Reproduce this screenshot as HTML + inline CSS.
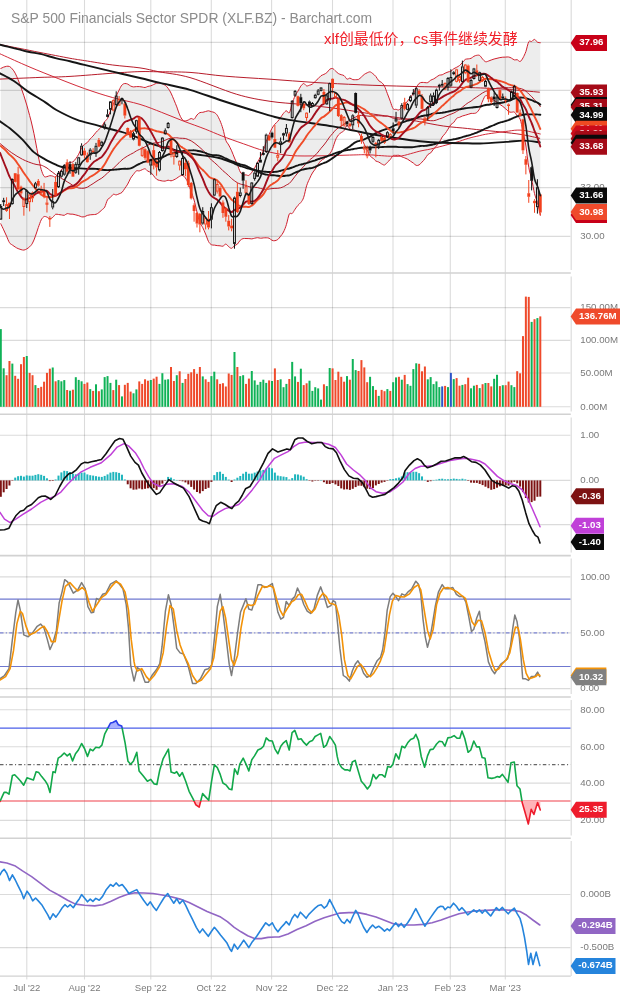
<!DOCTYPE html>
<html><head><meta charset="utf-8"><title>XLF - Barchart</title>
<style>
html,body{margin:0;padding:0;background:#fff;width:621px;height:1000px;overflow:hidden}
svg{display:block}
.ax{font-family:"Liberation Sans","DejaVu Sans",sans-serif;font-size:9.7px;fill:#7a7a7a}
.mo{font-family:"Liberation Sans","DejaVu Sans",sans-serif;font-size:9.5px;fill:#7a7a7a}
.tg{font-family:"Liberation Sans","DejaVu Sans",sans-serif;font-size:9.7px;font-weight:bold}
.ti{font-family:"Liberation Sans","DejaVu Sans",sans-serif;font-size:13.9px;fill:#8c8c8c}
.cn{font-family:"Liberation Sans","Noto Sans CJK SC",sans-serif;font-size:14.9px;fill:#f0202a}
</style></head><body>
<svg width="621" height="1000" viewBox="0 0 621 1000"><rect width="621" height="1000" fill="#fff"/><line x1="26.8" y1="0" x2="26.8" y2="979.5" stroke="#000" stroke-opacity="0.14" stroke-width="1.1"/><line x1="84.5" y1="0" x2="84.5" y2="979.5" stroke="#000" stroke-opacity="0.14" stroke-width="1.1"/><line x1="150.8" y1="0" x2="150.8" y2="979.5" stroke="#000" stroke-opacity="0.14" stroke-width="1.1"/><line x1="211.3" y1="0" x2="211.3" y2="979.5" stroke="#000" stroke-opacity="0.14" stroke-width="1.1"/><line x1="271.6" y1="0" x2="271.6" y2="979.5" stroke="#000" stroke-opacity="0.14" stroke-width="1.1"/><line x1="332.5" y1="0" x2="332.5" y2="979.5" stroke="#000" stroke-opacity="0.14" stroke-width="1.1"/><line x1="393.0" y1="0" x2="393.0" y2="979.5" stroke="#000" stroke-opacity="0.14" stroke-width="1.1"/><line x1="450.3" y1="0" x2="450.3" y2="979.5" stroke="#000" stroke-opacity="0.14" stroke-width="1.1"/><line x1="505.3" y1="0" x2="505.3" y2="979.5" stroke="#000" stroke-opacity="0.14" stroke-width="1.1"/><line x1="0" y1="42.4" x2="570.5" y2="42.4" stroke="#000" stroke-width="1.1" stroke-opacity="0.14"/><line x1="0" y1="90.4" x2="570.5" y2="90.4" stroke="#000" stroke-width="1.1" stroke-opacity="0.14"/><line x1="0" y1="139.2" x2="570.5" y2="139.2" stroke="#000" stroke-width="1.1" stroke-opacity="0.14"/><line x1="0" y1="187.6" x2="570.5" y2="187.6" stroke="#000" stroke-width="1.1" stroke-opacity="0.14"/><line x1="0" y1="236.4" x2="570.5" y2="236.4" stroke="#000" stroke-width="1.1" stroke-opacity="0.14"/><line x1="0" y1="307.6" x2="570.5" y2="307.6" stroke="#000" stroke-width="1.1" stroke-opacity="0.14"/><line x1="0" y1="340.4" x2="570.5" y2="340.4" stroke="#000" stroke-width="1.1" stroke-opacity="0.14"/><line x1="0" y1="373.0" x2="570.5" y2="373.0" stroke="#000" stroke-width="1.1" stroke-opacity="0.14"/><line x1="0" y1="406.8" x2="570.5" y2="406.8" stroke="#000" stroke-width="1.1" stroke-opacity="0.14"/><line x1="0" y1="435.3" x2="570.5" y2="435.3" stroke="#000" stroke-width="1.1" stroke-opacity="0.14"/><line x1="0" y1="480.4" x2="570.5" y2="480.4" stroke="#000" stroke-width="1.1" stroke-opacity="0.14"/><line x1="0" y1="524.6" x2="570.5" y2="524.6" stroke="#000" stroke-width="1.1" stroke-opacity="0.14"/><line x1="0" y1="576.9" x2="570.5" y2="576.9" stroke="#000" stroke-width="1.1" stroke-opacity="0.14"/><line x1="0" y1="632.9" x2="570.5" y2="632.9" stroke="#000" stroke-width="1.1" stroke-opacity="0.14"/><line x1="0" y1="688.6" x2="570.5" y2="688.6" stroke="#000" stroke-width="1.1" stroke-opacity="0.14"/><line x1="0" y1="709.8" x2="570.5" y2="709.8" stroke="#000" stroke-width="1.1" stroke-opacity="0.14"/><line x1="0" y1="746.8" x2="570.5" y2="746.8" stroke="#000" stroke-width="1.1" stroke-opacity="0.14"/><line x1="0" y1="783.1" x2="570.5" y2="783.1" stroke="#000" stroke-width="1.1" stroke-opacity="0.14"/><line x1="0" y1="820.4" x2="570.5" y2="820.4" stroke="#000" stroke-width="1.1" stroke-opacity="0.14"/><line x1="0" y1="894.5" x2="570.5" y2="894.5" stroke="#000" stroke-width="1.1" stroke-opacity="0.14"/><line x1="0" y1="947.6" x2="570.5" y2="947.6" stroke="#000" stroke-width="1.1" stroke-opacity="0.14"/><line x1="0" y1="273.0" x2="570.8" y2="273.0" stroke="#d2d2d2" stroke-width="1.6" /><line x1="0" y1="414.3" x2="570.8" y2="414.3" stroke="#d2d2d2" stroke-width="1.6" /><line x1="0" y1="555.6" x2="570.8" y2="555.6" stroke="#d2d2d2" stroke-width="1.6" /><line x1="0" y1="697.0" x2="570.8" y2="697.0" stroke="#d2d2d2" stroke-width="1.6" /><line x1="0" y1="838.3" x2="570.8" y2="838.3" stroke="#d2d2d2" stroke-width="1.6" /><line x1="0" y1="976.2" x2="570.8" y2="976.2" stroke="#d2d2d2" stroke-width="1.3" /><line x1="571.2" y1="0" x2="571.2" y2="270" stroke="#dcdcdc" stroke-width="1.2"/><line x1="571.2" y1="276.5" x2="571.2" y2="411.5" stroke="#dcdcdc" stroke-width="1.2"/><line x1="571.2" y1="417.5" x2="571.2" y2="552.5" stroke="#dcdcdc" stroke-width="1.2"/><line x1="571.2" y1="558.5" x2="571.2" y2="694" stroke="#dcdcdc" stroke-width="1.2"/><line x1="571.2" y1="700" x2="571.2" y2="835.5" stroke="#dcdcdc" stroke-width="1.2"/><line x1="571.2" y1="841" x2="571.2" y2="976" stroke="#dcdcdc" stroke-width="1.2"/><path d="M0.8,68.5 C1.3,68.3 2.7,67.5 3.7,67.1 C4.6,66.8 5.6,66.5 6.6,66.3 C7.5,66.2 8.5,66.0 9.5,66.5 C10.4,66.9 11.4,67.9 12.3,69.0 C13.3,70.1 14.3,71.4 15.2,73.2 C16.2,75.0 17.1,77.4 18.1,79.7 C19.1,82.1 20.0,84.7 21.0,87.4 C22.0,90.1 22.9,92.9 23.9,95.8 C24.8,98.8 25.8,101.9 26.8,105.1 C27.7,108.4 28.7,111.8 29.6,115.4 C30.6,119.0 31.6,122.7 32.5,127.0 C33.5,131.2 34.5,136.1 35.4,140.9 C36.4,145.8 37.3,151.5 38.3,156.2 C39.3,161.0 40.2,166.0 41.2,169.4 C42.2,172.7 43.1,175.1 44.1,176.3 C45.0,177.5 46.0,176.7 47.0,176.6 C47.9,176.5 48.9,175.8 49.8,175.7 C50.8,175.6 51.8,175.9 52.7,176.1 C53.7,176.3 54.7,177.5 55.6,177.1 C56.6,176.6 57.5,174.7 58.5,173.5 C59.5,172.4 60.4,171.3 61.4,170.0 C62.3,168.7 63.3,166.8 64.3,165.8 C65.2,164.8 66.2,164.5 67.2,164.0 C68.1,163.4 69.1,162.8 70.0,162.5 C71.0,162.1 72.0,162.5 72.9,161.9 C73.9,161.2 74.8,159.9 75.8,158.6 C76.8,157.3 77.7,156.0 78.7,154.2 C79.7,152.4 80.6,149.5 81.6,147.8 C82.5,146.2 83.5,145.3 84.5,144.4 C85.4,143.5 86.4,143.5 87.3,142.5 C88.3,141.6 89.3,139.9 90.2,138.8 C91.2,137.7 92.2,137.1 93.1,136.0 C94.1,134.9 95.0,133.4 96.0,132.3 C97.0,131.2 97.9,130.4 98.9,129.4 C99.9,128.5 100.8,127.8 101.8,126.5 C102.7,125.2 103.7,122.9 104.7,121.5 C105.6,120.2 106.6,120.3 107.5,118.5 C108.5,116.8 109.5,113.3 110.4,111.0 C111.4,108.7 112.4,106.9 113.3,104.5 C114.3,102.0 115.2,98.6 116.2,96.2 C117.2,93.8 118.1,92.0 119.1,90.1 C120.0,88.2 121.0,86.1 122.0,85.0 C122.9,83.9 123.9,83.7 124.9,83.5 C125.8,83.4 126.8,83.7 127.7,84.1 C128.7,84.5 129.7,85.6 130.6,86.0 C131.6,86.5 132.5,86.8 133.5,86.9 C134.5,87.0 135.4,86.6 136.4,86.6 C137.4,86.6 138.3,86.5 139.3,86.6 C140.2,86.7 141.2,86.9 142.2,87.0 C143.1,87.2 144.1,87.6 145.1,87.5 C146.0,87.4 147.0,86.7 147.9,86.4 C148.9,86.1 149.9,86.2 150.8,85.8 C151.8,85.5 152.7,85.0 153.7,84.5 C154.7,84.1 155.6,83.5 156.6,83.2 C157.6,83.0 158.5,83.0 159.5,83.1 C160.4,83.2 161.4,83.4 162.4,83.8 C163.3,84.2 164.3,84.5 165.2,85.3 C166.2,86.0 167.2,87.0 168.1,88.3 C169.1,89.6 170.1,91.2 171.0,93.1 C172.0,95.0 172.9,97.5 173.9,99.8 C174.9,102.2 175.8,104.4 176.8,106.9 C177.7,109.4 178.7,112.8 179.7,114.9 C180.6,117.1 181.6,118.9 182.6,119.9 C183.5,120.9 184.5,120.9 185.4,120.9 C186.4,120.9 187.4,120.4 188.3,120.0 C189.3,119.6 190.2,118.6 191.2,118.5 C192.2,118.4 193.1,119.8 194.1,119.2 C195.1,118.6 196.0,116.1 197.0,115.0 C197.9,113.9 198.9,113.1 199.9,112.6 C200.8,112.2 201.8,112.5 202.8,112.3 C203.7,112.1 204.7,111.8 205.6,111.5 C206.6,111.3 207.6,110.8 208.5,110.8 C209.5,110.9 210.4,111.5 211.4,111.7 C212.4,112.0 213.3,111.9 214.3,112.5 C215.3,113.1 216.2,113.8 217.2,115.2 C218.1,116.6 219.1,118.7 220.1,120.9 C221.0,123.2 222.0,125.6 222.9,128.8 C223.9,132.0 224.9,137.6 225.8,140.3 C226.8,143.0 227.8,143.2 228.7,145.0 C229.7,146.7 230.6,148.7 231.6,150.8 C232.6,153.0 233.5,155.7 234.5,158.0 C235.4,160.3 236.4,162.3 237.4,164.6 C238.3,167.0 239.3,170.3 240.3,172.0 C241.2,173.7 242.2,174.2 243.1,174.7 C244.1,175.2 245.1,174.8 246.0,174.9 C247.0,175.0 247.9,175.8 248.9,175.4 C249.9,174.9 250.8,173.5 251.8,172.3 C252.8,171.0 253.7,169.6 254.7,167.9 C255.6,166.2 256.6,164.0 257.6,162.1 C258.5,160.3 259.5,158.7 260.4,156.8 C261.4,154.9 262.4,153.3 263.3,150.8 C264.3,148.2 265.3,144.4 266.2,141.7 C267.2,139.0 268.1,136.7 269.1,134.5 C270.1,132.3 271.0,130.0 272.0,128.3 C273.0,126.5 273.9,125.4 274.9,124.2 C275.8,123.1 276.8,122.5 277.8,121.3 C278.7,120.2 279.7,118.7 280.6,117.4 C281.6,116.1 282.6,114.4 283.5,113.3 C284.5,112.2 285.5,110.8 286.4,110.8 C287.4,110.7 288.3,114.0 289.3,112.8 C290.3,111.6 291.2,106.4 292.2,103.6 C293.1,100.8 294.1,97.9 295.1,95.8 C296.0,93.7 297.0,92.7 298.0,91.1 C298.9,89.5 299.9,87.4 300.8,86.1 C301.8,84.9 302.8,83.6 303.7,83.5 C304.7,83.5 305.6,85.6 306.6,85.9 C307.6,86.2 308.5,85.5 309.5,85.2 C310.5,84.9 311.4,84.7 312.4,84.0 C313.3,83.4 314.3,82.1 315.3,81.2 C316.2,80.3 317.2,79.6 318.1,78.7 C319.1,77.8 320.1,76.4 321.0,75.7 C322.0,75.0 323.0,74.9 323.9,74.4 C324.9,73.9 325.8,73.5 326.8,72.7 C327.8,71.8 328.7,70.0 329.7,69.3 C330.7,68.6 331.6,68.3 332.6,68.5 C333.5,68.8 334.5,70.2 335.5,71.0 C336.4,71.8 337.4,72.8 338.3,73.5 C339.3,74.1 340.3,74.4 341.2,74.7 C342.2,75.1 343.2,74.9 344.1,75.7 C345.1,76.4 346.0,78.7 347.0,79.1 C348.0,79.5 348.9,78.1 349.9,78.1 C350.8,78.2 351.8,79.3 352.8,79.6 C353.7,79.8 354.7,79.7 355.7,79.7 C356.6,79.6 357.6,79.9 358.5,79.4 C359.5,79.0 360.5,77.9 361.4,77.0 C362.4,76.2 363.3,75.1 364.3,74.4 C365.3,73.7 366.2,73.2 367.2,72.8 C368.2,72.4 369.1,71.7 370.1,71.9 C371.0,72.0 372.0,73.0 373.0,73.8 C373.9,74.5 374.9,75.3 375.8,76.4 C376.8,77.6 377.8,79.7 378.7,80.7 C379.7,81.7 380.7,81.6 381.6,82.5 C382.6,83.5 383.5,84.3 384.5,86.2 C385.5,88.1 386.4,91.2 387.4,93.7 C388.4,96.2 389.3,98.8 390.3,101.3 C391.2,103.8 392.2,107.5 393.2,108.8 C394.1,110.2 395.1,109.1 396.0,109.3 C397.0,109.5 398.0,110.3 398.9,109.9 C399.9,109.5 400.9,108.1 401.8,107.2 C402.8,106.3 403.7,105.6 404.7,104.6 C405.7,103.6 406.6,102.3 407.6,101.0 C408.5,99.8 409.5,98.4 410.5,97.1 C411.4,95.9 412.4,95.0 413.4,93.4 C414.3,91.8 415.3,89.2 416.2,87.5 C417.2,85.9 418.2,84.3 419.1,83.4 C420.1,82.6 421.0,82.5 422.0,82.4 C423.0,82.3 423.9,82.6 424.9,82.6 C425.9,82.6 426.8,83.0 427.8,82.6 C428.7,82.2 429.7,80.8 430.7,80.2 C431.6,79.6 432.6,79.5 433.5,79.0 C434.5,78.5 435.5,77.7 436.4,77.1 C437.4,76.4 438.4,75.6 439.3,75.2 C440.3,74.8 441.2,75.1 442.2,74.8 C443.2,74.4 444.1,73.7 445.1,73.2 C446.1,72.8 447.0,72.3 448.0,72.0 C448.9,71.6 449.9,71.7 450.9,71.2 C451.8,70.6 452.8,69.5 453.7,68.8 C454.7,68.2 455.7,67.9 456.6,67.3 C457.6,66.8 458.6,66.3 459.5,65.5 C460.5,64.7 461.4,63.6 462.4,62.5 C463.4,61.5 464.3,60.0 465.3,59.4 C466.2,58.8 467.2,59.1 468.2,58.9 C469.1,58.7 470.1,58.7 471.1,58.3 C472.0,57.9 473.0,56.8 473.9,56.3 C474.9,55.8 475.9,55.4 476.8,55.3 C477.8,55.2 478.7,54.9 479.7,55.5 C480.7,56.1 481.6,58.0 482.6,59.0 C483.6,60.1 484.5,61.4 485.5,61.7 C486.4,62.1 487.4,61.4 488.4,61.1 C489.3,60.8 490.3,60.3 491.2,60.0 C492.2,59.6 493.2,59.3 494.1,59.0 C495.1,58.7 496.1,58.6 497.0,58.3 C498.0,58.1 498.9,57.8 499.9,57.6 C500.9,57.4 501.8,57.3 502.8,57.2 C503.8,57.1 504.7,57.1 505.7,57.1 C506.6,57.0 507.6,56.8 508.6,57.0 C509.5,57.1 510.5,57.6 511.4,58.1 C512.4,58.6 513.4,59.6 514.3,59.9 C515.3,60.2 516.3,59.5 517.2,59.7 C518.2,60.0 519.1,61.8 520.1,61.5 C521.1,61.2 522.0,59.6 523.0,57.9 C523.9,56.2 524.9,54.2 525.9,51.5 C526.8,48.8 527.8,43.4 528.8,41.7 C529.7,40.1 530.7,41.9 531.6,41.5 C532.6,41.1 533.6,39.3 534.5,39.4 C535.5,39.5 536.4,41.6 537.4,42.2 C538.4,42.7 539.8,42.6 540.3,42.7 L540.3,215.4 C539.8,213.2 538.4,206.0 537.4,202.4 C536.4,198.8 535.5,197.5 534.5,193.6 C533.6,189.7 532.6,183.3 531.6,178.9 C530.7,174.5 529.7,172.9 528.8,167.4 C527.8,161.9 526.8,152.0 525.9,146.0 C524.9,139.9 523.9,135.7 523.0,131.3 C522.0,126.8 521.1,121.7 520.1,119.1 C519.1,116.5 518.2,117.1 517.2,115.9 C516.3,114.7 515.3,112.7 514.3,112.1 C513.4,111.5 512.4,112.3 511.4,112.2 C510.5,112.2 509.5,112.2 508.6,111.6 C507.6,111.0 506.6,109.6 505.7,108.8 C504.7,107.9 503.8,107.1 502.8,106.4 C501.8,105.7 500.9,105.1 499.9,104.4 C498.9,103.8 498.0,103.0 497.0,102.3 C496.1,101.7 495.1,101.1 494.1,100.4 C493.2,99.8 492.2,99.1 491.2,98.5 C490.3,97.9 489.3,97.2 488.4,96.7 C487.4,96.2 486.4,95.0 485.5,95.7 C484.5,96.4 483.6,98.8 482.6,101.0 C481.6,103.1 480.7,106.7 479.7,108.6 C478.7,110.5 477.8,111.6 476.8,112.4 C475.9,113.3 474.9,113.3 473.9,113.4 C473.0,113.6 472.0,113.3 471.1,113.4 C470.1,113.6 469.1,114.0 468.2,114.3 C467.2,114.6 466.2,114.9 465.3,115.2 C464.3,115.5 463.4,115.7 462.4,116.0 C461.4,116.4 460.5,116.9 459.5,117.3 C458.6,117.7 457.6,117.5 456.6,118.4 C455.7,119.3 454.7,121.5 453.7,122.5 C452.8,123.5 451.8,123.5 450.9,124.6 C449.9,125.7 448.9,127.7 448.0,129.2 C447.0,130.7 446.1,132.3 445.1,133.6 C444.1,134.9 443.2,135.5 442.2,137.0 C441.2,138.4 440.3,140.8 439.3,142.3 C438.4,143.8 437.4,144.9 436.4,146.0 C435.5,147.1 434.5,147.9 433.5,149.1 C432.6,150.2 431.6,151.9 430.7,152.9 C429.7,153.8 428.7,153.6 427.8,154.6 C426.8,155.6 425.9,157.7 424.9,158.9 C423.9,160.2 423.0,161.1 422.0,162.1 C421.0,163.1 420.1,164.3 419.1,164.9 C418.2,165.4 417.2,165.7 416.2,165.4 C415.3,165.1 414.3,163.8 413.4,163.1 C412.4,162.4 411.4,161.9 410.5,161.2 C409.5,160.6 408.5,159.8 407.6,159.2 C406.6,158.7 405.7,158.3 404.7,157.9 C403.7,157.5 402.8,157.3 401.8,156.8 C400.9,156.4 399.9,155.5 398.9,155.3 C398.0,155.1 397.0,155.4 396.0,155.4 C395.1,155.5 394.1,155.0 393.2,155.6 C392.2,156.3 391.2,158.2 390.3,159.4 C389.3,160.5 388.4,161.4 387.4,162.3 C386.4,163.3 385.5,164.7 384.5,165.0 C383.5,165.2 382.6,164.3 381.6,163.9 C380.7,163.4 379.7,162.5 378.7,162.0 C377.8,161.5 376.8,161.6 375.8,161.0 C374.9,160.3 373.9,159.0 373.0,158.2 C372.0,157.4 371.0,157.2 370.1,155.9 C369.1,154.6 368.2,152.1 367.2,150.2 C366.2,148.3 365.3,146.4 364.3,144.4 C363.3,142.5 362.4,140.3 361.4,138.4 C360.5,136.4 359.5,134.0 358.5,132.7 C357.6,131.4 356.6,130.9 355.7,130.5 C354.7,130.0 353.7,130.1 352.8,129.9 C351.8,129.6 350.8,129.6 349.9,128.9 C348.9,128.1 348.0,125.0 347.0,125.3 C346.0,125.6 345.1,129.3 344.1,130.5 C343.2,131.8 342.2,131.8 341.2,132.6 C340.3,133.3 339.3,133.8 338.3,135.1 C337.4,136.3 336.4,137.8 335.5,140.1 C334.5,142.3 333.5,146.4 332.6,148.7 C331.6,151.1 330.7,152.8 329.7,154.0 C328.7,155.2 327.8,155.2 326.8,156.0 C325.8,156.8 324.9,158.0 323.9,158.8 C323.0,159.5 322.0,159.6 321.0,160.6 C320.1,161.5 319.1,163.0 318.1,164.4 C317.2,165.8 316.2,167.6 315.3,169.0 C314.3,170.5 313.3,171.4 312.4,173.0 C311.4,174.6 310.5,176.7 309.5,178.8 C308.5,180.9 307.6,182.8 306.6,185.8 C305.6,188.9 304.7,194.5 303.7,197.3 C302.8,200.1 301.8,201.2 300.8,202.5 C299.9,203.8 298.9,204.1 298.0,205.3 C297.0,206.4 296.0,207.8 295.1,209.2 C294.1,210.6 293.1,212.7 292.2,213.5 C291.2,214.3 290.3,212.1 289.3,214.0 C288.3,215.8 287.4,221.6 286.4,224.6 C285.5,227.6 284.5,230.0 283.5,232.0 C282.6,233.9 281.6,235.0 280.6,236.2 C279.7,237.5 278.7,238.7 277.8,239.5 C276.8,240.2 275.8,240.6 274.9,240.7 C273.9,240.9 273.0,240.7 272.0,240.3 C271.0,239.9 270.1,238.7 269.1,238.2 C268.1,237.8 267.2,237.8 266.2,237.8 C265.3,237.7 264.3,237.9 263.3,237.9 C262.4,238.0 261.4,238.3 260.4,238.2 C259.5,238.2 258.5,237.7 257.6,237.7 C256.6,237.7 255.6,238.0 254.7,238.2 C253.7,238.4 252.8,238.8 251.8,238.9 C250.8,238.9 249.9,238.7 248.9,238.6 C247.9,238.6 247.0,238.5 246.0,238.5 C245.1,238.5 244.1,238.4 243.1,238.6 C242.2,238.9 241.2,239.3 240.3,240.2 C239.3,241.1 238.3,243.2 237.4,244.1 C236.4,245.0 235.4,244.9 234.5,245.6 C233.5,246.4 232.6,248.1 231.6,248.3 C230.6,248.5 229.7,247.4 228.7,246.7 C227.8,246.0 226.8,244.2 225.8,244.1 C224.9,244.0 223.9,245.9 222.9,246.2 C222.0,246.5 221.0,245.9 220.1,245.8 C219.1,245.7 218.1,245.7 217.2,245.6 C216.2,245.5 215.3,245.3 214.3,245.1 C213.3,245.0 212.4,245.3 211.4,244.7 C210.4,244.1 209.5,243.3 208.5,241.5 C207.6,239.7 206.6,236.3 205.6,234.0 C204.7,231.7 203.7,229.7 202.8,227.7 C201.8,225.8 200.8,224.7 199.9,222.1 C198.9,219.5 197.9,215.8 197.0,212.1 C196.0,208.4 195.1,203.5 194.1,200.1 C193.1,196.7 192.2,194.4 191.2,191.7 C190.2,189.0 189.3,186.0 188.3,183.7 C187.4,181.4 186.4,179.4 185.4,178.0 C184.5,176.6 183.5,175.8 182.6,175.5 C181.6,175.2 180.6,175.8 179.7,176.2 C178.7,176.7 177.7,177.6 176.8,178.2 C175.8,178.8 174.9,179.4 173.9,179.8 C172.9,180.3 172.0,180.8 171.0,180.8 C170.1,180.9 169.1,180.2 168.1,180.2 C167.2,180.2 166.2,181.0 165.2,181.1 C164.3,181.2 163.3,181.1 162.4,181.0 C161.4,180.9 160.4,180.7 159.5,180.4 C158.5,180.1 157.6,180.0 156.6,179.2 C155.6,178.5 154.7,177.0 153.7,175.8 C152.7,174.7 151.8,173.3 150.8,172.5 C149.9,171.7 148.9,171.8 147.9,171.2 C147.0,170.6 146.0,169.1 145.1,168.8 C144.1,168.6 143.1,169.4 142.2,169.7 C141.2,170.1 140.2,170.7 139.3,170.9 C138.3,171.1 137.4,170.3 136.4,170.9 C135.4,171.4 134.5,173.1 133.5,174.3 C132.5,175.5 131.6,176.6 130.6,178.2 C129.7,179.8 128.7,182.4 127.7,184.1 C126.8,185.8 125.8,186.9 124.9,188.3 C123.9,189.7 122.9,191.5 122.0,192.4 C121.0,193.3 120.0,193.4 119.1,193.8 C118.1,194.2 117.2,194.8 116.2,194.9 C115.2,195.0 114.3,193.9 113.3,194.3 C112.4,194.8 111.4,196.5 110.4,197.4 C109.5,198.3 108.5,198.2 107.5,199.8 C106.6,201.4 105.6,205.4 104.7,207.1 C103.7,208.8 102.7,209.1 101.8,210.0 C100.8,210.9 99.9,211.8 98.9,212.6 C97.9,213.3 97.0,214.0 96.0,214.3 C95.0,214.6 94.1,214.5 93.1,214.6 C92.2,214.7 91.2,214.7 90.2,214.8 C89.3,215.0 88.3,215.1 87.3,215.4 C86.4,215.7 85.4,216.5 84.5,216.7 C83.5,217.0 82.5,217.0 81.6,216.8 C80.6,216.6 79.7,216.0 78.7,215.7 C77.7,215.4 76.8,215.2 75.8,214.9 C74.8,214.7 73.9,214.4 72.9,214.2 C72.0,214.1 71.0,214.2 70.0,214.1 C69.1,214.0 68.1,213.4 67.2,213.6 C66.2,213.8 65.2,215.0 64.3,215.3 C63.3,215.5 62.3,215.0 61.4,214.9 C60.4,214.8 59.5,214.6 58.5,214.5 C57.5,214.4 56.6,213.9 55.6,214.3 C54.7,214.8 53.7,216.6 52.7,217.4 C51.8,218.1 50.8,218.8 49.8,218.7 C48.9,218.7 47.9,217.5 47.0,217.1 C46.0,216.8 45.0,216.1 44.1,216.6 C43.1,217.0 42.2,218.1 41.2,219.9 C40.2,221.8 39.3,224.8 38.3,227.5 C37.3,230.3 36.4,233.6 35.4,236.2 C34.5,238.8 33.5,241.3 32.5,243.1 C31.6,244.9 30.6,245.8 29.6,246.8 C28.7,247.7 27.7,248.3 26.8,248.9 C25.8,249.4 24.8,250.0 23.9,250.1 C22.9,250.2 22.0,249.8 21.0,249.6 C20.0,249.3 19.1,249.0 18.1,248.6 C17.1,248.2 16.2,247.6 15.2,247.0 C14.3,246.4 13.3,245.7 12.3,245.0 C11.4,244.3 10.4,244.2 9.5,242.7 C8.5,241.2 7.5,238.3 6.6,236.2 C5.6,234.0 4.6,231.9 3.7,229.9 C2.7,227.8 1.3,224.8 0.8,223.8 Z" fill="#000" fill-opacity="0.072" stroke="none"/><path d="M0.8,68.5 C1.3,68.3 2.7,67.5 3.7,67.1 C4.6,66.8 5.6,66.5 6.6,66.3 C7.5,66.2 8.5,66.0 9.5,66.5 C10.4,66.9 11.4,67.9 12.3,69.0 C13.3,70.1 14.3,71.4 15.2,73.2 C16.2,75.0 17.1,77.4 18.1,79.7 C19.1,82.1 20.0,84.7 21.0,87.4 C22.0,90.1 22.9,92.9 23.9,95.8 C24.8,98.8 25.8,101.9 26.8,105.1 C27.7,108.4 28.7,111.8 29.6,115.4 C30.6,119.0 31.6,122.7 32.5,127.0 C33.5,131.2 34.5,136.1 35.4,140.9 C36.4,145.8 37.3,151.5 38.3,156.2 C39.3,161.0 40.2,166.0 41.2,169.4 C42.2,172.7 43.1,175.1 44.1,176.3 C45.0,177.5 46.0,176.7 47.0,176.6 C47.9,176.5 48.9,175.8 49.8,175.7 C50.8,175.6 51.8,175.9 52.7,176.1 C53.7,176.3 54.7,177.5 55.6,177.1 C56.6,176.6 57.5,174.7 58.5,173.5 C59.5,172.4 60.4,171.3 61.4,170.0 C62.3,168.7 63.3,166.8 64.3,165.8 C65.2,164.8 66.2,164.5 67.2,164.0 C68.1,163.4 69.1,162.8 70.0,162.5 C71.0,162.1 72.0,162.5 72.9,161.9 C73.9,161.2 74.8,159.9 75.8,158.6 C76.8,157.3 77.7,156.0 78.7,154.2 C79.7,152.4 80.6,149.5 81.6,147.8 C82.5,146.2 83.5,145.3 84.5,144.4 C85.4,143.5 86.4,143.5 87.3,142.5 C88.3,141.6 89.3,139.9 90.2,138.8 C91.2,137.7 92.2,137.1 93.1,136.0 C94.1,134.9 95.0,133.4 96.0,132.3 C97.0,131.2 97.9,130.4 98.9,129.4 C99.9,128.5 100.8,127.8 101.8,126.5 C102.7,125.2 103.7,122.9 104.7,121.5 C105.6,120.2 106.6,120.3 107.5,118.5 C108.5,116.8 109.5,113.3 110.4,111.0 C111.4,108.7 112.4,106.9 113.3,104.5 C114.3,102.0 115.2,98.6 116.2,96.2 C117.2,93.8 118.1,92.0 119.1,90.1 C120.0,88.2 121.0,86.1 122.0,85.0 C122.9,83.9 123.9,83.7 124.9,83.5 C125.8,83.4 126.8,83.7 127.7,84.1 C128.7,84.5 129.7,85.6 130.6,86.0 C131.6,86.5 132.5,86.8 133.5,86.9 C134.5,87.0 135.4,86.6 136.4,86.6 C137.4,86.6 138.3,86.5 139.3,86.6 C140.2,86.7 141.2,86.9 142.2,87.0 C143.1,87.2 144.1,87.6 145.1,87.5 C146.0,87.4 147.0,86.7 147.9,86.4 C148.9,86.1 149.9,86.2 150.8,85.8 C151.8,85.5 152.7,85.0 153.7,84.5 C154.7,84.1 155.6,83.5 156.6,83.2 C157.6,83.0 158.5,83.0 159.5,83.1 C160.4,83.2 161.4,83.4 162.4,83.8 C163.3,84.2 164.3,84.5 165.2,85.3 C166.2,86.0 167.2,87.0 168.1,88.3 C169.1,89.6 170.1,91.2 171.0,93.1 C172.0,95.0 172.9,97.5 173.9,99.8 C174.9,102.2 175.8,104.4 176.8,106.9 C177.7,109.4 178.7,112.8 179.7,114.9 C180.6,117.1 181.6,118.9 182.6,119.9 C183.5,120.9 184.5,120.9 185.4,120.9 C186.4,120.9 187.4,120.4 188.3,120.0 C189.3,119.6 190.2,118.6 191.2,118.5 C192.2,118.4 193.1,119.8 194.1,119.2 C195.1,118.6 196.0,116.1 197.0,115.0 C197.9,113.9 198.9,113.1 199.9,112.6 C200.8,112.2 201.8,112.5 202.8,112.3 C203.7,112.1 204.7,111.8 205.6,111.5 C206.6,111.3 207.6,110.8 208.5,110.8 C209.5,110.9 210.4,111.5 211.4,111.7 C212.4,112.0 213.3,111.9 214.3,112.5 C215.3,113.1 216.2,113.8 217.2,115.2 C218.1,116.6 219.1,118.7 220.1,120.9 C221.0,123.2 222.0,125.6 222.9,128.8 C223.9,132.0 224.9,137.6 225.8,140.3 C226.8,143.0 227.8,143.2 228.7,145.0 C229.7,146.7 230.6,148.7 231.6,150.8 C232.6,153.0 233.5,155.7 234.5,158.0 C235.4,160.3 236.4,162.3 237.4,164.6 C238.3,167.0 239.3,170.3 240.3,172.0 C241.2,173.7 242.2,174.2 243.1,174.7 C244.1,175.2 245.1,174.8 246.0,174.9 C247.0,175.0 247.9,175.8 248.9,175.4 C249.9,174.9 250.8,173.5 251.8,172.3 C252.8,171.0 253.7,169.6 254.7,167.9 C255.6,166.2 256.6,164.0 257.6,162.1 C258.5,160.3 259.5,158.7 260.4,156.8 C261.4,154.9 262.4,153.3 263.3,150.8 C264.3,148.2 265.3,144.4 266.2,141.7 C267.2,139.0 268.1,136.7 269.1,134.5 C270.1,132.3 271.0,130.0 272.0,128.3 C273.0,126.5 273.9,125.4 274.9,124.2 C275.8,123.1 276.8,122.5 277.8,121.3 C278.7,120.2 279.7,118.7 280.6,117.4 C281.6,116.1 282.6,114.4 283.5,113.3 C284.5,112.2 285.5,110.8 286.4,110.8 C287.4,110.7 288.3,114.0 289.3,112.8 C290.3,111.6 291.2,106.4 292.2,103.6 C293.1,100.8 294.1,97.9 295.1,95.8 C296.0,93.7 297.0,92.7 298.0,91.1 C298.9,89.5 299.9,87.4 300.8,86.1 C301.8,84.9 302.8,83.6 303.7,83.5 C304.7,83.5 305.6,85.6 306.6,85.9 C307.6,86.2 308.5,85.5 309.5,85.2 C310.5,84.9 311.4,84.7 312.4,84.0 C313.3,83.4 314.3,82.1 315.3,81.2 C316.2,80.3 317.2,79.6 318.1,78.7 C319.1,77.8 320.1,76.4 321.0,75.7 C322.0,75.0 323.0,74.9 323.9,74.4 C324.9,73.9 325.8,73.5 326.8,72.7 C327.8,71.8 328.7,70.0 329.7,69.3 C330.7,68.6 331.6,68.3 332.6,68.5 C333.5,68.8 334.5,70.2 335.5,71.0 C336.4,71.8 337.4,72.8 338.3,73.5 C339.3,74.1 340.3,74.4 341.2,74.7 C342.2,75.1 343.2,74.9 344.1,75.7 C345.1,76.4 346.0,78.7 347.0,79.1 C348.0,79.5 348.9,78.1 349.9,78.1 C350.8,78.2 351.8,79.3 352.8,79.6 C353.7,79.8 354.7,79.7 355.7,79.7 C356.6,79.6 357.6,79.9 358.5,79.4 C359.5,79.0 360.5,77.9 361.4,77.0 C362.4,76.2 363.3,75.1 364.3,74.4 C365.3,73.7 366.2,73.2 367.2,72.8 C368.2,72.4 369.1,71.7 370.1,71.9 C371.0,72.0 372.0,73.0 373.0,73.8 C373.9,74.5 374.9,75.3 375.8,76.4 C376.8,77.6 377.8,79.7 378.7,80.7 C379.7,81.7 380.7,81.6 381.6,82.5 C382.6,83.5 383.5,84.3 384.5,86.2 C385.5,88.1 386.4,91.2 387.4,93.7 C388.4,96.2 389.3,98.8 390.3,101.3 C391.2,103.8 392.2,107.5 393.2,108.8 C394.1,110.2 395.1,109.1 396.0,109.3 C397.0,109.5 398.0,110.3 398.9,109.9 C399.9,109.5 400.9,108.1 401.8,107.2 C402.8,106.3 403.7,105.6 404.7,104.6 C405.7,103.6 406.6,102.3 407.6,101.0 C408.5,99.8 409.5,98.4 410.5,97.1 C411.4,95.9 412.4,95.0 413.4,93.4 C414.3,91.8 415.3,89.2 416.2,87.5 C417.2,85.9 418.2,84.3 419.1,83.4 C420.1,82.6 421.0,82.5 422.0,82.4 C423.0,82.3 423.9,82.6 424.9,82.6 C425.9,82.6 426.8,83.0 427.8,82.6 C428.7,82.2 429.7,80.8 430.7,80.2 C431.6,79.6 432.6,79.5 433.5,79.0 C434.5,78.5 435.5,77.7 436.4,77.1 C437.4,76.4 438.4,75.6 439.3,75.2 C440.3,74.8 441.2,75.1 442.2,74.8 C443.2,74.4 444.1,73.7 445.1,73.2 C446.1,72.8 447.0,72.3 448.0,72.0 C448.9,71.6 449.9,71.7 450.9,71.2 C451.8,70.6 452.8,69.5 453.7,68.8 C454.7,68.2 455.7,67.9 456.6,67.3 C457.6,66.8 458.6,66.3 459.5,65.5 C460.5,64.7 461.4,63.6 462.4,62.5 C463.4,61.5 464.3,60.0 465.3,59.4 C466.2,58.8 467.2,59.1 468.2,58.9 C469.1,58.7 470.1,58.7 471.1,58.3 C472.0,57.9 473.0,56.8 473.9,56.3 C474.9,55.8 475.9,55.4 476.8,55.3 C477.8,55.2 478.7,54.9 479.7,55.5 C480.7,56.1 481.6,58.0 482.6,59.0 C483.6,60.1 484.5,61.4 485.5,61.7 C486.4,62.1 487.4,61.4 488.4,61.1 C489.3,60.8 490.3,60.3 491.2,60.0 C492.2,59.6 493.2,59.3 494.1,59.0 C495.1,58.7 496.1,58.6 497.0,58.3 C498.0,58.1 498.9,57.8 499.9,57.6 C500.9,57.4 501.8,57.3 502.8,57.2 C503.8,57.1 504.7,57.1 505.7,57.1 C506.6,57.0 507.6,56.8 508.6,57.0 C509.5,57.1 510.5,57.6 511.4,58.1 C512.4,58.6 513.4,59.6 514.3,59.9 C515.3,60.2 516.3,59.5 517.2,59.7 C518.2,60.0 519.1,61.8 520.1,61.5 C521.1,61.2 522.0,59.6 523.0,57.9 C523.9,56.2 524.9,54.2 525.9,51.5 C526.8,48.8 527.8,43.4 528.8,41.7 C529.7,40.1 530.7,41.9 531.6,41.5 C532.6,41.1 533.6,39.3 534.5,39.4 C535.5,39.5 536.4,41.6 537.4,42.2 C538.4,42.7 539.8,42.6 540.3,42.7" fill="none" stroke="#d0202e" stroke-width="1.0" stroke-linejoin="round" stroke-linecap="round" /><path d="M0.8,223.8 C1.3,224.8 2.7,227.8 3.7,229.9 C4.6,231.9 5.6,234.0 6.6,236.2 C7.5,238.3 8.5,241.2 9.5,242.7 C10.4,244.2 11.4,244.3 12.3,245.0 C13.3,245.7 14.3,246.4 15.2,247.0 C16.2,247.6 17.1,248.2 18.1,248.6 C19.1,249.0 20.0,249.3 21.0,249.6 C22.0,249.8 22.9,250.2 23.9,250.1 C24.8,250.0 25.8,249.4 26.8,248.9 C27.7,248.3 28.7,247.7 29.6,246.8 C30.6,245.8 31.6,244.9 32.5,243.1 C33.5,241.3 34.5,238.8 35.4,236.2 C36.4,233.6 37.3,230.3 38.3,227.5 C39.3,224.8 40.2,221.8 41.2,219.9 C42.2,218.1 43.1,217.0 44.1,216.6 C45.0,216.1 46.0,216.8 47.0,217.1 C47.9,217.5 48.9,218.7 49.8,218.7 C50.8,218.8 51.8,218.1 52.7,217.4 C53.7,216.6 54.7,214.8 55.6,214.3 C56.6,213.9 57.5,214.4 58.5,214.5 C59.5,214.6 60.4,214.8 61.4,214.9 C62.3,215.0 63.3,215.5 64.3,215.3 C65.2,215.0 66.2,213.8 67.2,213.6 C68.1,213.4 69.1,214.0 70.0,214.1 C71.0,214.2 72.0,214.1 72.9,214.2 C73.9,214.4 74.8,214.7 75.8,214.9 C76.8,215.2 77.7,215.4 78.7,215.7 C79.7,216.0 80.6,216.6 81.6,216.8 C82.5,217.0 83.5,217.0 84.5,216.7 C85.4,216.5 86.4,215.7 87.3,215.4 C88.3,215.1 89.3,215.0 90.2,214.8 C91.2,214.7 92.2,214.7 93.1,214.6 C94.1,214.5 95.0,214.6 96.0,214.3 C97.0,214.0 97.9,213.3 98.9,212.6 C99.9,211.8 100.8,210.9 101.8,210.0 C102.7,209.1 103.7,208.8 104.7,207.1 C105.6,205.4 106.6,201.4 107.5,199.8 C108.5,198.2 109.5,198.3 110.4,197.4 C111.4,196.5 112.4,194.8 113.3,194.3 C114.3,193.9 115.2,195.0 116.2,194.9 C117.2,194.8 118.1,194.2 119.1,193.8 C120.0,193.4 121.0,193.3 122.0,192.4 C122.9,191.5 123.9,189.7 124.9,188.3 C125.8,186.9 126.8,185.8 127.7,184.1 C128.7,182.4 129.7,179.8 130.6,178.2 C131.6,176.6 132.5,175.5 133.5,174.3 C134.5,173.1 135.4,171.4 136.4,170.9 C137.4,170.3 138.3,171.1 139.3,170.9 C140.2,170.7 141.2,170.1 142.2,169.7 C143.1,169.4 144.1,168.6 145.1,168.8 C146.0,169.1 147.0,170.6 147.9,171.2 C148.9,171.8 149.9,171.7 150.8,172.5 C151.8,173.3 152.7,174.7 153.7,175.8 C154.7,177.0 155.6,178.5 156.6,179.2 C157.6,180.0 158.5,180.1 159.5,180.4 C160.4,180.7 161.4,180.9 162.4,181.0 C163.3,181.1 164.3,181.2 165.2,181.1 C166.2,181.0 167.2,180.2 168.1,180.2 C169.1,180.2 170.1,180.9 171.0,180.8 C172.0,180.8 172.9,180.3 173.9,179.8 C174.9,179.4 175.8,178.8 176.8,178.2 C177.7,177.6 178.7,176.7 179.7,176.2 C180.6,175.8 181.6,175.2 182.6,175.5 C183.5,175.8 184.5,176.6 185.4,178.0 C186.4,179.4 187.4,181.4 188.3,183.7 C189.3,186.0 190.2,189.0 191.2,191.7 C192.2,194.4 193.1,196.7 194.1,200.1 C195.1,203.5 196.0,208.4 197.0,212.1 C197.9,215.8 198.9,219.5 199.9,222.1 C200.8,224.7 201.8,225.8 202.8,227.7 C203.7,229.7 204.7,231.7 205.6,234.0 C206.6,236.3 207.6,239.7 208.5,241.5 C209.5,243.3 210.4,244.1 211.4,244.7 C212.4,245.3 213.3,245.0 214.3,245.1 C215.3,245.3 216.2,245.5 217.2,245.6 C218.1,245.7 219.1,245.7 220.1,245.8 C221.0,245.9 222.0,246.5 222.9,246.2 C223.9,245.9 224.9,244.0 225.8,244.1 C226.8,244.2 227.8,246.0 228.7,246.7 C229.7,247.4 230.6,248.5 231.6,248.3 C232.6,248.1 233.5,246.4 234.5,245.6 C235.4,244.9 236.4,245.0 237.4,244.1 C238.3,243.2 239.3,241.1 240.3,240.2 C241.2,239.3 242.2,238.9 243.1,238.6 C244.1,238.4 245.1,238.5 246.0,238.5 C247.0,238.5 247.9,238.6 248.9,238.6 C249.9,238.7 250.8,238.9 251.8,238.9 C252.8,238.8 253.7,238.4 254.7,238.2 C255.6,238.0 256.6,237.7 257.6,237.7 C258.5,237.7 259.5,238.2 260.4,238.2 C261.4,238.3 262.4,238.0 263.3,237.9 C264.3,237.9 265.3,237.7 266.2,237.8 C267.2,237.8 268.1,237.8 269.1,238.2 C270.1,238.7 271.0,239.9 272.0,240.3 C273.0,240.7 273.9,240.9 274.9,240.7 C275.8,240.6 276.8,240.2 277.8,239.5 C278.7,238.7 279.7,237.5 280.6,236.2 C281.6,235.0 282.6,233.9 283.5,232.0 C284.5,230.0 285.5,227.6 286.4,224.6 C287.4,221.6 288.3,215.8 289.3,214.0 C290.3,212.1 291.2,214.3 292.2,213.5 C293.1,212.7 294.1,210.6 295.1,209.2 C296.0,207.8 297.0,206.4 298.0,205.3 C298.9,204.1 299.9,203.8 300.8,202.5 C301.8,201.2 302.8,200.1 303.7,197.3 C304.7,194.5 305.6,188.9 306.6,185.8 C307.6,182.8 308.5,180.9 309.5,178.8 C310.5,176.7 311.4,174.6 312.4,173.0 C313.3,171.4 314.3,170.5 315.3,169.0 C316.2,167.6 317.2,165.8 318.1,164.4 C319.1,163.0 320.1,161.5 321.0,160.6 C322.0,159.6 323.0,159.5 323.9,158.8 C324.9,158.0 325.8,156.8 326.8,156.0 C327.8,155.2 328.7,155.2 329.7,154.0 C330.7,152.8 331.6,151.1 332.6,148.7 C333.5,146.4 334.5,142.3 335.5,140.1 C336.4,137.8 337.4,136.3 338.3,135.1 C339.3,133.8 340.3,133.3 341.2,132.6 C342.2,131.8 343.2,131.8 344.1,130.5 C345.1,129.3 346.0,125.6 347.0,125.3 C348.0,125.0 348.9,128.1 349.9,128.9 C350.8,129.6 351.8,129.6 352.8,129.9 C353.7,130.1 354.7,130.0 355.7,130.5 C356.6,130.9 357.6,131.4 358.5,132.7 C359.5,134.0 360.5,136.4 361.4,138.4 C362.4,140.3 363.3,142.5 364.3,144.4 C365.3,146.4 366.2,148.3 367.2,150.2 C368.2,152.1 369.1,154.6 370.1,155.9 C371.0,157.2 372.0,157.4 373.0,158.2 C373.9,159.0 374.9,160.3 375.8,161.0 C376.8,161.6 377.8,161.5 378.7,162.0 C379.7,162.5 380.7,163.4 381.6,163.9 C382.6,164.3 383.5,165.2 384.5,165.0 C385.5,164.7 386.4,163.3 387.4,162.3 C388.4,161.4 389.3,160.5 390.3,159.4 C391.2,158.2 392.2,156.3 393.2,155.6 C394.1,155.0 395.1,155.5 396.0,155.4 C397.0,155.4 398.0,155.1 398.9,155.3 C399.9,155.5 400.9,156.4 401.8,156.8 C402.8,157.3 403.7,157.5 404.7,157.9 C405.7,158.3 406.6,158.7 407.6,159.2 C408.5,159.8 409.5,160.6 410.5,161.2 C411.4,161.9 412.4,162.4 413.4,163.1 C414.3,163.8 415.3,165.1 416.2,165.4 C417.2,165.7 418.2,165.4 419.1,164.9 C420.1,164.3 421.0,163.1 422.0,162.1 C423.0,161.1 423.9,160.2 424.9,158.9 C425.9,157.7 426.8,155.6 427.8,154.6 C428.7,153.6 429.7,153.8 430.7,152.9 C431.6,151.9 432.6,150.2 433.5,149.1 C434.5,147.9 435.5,147.1 436.4,146.0 C437.4,144.9 438.4,143.8 439.3,142.3 C440.3,140.8 441.2,138.4 442.2,137.0 C443.2,135.5 444.1,134.9 445.1,133.6 C446.1,132.3 447.0,130.7 448.0,129.2 C448.9,127.7 449.9,125.7 450.9,124.6 C451.8,123.5 452.8,123.5 453.7,122.5 C454.7,121.5 455.7,119.3 456.6,118.4 C457.6,117.5 458.6,117.7 459.5,117.3 C460.5,116.9 461.4,116.4 462.4,116.0 C463.4,115.7 464.3,115.5 465.3,115.2 C466.2,114.9 467.2,114.6 468.2,114.3 C469.1,114.0 470.1,113.6 471.1,113.4 C472.0,113.3 473.0,113.6 473.9,113.4 C474.9,113.3 475.9,113.3 476.8,112.4 C477.8,111.6 478.7,110.5 479.7,108.6 C480.7,106.7 481.6,103.1 482.6,101.0 C483.6,98.8 484.5,96.4 485.5,95.7 C486.4,95.0 487.4,96.2 488.4,96.7 C489.3,97.2 490.3,97.9 491.2,98.5 C492.2,99.1 493.2,99.8 494.1,100.4 C495.1,101.1 496.1,101.7 497.0,102.3 C498.0,103.0 498.9,103.8 499.9,104.4 C500.9,105.1 501.8,105.7 502.8,106.4 C503.8,107.1 504.7,107.9 505.7,108.8 C506.6,109.6 507.6,111.0 508.6,111.6 C509.5,112.2 510.5,112.2 511.4,112.2 C512.4,112.3 513.4,111.5 514.3,112.1 C515.3,112.7 516.3,114.7 517.2,115.9 C518.2,117.1 519.1,116.5 520.1,119.1 C521.1,121.7 522.0,126.8 523.0,131.3 C523.9,135.7 524.9,139.9 525.9,146.0 C526.8,152.0 527.8,161.9 528.8,167.4 C529.7,172.9 530.7,174.5 531.6,178.9 C532.6,183.3 533.6,189.7 534.5,193.6 C535.5,197.5 536.4,198.8 537.4,202.4 C538.4,206.0 539.8,213.2 540.3,215.4" fill="none" stroke="#d0202e" stroke-width="1.0" stroke-linejoin="round" stroke-linecap="round" /><path d="M0.0,79.1 C6.7,78.8 28.3,77.9 40.0,77.4 C51.7,77.0 57.9,77.1 70.0,76.4 C82.1,75.7 101.0,74.0 112.7,73.2 C124.4,72.4 132.3,71.8 140.0,71.6 C147.7,71.4 150.7,71.7 159.0,71.8 C167.3,71.9 179.0,71.7 190.0,72.4 C201.0,73.1 211.9,75.1 225.2,76.2 C238.5,77.3 255.0,78.2 270.0,79.2 C285.0,80.2 300.1,81.6 315.1,82.5 C330.1,83.4 344.4,84.1 360.2,84.8 C376.0,85.5 391.7,85.9 410.0,86.4 C428.3,86.9 454.2,87.1 470.0,87.6 C485.8,88.1 493.4,88.4 505.0,89.2 C516.6,90.0 533.7,91.7 539.4,92.2" fill="none" stroke="#b3101f" stroke-width="0.95" stroke-linejoin="round" stroke-linecap="round" /><path d="M0.0,44.5 C3.3,45.2 13.3,47.2 20.0,48.5 C26.7,49.8 31.7,50.9 40.0,52.5 C48.3,54.1 62.6,56.9 70.0,58.3 C77.4,59.6 77.4,59.5 84.5,60.6 C91.6,61.7 103.5,63.8 112.7,65.0 C122.0,66.2 132.3,66.8 140.0,67.9 C147.7,69.0 150.7,70.2 159.0,71.8 C167.3,73.4 177.1,73.9 190.0,77.6 C202.9,81.3 223.1,90.2 236.4,94.2 C249.7,98.2 259.2,99.6 270.0,101.3 C280.8,103.0 290.9,103.3 301.4,104.4 C311.9,105.5 322.3,106.6 332.8,108.0 C343.3,109.4 353.0,111.1 364.2,112.8 C375.4,114.5 390.8,116.5 400.0,118.0 C409.2,119.5 412.0,120.3 419.2,121.6 C426.4,122.9 435.2,124.8 443.3,126.0 C451.4,127.2 461.4,127.8 467.5,128.5 C473.6,129.2 474.4,129.3 480.0,129.9 C485.6,130.5 493.9,131.2 500.9,132.0 C507.9,132.8 515.4,133.5 521.9,134.6 C528.4,135.7 536.7,137.7 539.7,138.3" fill="none" stroke="#b3101f" stroke-width="0.95" stroke-linejoin="round" stroke-linecap="round" /><path d="M0.0,53.8 C4.2,55.7 16.7,61.4 25.0,65.0 C33.3,68.6 40.1,71.4 50.0,75.3 C59.9,79.2 74.0,84.9 84.5,88.6 C95.0,92.3 103.5,95.0 112.7,97.6 C122.0,100.2 131.8,101.9 140.0,104.4 C148.2,106.9 154.4,109.6 161.7,112.4 C168.9,115.2 176.2,118.3 183.5,121.1 C190.8,123.9 198.8,126.6 205.2,129.1 C211.6,131.6 215.3,133.4 221.7,135.9 C228.1,138.4 236.2,141.3 243.5,143.8 C250.8,146.3 257.4,149.1 265.2,151.0 C272.9,152.9 280.9,154.7 290.0,155.5 C299.1,156.3 310.8,155.9 320.0,155.8 C329.2,155.8 338.6,155.4 345.0,155.2 C351.4,155.0 355.8,154.9 358.5,154.8 C361.3,154.7 360.5,154.7 361.4,154.7 C362.4,154.7 363.3,154.7 364.3,154.7 C365.3,154.7 366.2,154.7 367.2,154.7 C368.2,154.8 369.1,154.8 370.1,154.9 C371.0,154.9 372.0,154.9 373.0,155.0 C373.9,155.1 374.9,155.2 375.8,155.3 C376.8,155.3 377.8,155.4 378.7,155.5 C379.7,155.6 380.7,155.6 381.6,155.7 C382.6,155.8 383.5,155.9 384.5,155.9 C385.5,156.0 386.4,156.0 387.4,156.1 C388.4,156.1 389.3,156.2 390.3,156.2 C391.2,156.3 392.2,156.3 393.2,156.3 C394.1,156.4 395.1,156.4 396.0,156.3 C397.0,156.3 398.0,156.3 398.9,156.3 C399.9,156.2 400.9,156.0 401.8,155.9 C402.8,155.7 403.7,155.5 404.7,155.3 C405.7,155.1 406.6,154.8 407.6,154.5 C408.5,154.3 409.5,154.0 410.5,153.7 C411.4,153.5 412.4,153.2 413.4,152.9 C414.3,152.6 415.3,152.3 416.2,152.1 C417.2,151.8 418.2,151.6 419.1,151.3 C420.1,151.1 421.0,150.9 422.0,150.7 C423.0,150.5 423.9,150.2 424.9,150.1 C425.9,149.9 426.8,149.7 427.8,149.6 C428.7,149.4 429.7,149.2 430.7,149.0 C431.6,148.7 432.6,148.5 433.5,148.3 C434.5,148.1 435.5,147.8 436.4,147.6 C437.4,147.3 438.4,147.0 439.3,146.8 C440.3,146.5 441.2,146.3 442.2,146.1 C443.2,145.8 444.1,145.5 445.1,145.3 C446.1,145.0 447.0,144.7 448.0,144.5 C448.9,144.2 449.9,144.0 450.9,143.8 C451.8,143.5 452.8,143.3 453.7,143.0 C454.7,142.7 455.7,142.4 456.6,142.1 C457.6,141.8 458.6,141.6 459.5,141.3 C460.5,141.0 461.4,140.7 462.4,140.3 C463.4,140.0 464.3,139.6 465.3,139.3 C466.2,139.0 467.2,138.7 468.2,138.4 C469.1,138.2 470.1,137.9 471.1,137.6 C472.0,137.4 473.0,137.2 473.9,136.9 C474.9,136.7 475.9,136.5 476.8,136.3 C477.8,136.0 478.7,135.8 479.7,135.6 C480.7,135.4 481.6,135.2 482.6,134.9 C483.6,134.7 484.5,134.5 485.5,134.3 C486.4,134.1 487.4,134.0 488.4,133.8 C489.3,133.6 490.3,133.5 491.2,133.4 C492.2,133.2 493.2,133.1 494.1,133.0 C495.1,132.8 496.1,132.7 497.0,132.6 C498.0,132.5 498.9,132.4 499.9,132.2 C500.9,132.1 501.8,131.9 502.8,131.8 C503.8,131.7 504.7,131.6 505.7,131.5 C506.6,131.3 507.6,131.2 508.6,131.1 C509.5,131.0 510.5,130.9 511.4,130.7 C512.4,130.6 513.4,130.4 514.3,130.3 C515.3,130.2 516.3,130.2 517.2,130.1 C518.2,130.1 519.1,130.0 520.1,130.1 C521.1,130.1 522.0,130.2 523.0,130.3 C523.9,130.4 524.9,130.6 525.9,130.7 C526.8,130.9 527.8,131.2 528.8,131.4 C529.7,131.6 530.7,131.8 531.6,132.0 C532.6,132.2 533.6,132.5 534.5,132.7 C535.5,132.9 536.4,133.1 537.4,133.3 C538.4,133.5 539.8,133.9 540.3,134.0" fill="none" stroke="#d0202e" stroke-width="0.95" stroke-linejoin="round" stroke-linecap="round" /><path d="M0.0,143.5 C1.9,145.0 7.6,149.9 11.3,152.5 C15.1,155.1 18.8,157.4 22.5,159.3 C26.2,161.2 30.7,162.8 33.8,163.8 C36.9,164.8 39.5,164.8 41.2,165.2 C42.9,165.7 43.1,166.0 44.1,166.4 C45.0,166.9 46.0,167.4 47.0,168.0 C47.9,168.6 48.9,169.6 49.8,170.3 C50.8,171.0 51.8,171.6 52.7,172.4 C53.7,173.1 54.7,173.9 55.6,174.6 C56.6,175.3 57.5,175.8 58.5,176.5 C59.5,177.1 60.4,177.8 61.4,178.4 C62.3,178.9 63.3,179.4 64.3,180.0 C65.2,180.6 66.2,181.2 67.2,181.8 C68.1,182.4 69.1,182.9 70.0,183.5 C71.0,184.1 72.0,184.8 72.9,185.4 C73.9,185.9 74.8,186.5 75.8,186.9 C76.8,187.3 77.7,187.8 78.7,188.0 C79.7,188.2 80.6,188.3 81.6,188.3 C82.5,188.3 83.5,188.3 84.5,188.1 C85.4,187.9 86.4,187.6 87.3,187.2 C88.3,186.7 89.3,186.0 90.2,185.4 C91.2,184.8 92.2,184.3 93.1,183.6 C94.1,183.0 95.0,182.2 96.0,181.6 C97.0,180.9 97.9,180.4 98.9,179.8 C99.9,179.2 100.8,178.7 101.8,178.1 C102.7,177.4 103.7,176.6 104.7,175.7 C105.6,174.9 106.6,173.8 107.5,173.0 C108.5,172.2 109.5,171.5 110.4,170.7 C111.4,169.9 112.4,169.2 113.3,168.3 C114.3,167.4 115.2,166.5 116.2,165.5 C117.2,164.6 118.1,163.7 119.1,162.7 C120.0,161.8 121.0,160.7 122.0,159.9 C122.9,159.0 123.9,158.3 124.9,157.7 C125.8,157.0 126.8,156.4 127.7,155.9 C128.7,155.3 129.7,154.8 130.6,154.3 C131.6,153.7 132.5,153.3 133.5,152.8 C134.5,152.2 135.4,151.4 136.4,150.9 C137.4,150.3 138.3,149.9 139.3,149.5 C140.2,149.0 141.2,148.5 142.2,148.1 C143.1,147.6 144.1,147.2 145.1,146.8 C146.0,146.3 147.0,145.6 147.9,145.1 C148.9,144.7 149.9,144.3 150.8,143.9 C151.8,143.6 152.7,143.2 153.7,143.0 C154.7,142.9 155.6,143.0 156.6,142.9 C157.6,142.8 158.5,142.6 159.5,142.3 C160.4,142.1 161.4,141.9 162.4,141.5 C163.3,141.2 164.3,140.7 165.2,140.3 C166.2,139.9 167.2,139.3 168.1,138.9 C169.1,138.6 170.1,138.4 171.0,138.2 C172.0,138.1 172.9,138.0 173.9,137.9 C174.9,137.8 175.8,137.7 176.8,137.8 C177.7,137.8 178.7,138.1 179.7,138.2 C180.6,138.3 181.6,138.3 182.6,138.3 C183.5,138.4 184.5,138.3 185.4,138.5 C186.4,138.7 187.4,139.2 188.3,139.6 C189.3,140.0 190.2,140.4 191.2,140.9 C192.2,141.5 193.1,142.1 194.1,142.8 C195.1,143.5 196.0,144.3 197.0,145.1 C197.9,145.9 198.9,146.7 199.9,147.5 C200.8,148.4 201.8,149.2 202.8,150.1 C203.7,151.0 204.7,152.0 205.6,153.1 C206.6,154.3 207.6,155.7 208.5,156.8 C209.5,158.0 210.4,159.1 211.4,160.0 C212.4,160.9 213.3,161.6 214.3,162.4 C215.3,163.3 216.2,164.1 217.2,165.0 C218.1,165.8 219.1,166.8 220.1,167.8 C221.0,168.7 222.0,169.8 222.9,170.7 C223.9,171.5 224.9,172.2 225.8,173.1 C226.8,173.9 227.8,174.8 228.7,175.7 C229.7,176.6 230.6,177.7 231.6,178.5 C232.6,179.4 233.5,180.1 234.5,180.8 C235.4,181.5 236.4,182.2 237.4,182.7 C238.3,183.3 239.3,183.7 240.3,184.0 C241.2,184.4 242.2,184.5 243.1,184.7 C244.1,184.9 245.1,185.1 246.0,185.4 C247.0,185.7 247.9,186.4 248.9,186.7 C249.9,187.0 250.8,187.1 251.8,187.2 C252.8,187.3 253.7,187.3 254.7,187.3 C255.6,187.4 256.6,187.5 257.6,187.6 C258.5,187.8 259.5,188.1 260.4,188.4 C261.4,188.6 262.4,188.9 263.3,189.1 C264.3,189.3 265.3,189.5 266.2,189.4 C267.2,189.4 268.1,189.2 269.1,189.0 C270.1,188.9 271.0,188.7 272.0,188.6 C273.0,188.5 273.9,188.5 274.9,188.4 C275.8,188.4 276.8,188.4 277.8,188.3 C278.7,188.2 279.7,188.0 280.6,187.8 C281.6,187.5 282.6,187.2 283.5,186.7 C284.5,186.3 285.5,185.6 286.4,185.0 C287.4,184.5 288.3,184.2 289.3,183.4 C290.3,182.6 291.2,181.3 292.2,180.1 C293.1,178.9 294.1,177.5 295.1,176.2 C296.0,175.0 297.0,173.9 298.0,172.7 C298.9,171.6 299.9,170.6 300.8,169.6 C301.8,168.5 302.8,167.5 303.7,166.4 C304.7,165.3 305.6,164.0 306.6,163.0 C307.6,161.9 308.5,160.9 309.5,160.0 C310.5,159.1 311.4,158.6 312.4,157.8 C313.3,156.9 314.3,156.1 315.3,155.1 C316.2,154.2 317.2,153.1 318.1,152.0 C319.1,150.9 320.1,149.5 321.0,148.3 C322.0,147.1 323.0,146.2 323.9,145.0 C324.9,143.8 325.8,142.5 326.8,141.1 C327.8,139.8 328.7,138.1 329.7,136.9 C330.7,135.6 331.6,134.8 332.6,133.6 C333.5,132.5 334.5,131.1 335.5,130.1 C336.4,129.2 337.4,128.6 338.3,127.9 C339.3,127.2 340.3,126.8 341.2,126.1 C342.2,125.5 343.2,124.8 344.1,124.1 C345.1,123.4 346.0,122.4 347.0,121.8 C348.0,121.1 348.9,120.7 349.9,120.1 C350.8,119.5 351.8,118.9 352.8,118.4 C353.7,117.9 354.7,117.4 355.7,117.0 C356.6,116.5 357.6,116.1 358.5,115.8 C359.5,115.5 360.5,115.4 361.4,115.4 C362.4,115.4 363.3,115.6 364.3,115.7 C365.3,115.8 366.2,115.9 367.2,116.0 C368.2,116.1 369.1,116.3 370.1,116.3 C371.0,116.3 372.0,116.1 373.0,116.0 C373.9,115.9 374.9,115.8 375.8,115.7 C376.8,115.7 377.8,115.6 378.7,115.7 C379.7,115.7 380.7,115.8 381.6,115.9 C382.6,116.0 383.5,116.3 384.5,116.3 C385.5,116.4 386.4,115.9 387.4,116.0 C388.4,116.2 389.3,116.7 390.3,117.0 C391.2,117.4 392.2,118.0 393.2,118.2 C394.1,118.5 395.1,118.4 396.0,118.6 C397.0,118.8 398.0,119.1 398.9,119.2 C399.9,119.3 400.9,119.2 401.8,119.1 C402.8,119.1 403.7,119.1 404.7,119.0 C405.7,119.0 406.6,119.0 407.6,119.0 C408.5,118.9 409.5,118.8 410.5,118.8 C411.4,118.8 412.4,118.8 413.4,118.8 C414.3,118.8 415.3,118.7 416.2,118.7 C417.2,118.7 418.2,118.9 419.1,118.9 C420.1,119.0 421.0,118.9 422.0,119.1 C423.0,119.2 423.9,119.5 424.9,119.7 C425.9,120.0 426.8,120.3 427.8,120.4 C428.7,120.6 429.7,120.6 430.7,120.7 C431.6,120.7 432.6,120.8 433.5,120.7 C434.5,120.6 435.5,120.3 436.4,120.0 C437.4,119.6 438.4,119.2 439.3,118.9 C440.3,118.6 441.2,118.3 442.2,118.0 C443.2,117.6 444.1,117.2 445.1,116.7 C446.1,116.3 447.0,115.7 448.0,115.3 C448.9,114.9 449.9,114.6 450.9,114.2 C451.8,113.8 452.8,113.5 453.7,113.1 C454.7,112.6 455.7,112.0 456.6,111.5 C457.6,110.9 458.6,110.3 459.5,109.6 C460.5,108.8 461.4,108.0 462.4,107.2 C463.4,106.4 464.3,105.5 465.3,104.8 C466.2,104.0 467.2,103.4 468.2,102.7 C469.1,102.1 470.1,101.7 471.1,101.1 C472.0,100.4 473.0,99.5 473.9,98.8 C474.9,98.1 475.9,97.5 476.8,96.9 C477.8,96.2 478.7,95.5 479.7,94.9 C480.7,94.2 481.6,93.5 482.6,92.9 C483.6,92.4 484.5,91.8 485.5,91.4 C486.4,91.0 487.4,90.7 488.4,90.4 C489.3,90.1 490.3,89.8 491.2,89.5 C492.2,89.3 493.2,89.2 494.1,89.0 C495.1,88.7 496.1,88.3 497.0,88.1 C498.0,88.0 498.9,88.1 499.9,88.0 C500.9,87.9 501.8,87.7 502.8,87.7 C503.8,87.6 504.7,87.5 505.7,87.6 C506.6,87.6 507.6,87.8 508.6,87.8 C509.5,87.8 510.5,87.7 511.4,87.7 C512.4,87.7 513.4,87.6 514.3,87.6 C515.3,87.7 516.3,88.1 517.2,88.2 C518.2,88.3 519.1,88.2 520.1,88.4 C521.1,88.6 522.0,88.9 523.0,89.4 C523.9,89.8 524.9,90.3 525.9,91.1 C526.8,91.8 527.8,93.1 528.8,94.0 C529.7,95.0 530.7,95.6 531.6,96.5 C532.6,97.5 533.6,98.8 534.5,99.8 C535.5,100.9 536.4,101.7 537.4,102.8 C538.4,104.0 539.8,105.9 540.3,106.6" fill="none" stroke="#b3101f" stroke-width="0.95" stroke-linejoin="round" stroke-linecap="round" /><path d="M0.0,44.7 C4.5,45.8 20.3,50.0 27.0,51.5 C33.7,53.0 35.1,52.8 40.0,53.9 C44.9,55.0 51.4,57.1 56.4,58.3 C61.4,59.5 65.3,60.1 70.0,61.2 C74.7,62.3 77.4,63.2 84.5,64.9 C91.6,66.7 103.5,69.5 112.7,71.7 C122.0,73.9 132.3,76.2 140.0,78.0 C147.7,79.8 150.7,80.7 159.0,82.7 C167.3,84.7 179.8,86.9 190.0,89.8 C200.2,92.7 210.0,96.7 220.0,100.0 C230.0,103.3 240.8,106.7 250.0,109.5 C259.2,112.3 268.2,115.2 275.0,117.0 C281.8,118.8 284.8,119.0 290.9,120.1 C297.0,121.1 304.9,122.2 311.9,123.3 C318.9,124.3 325.8,125.2 332.8,126.4 C339.8,127.6 346.7,129.2 353.7,130.6 C360.7,132.0 367.8,133.6 374.7,134.8 C381.6,136.0 387.4,136.9 395.0,138.0 C402.6,139.1 412.0,140.5 420.0,141.3 C428.0,142.1 435.1,142.5 443.0,142.8 C450.9,143.1 461.3,143.2 467.5,143.3 C473.7,143.4 473.6,143.7 480.0,143.5 C486.4,143.3 498.9,142.4 506.2,141.9 C513.5,141.4 518.4,140.5 524.0,140.6 C529.6,140.7 537.1,142.0 539.7,142.3" fill="none" stroke="#151515" stroke-width="1.9" stroke-linejoin="round" stroke-linecap="round" /><path d="M0.0,73.3 C2.2,74.5 9.0,77.8 13.5,80.7 C18.0,83.6 21.8,87.3 27.0,90.9 C32.2,94.5 40.1,98.9 45.0,102.1 C49.9,105.3 51.1,107.1 56.4,110.0 C61.7,112.9 70.2,117.2 76.6,119.7 C83.0,122.2 89.1,123.2 94.7,124.7 C100.3,126.2 105.8,127.9 110.0,129.0 C114.2,130.1 116.5,130.5 119.7,131.4 C122.9,132.3 126.1,133.2 129.3,134.3 C132.5,135.4 135.8,136.8 139.0,138.2 C142.2,139.6 145.4,141.2 148.6,142.5 C151.8,143.8 154.7,144.9 158.3,145.9 C161.9,146.9 165.6,147.5 170.0,148.6 C174.4,149.7 179.5,151.5 185.0,152.6 C190.5,153.7 197.3,154.5 203.0,155.4 C208.7,156.3 214.2,156.9 219.0,158.0 C223.8,159.1 229.0,161.3 231.6,162.3 C234.2,163.2 233.5,163.1 234.5,163.6 C235.4,164.0 236.4,164.5 237.4,164.9 C238.3,165.3 239.3,165.7 240.3,166.0 C241.2,166.3 242.2,166.6 243.1,166.9 C244.1,167.2 245.1,167.5 246.0,167.8 C247.0,168.1 247.9,168.4 248.9,168.7 C249.9,169.0 250.8,169.2 251.8,169.5 C252.8,169.7 253.7,169.9 254.7,170.1 C255.6,170.3 256.6,170.5 257.6,170.6 C258.5,170.8 259.5,171.0 260.4,171.1 C261.4,171.3 262.4,171.5 263.3,171.6 C264.3,171.7 265.3,171.7 266.2,171.8 C267.2,171.9 268.1,172.0 269.1,172.0 C270.1,172.0 271.0,172.0 272.0,172.0 C273.0,172.0 273.9,171.9 274.9,171.9 C275.8,171.8 276.8,171.6 277.8,171.5 C278.7,171.3 279.7,171.0 280.6,170.8 C281.6,170.5 282.6,170.3 283.5,170.0 C284.5,169.7 285.5,169.4 286.4,169.1 C287.4,168.9 288.3,168.8 289.3,168.5 C290.3,168.2 291.2,167.8 292.2,167.5 C293.1,167.1 294.1,166.7 295.1,166.3 C296.0,166.0 297.0,165.6 298.0,165.3 C298.9,165.0 299.9,164.8 300.8,164.6 C301.8,164.3 302.8,164.1 303.7,163.8 C304.7,163.6 305.6,163.3 306.6,163.1 C307.6,162.8 308.5,162.5 309.5,162.2 C310.5,161.9 311.4,161.5 312.4,161.2 C313.3,160.9 314.3,160.6 315.3,160.3 C316.2,159.9 317.2,159.6 318.1,159.2 C319.1,158.9 320.1,158.5 321.0,158.2 C322.0,157.9 323.0,157.7 323.9,157.4 C324.9,157.1 325.8,156.8 326.8,156.5 C327.8,156.1 328.7,155.7 329.7,155.4 C330.7,155.0 331.6,154.7 332.6,154.3 C333.5,153.9 334.5,153.6 335.5,153.2 C336.4,152.9 337.4,152.5 338.3,152.2 C339.3,151.9 340.3,151.6 341.2,151.4 C342.2,151.1 343.2,150.8 344.1,150.6 C345.1,150.4 346.0,150.3 347.0,150.1 C348.0,150.0 348.9,149.8 349.9,149.7 C350.8,149.5 351.8,149.4 352.8,149.2 C353.7,149.0 354.7,148.8 355.7,148.6 C356.6,148.4 357.6,148.3 358.5,148.1 C359.5,148.0 360.5,147.9 361.4,147.8 C362.4,147.7 363.3,147.6 364.3,147.6 C365.3,147.5 366.2,147.5 367.2,147.5 C368.2,147.5 369.1,147.6 370.1,147.5 C371.0,147.5 372.0,147.4 373.0,147.4 C373.9,147.3 374.9,147.2 375.8,147.2 C376.8,147.1 377.8,147.1 378.7,147.1 C379.7,147.0 380.7,147.0 381.6,147.0 C382.6,146.9 383.5,147.0 384.5,146.9 C385.5,146.9 386.4,146.8 387.4,146.8 C388.4,146.8 389.3,146.7 390.3,146.7 C391.2,146.7 392.2,146.8 393.2,146.8 C394.1,146.8 395.1,146.8 396.0,146.8 C397.0,146.9 398.0,147.0 398.9,147.1 C399.9,147.1 400.9,147.1 401.8,147.1 C402.8,147.1 403.7,147.2 404.7,147.3 C405.7,147.3 406.6,147.3 407.6,147.3 C408.5,147.3 409.5,147.3 410.5,147.3 C411.4,147.2 412.4,147.2 413.4,147.1 C414.3,146.9 415.3,146.7 416.2,146.6 C417.2,146.5 418.2,146.3 419.1,146.2 C420.1,146.1 421.0,146.0 422.0,145.9 C423.0,145.9 423.9,146.0 424.9,145.9 C425.9,145.8 426.8,145.7 427.8,145.5 C428.7,145.4 429.7,145.2 430.7,145.0 C431.6,144.8 432.6,144.6 433.5,144.4 C434.5,144.1 435.5,143.9 436.4,143.6 C437.4,143.4 438.4,143.1 439.3,142.9 C440.3,142.6 441.2,142.4 442.2,142.1 C443.2,141.8 444.1,141.5 445.1,141.2 C446.1,141.0 447.0,140.7 448.0,140.5 C448.9,140.3 449.9,140.1 450.9,139.9 C451.8,139.7 452.8,139.5 453.7,139.3 C454.7,139.1 455.7,139.0 456.6,138.8 C457.6,138.6 458.6,138.3 459.5,138.0 C460.5,137.7 461.4,137.4 462.4,137.1 C463.4,136.9 464.3,136.5 465.3,136.3 C466.2,136.0 467.2,135.7 468.2,135.5 C469.1,135.2 470.1,135.0 471.1,134.7 C472.0,134.4 473.0,134.0 473.9,133.7 C474.9,133.3 475.9,133.0 476.8,132.6 C477.8,132.2 478.7,131.7 479.7,131.3 C480.7,130.9 481.6,130.4 482.6,130.0 C483.6,129.5 484.5,129.0 485.5,128.5 C486.4,128.1 487.4,127.7 488.4,127.3 C489.3,126.9 490.3,126.6 491.2,126.2 C492.2,125.8 493.2,125.4 494.1,125.0 C495.1,124.6 496.1,124.1 497.0,123.7 C498.0,123.3 498.9,122.9 499.9,122.6 C500.9,122.3 501.8,122.1 502.8,121.8 C503.8,121.6 504.7,121.3 505.7,121.0 C506.6,120.7 507.6,120.4 508.6,120.1 C509.5,119.7 510.5,119.3 511.4,118.9 C512.4,118.4 513.4,118.0 514.3,117.5 C515.3,117.1 516.3,116.8 517.2,116.4 C518.2,116.0 519.1,115.5 520.1,115.3 C521.1,115.0 522.0,115.0 523.0,114.8 C523.9,114.7 524.9,114.4 525.9,114.3 C526.8,114.3 527.8,114.4 528.8,114.4 C529.7,114.4 530.7,114.4 531.6,114.4 C532.6,114.4 533.6,114.5 534.5,114.5 C535.5,114.5 536.4,114.3 537.4,114.4 C538.4,114.4 539.8,114.6 540.3,114.7" fill="none" stroke="#151515" stroke-width="1.9" stroke-linejoin="round" stroke-linecap="round" /><path d="M0.0,121.3 C1.9,122.7 7.6,126.4 11.3,129.4 C15.1,132.5 18.8,135.8 22.5,139.6 C26.2,143.4 30.0,148.8 33.8,152.1 C37.6,155.4 41.3,157.2 45.1,159.3 C48.9,161.4 53.6,163.6 56.4,164.9 C59.2,166.2 59.7,166.5 62.0,167.0 C64.3,167.5 67.0,167.6 70.0,167.8 C73.0,168.0 77.1,168.2 80.0,168.4 C82.9,168.6 85.6,168.8 87.3,168.9 C89.1,168.9 89.3,168.8 90.2,168.8 C91.2,168.7 92.2,168.8 93.1,168.8 C94.1,168.8 95.0,168.8 96.0,168.9 C97.0,169.0 97.9,169.1 98.9,169.2 C99.9,169.4 100.8,169.6 101.8,169.7 C102.7,169.8 103.7,169.9 104.7,170.0 C105.6,170.1 106.6,170.1 107.5,170.1 C108.5,170.1 109.5,170.1 110.4,170.0 C111.4,169.9 112.4,169.9 113.3,169.8 C114.3,169.7 115.2,169.6 116.2,169.5 C117.2,169.4 118.1,169.3 119.1,169.2 C120.0,169.1 121.0,169.0 122.0,168.9 C122.9,168.9 123.9,168.9 124.9,168.8 C125.8,168.8 126.8,168.9 127.7,168.8 C128.7,168.7 129.7,168.6 130.6,168.3 C131.6,168.0 132.5,167.6 133.5,167.1 C134.5,166.6 135.4,165.8 136.4,165.3 C137.4,164.8 138.3,164.4 139.3,164.0 C140.2,163.5 141.2,163.0 142.2,162.6 C143.1,162.2 144.1,162.0 145.1,161.7 C146.0,161.4 147.0,161.2 147.9,160.9 C148.9,160.6 149.9,160.3 150.8,160.0 C151.8,159.7 152.7,159.3 153.7,159.2 C154.7,159.0 155.6,159.1 156.6,158.9 C157.6,158.8 158.5,158.6 159.5,158.3 C160.4,158.1 161.4,157.7 162.4,157.3 C163.3,156.9 164.3,156.5 165.2,156.0 C166.2,155.6 167.2,154.9 168.1,154.5 C169.1,154.1 170.1,154.0 171.0,153.8 C172.0,153.5 172.9,153.2 173.9,153.0 C174.9,152.7 175.8,152.4 176.8,152.2 C177.7,152.0 178.7,151.9 179.7,151.7 C180.6,151.6 181.6,151.3 182.6,151.2 C183.5,151.0 184.5,150.8 185.4,150.7 C186.4,150.6 187.4,150.5 188.3,150.5 C189.3,150.4 190.2,150.4 191.2,150.4 C192.2,150.4 193.1,150.2 194.1,150.3 C195.1,150.3 196.0,150.5 197.0,150.7 C197.9,150.9 198.9,151.1 199.9,151.3 C200.8,151.5 201.8,151.8 202.8,152.1 C203.7,152.3 204.7,152.6 205.6,153.0 C206.6,153.4 207.6,153.9 208.5,154.2 C209.5,154.6 210.4,154.8 211.4,154.9 C212.4,155.1 213.3,155.1 214.3,155.1 C215.3,155.2 216.2,155.1 217.2,155.3 C218.1,155.4 219.1,155.6 220.1,155.9 C221.0,156.2 222.0,156.6 222.9,157.0 C223.9,157.5 224.9,158.0 225.8,158.5 C226.8,158.9 227.8,159.4 228.7,159.9 C229.7,160.3 230.6,160.8 231.6,161.2 C232.6,161.6 233.5,161.8 234.5,162.2 C235.4,162.5 236.4,163.0 237.4,163.4 C238.3,163.7 239.3,164.0 240.3,164.3 C241.2,164.6 242.2,164.7 243.1,165.0 C244.1,165.2 245.1,165.4 246.0,165.9 C247.0,166.3 247.9,167.0 248.9,167.4 C249.9,167.9 250.8,168.3 251.8,168.8 C252.8,169.3 253.7,169.8 254.7,170.2 C255.6,170.7 256.6,171.1 257.6,171.5 C258.5,171.9 259.5,172.4 260.4,172.8 C261.4,173.2 262.4,173.6 263.3,173.9 C264.3,174.3 265.3,174.4 266.2,174.6 C267.2,174.8 268.1,175.0 269.1,175.1 C270.1,175.2 271.0,175.2 272.0,175.2 C273.0,175.3 273.9,175.3 274.9,175.4 C275.8,175.5 276.8,175.7 277.8,175.8 C278.7,176.0 279.7,176.2 280.6,176.3 C281.6,176.3 282.6,176.1 283.5,176.0 C284.5,175.9 285.5,175.7 286.4,175.6 C287.4,175.5 288.3,175.6 289.3,175.3 C290.3,175.0 291.2,174.5 292.2,174.1 C293.1,173.6 294.1,173.1 295.1,172.7 C296.0,172.3 297.0,171.9 298.0,171.5 C298.9,171.1 299.9,170.6 300.8,170.2 C301.8,169.8 302.8,169.6 303.7,169.3 C304.7,169.1 305.6,169.0 306.6,168.8 C307.6,168.7 308.5,168.5 309.5,168.3 C310.5,168.2 311.4,168.2 312.4,167.9 C313.3,167.7 314.3,167.2 315.3,166.8 C316.2,166.3 317.2,165.9 318.1,165.5 C319.1,165.1 320.1,164.6 321.0,164.2 C322.0,163.8 323.0,163.4 323.9,163.0 C324.9,162.6 325.8,162.3 326.8,161.8 C327.8,161.3 328.7,160.7 329.7,160.1 C330.7,159.5 331.6,158.8 332.6,158.1 C333.5,157.5 334.5,156.7 335.5,156.0 C336.4,155.4 337.4,154.8 338.3,154.1 C339.3,153.5 340.3,152.8 341.2,152.1 C342.2,151.4 343.2,150.6 344.1,149.9 C345.1,149.3 346.0,148.8 347.0,148.2 C348.0,147.6 348.9,147.0 349.9,146.4 C350.8,145.7 351.8,144.8 352.8,144.1 C353.7,143.4 354.7,142.7 355.7,142.2 C356.6,141.7 357.6,141.4 358.5,141.1 C359.5,140.8 360.5,140.6 361.4,140.2 C362.4,139.9 363.3,139.6 364.3,139.3 C365.3,138.9 366.2,138.4 367.2,137.9 C368.2,137.5 369.1,137.1 370.1,136.6 C371.0,136.1 372.0,135.4 373.0,134.8 C373.9,134.3 374.9,133.6 375.8,133.2 C376.8,132.7 377.8,132.4 378.7,132.0 C379.7,131.6 380.7,131.0 381.6,130.6 C382.6,130.2 383.5,129.9 384.5,129.6 C385.5,129.3 386.4,129.0 387.4,128.6 C388.4,128.3 389.3,128.0 390.3,127.6 C391.2,127.2 392.2,126.6 393.2,126.1 C394.1,125.7 395.1,125.2 396.0,124.8 C397.0,124.5 398.0,124.2 398.9,123.9 C399.9,123.6 400.9,123.1 401.8,122.7 C402.8,122.4 403.7,122.0 404.7,121.7 C405.7,121.3 406.6,121.0 407.6,120.7 C408.5,120.4 409.5,120.2 410.5,119.9 C411.4,119.6 412.4,119.3 413.4,119.0 C414.3,118.7 415.3,118.3 416.2,118.0 C417.2,117.6 418.2,117.3 419.1,116.9 C420.1,116.6 421.0,116.2 422.0,116.0 C423.0,115.8 423.9,115.7 424.9,115.5 C425.9,115.4 426.8,115.2 427.8,115.0 C428.7,114.8 429.7,114.6 430.7,114.4 C431.6,114.1 432.6,113.6 433.5,113.4 C434.5,113.2 435.5,113.2 436.4,113.2 C437.4,113.1 438.4,113.2 439.3,113.1 C440.3,113.0 441.2,112.8 442.2,112.7 C443.2,112.5 444.1,112.4 445.1,112.3 C446.1,112.1 447.0,111.9 448.0,111.6 C448.9,111.4 449.9,111.2 450.9,110.9 C451.8,110.7 452.8,110.5 453.7,110.3 C454.7,110.1 455.7,109.8 456.6,109.6 C457.6,109.5 458.6,109.4 459.5,109.3 C460.5,109.1 461.4,108.9 462.4,108.8 C463.4,108.6 464.3,108.5 465.3,108.3 C466.2,108.2 467.2,108.0 468.2,107.9 C469.1,107.8 470.1,107.7 471.1,107.6 C472.0,107.5 473.0,107.4 473.9,107.3 C474.9,107.2 475.9,107.1 476.8,107.0 C477.8,106.9 478.7,106.8 479.7,106.6 C480.7,106.4 481.6,106.1 482.6,105.8 C483.6,105.6 484.5,105.2 485.5,105.0 C486.4,104.8 487.4,104.8 488.4,104.7 C489.3,104.5 490.3,104.4 491.2,104.2 C492.2,104.1 493.2,103.8 494.1,103.7 C495.1,103.5 496.1,103.4 497.0,103.3 C498.0,103.2 498.9,103.2 499.9,103.0 C500.9,102.9 501.8,102.8 502.8,102.5 C503.8,102.3 504.7,102.0 505.7,101.7 C506.6,101.5 507.6,101.2 508.6,100.9 C509.5,100.6 510.5,100.2 511.4,99.8 C512.4,99.4 513.4,98.8 514.3,98.5 C515.3,98.2 516.3,98.2 517.2,98.0 C518.2,97.8 519.1,97.5 520.1,97.4 C521.1,97.4 522.0,97.5 523.0,97.6 C523.9,97.7 524.9,97.8 525.9,98.1 C526.8,98.4 527.8,98.8 528.8,99.2 C529.7,99.5 530.7,99.8 531.6,100.2 C532.6,100.5 533.6,101.1 534.5,101.5 C535.5,101.9 536.4,102.1 537.4,102.6 C538.4,103.1 539.8,104.2 540.3,104.5" fill="none" stroke="#151515" stroke-width="1.9" stroke-linejoin="round" stroke-linecap="round" /><path d="M0.8,146.1 C1.3,146.5 2.7,147.7 3.7,148.5 C4.6,149.4 5.6,150.2 6.6,151.3 C7.5,152.3 8.5,153.6 9.5,154.6 C10.4,155.5 11.4,156.1 12.3,157.0 C13.3,157.9 14.3,158.9 15.2,160.1 C16.2,161.3 17.1,162.8 18.1,164.2 C19.1,165.6 20.0,167.0 21.0,168.5 C22.0,170.0 22.9,171.6 23.9,173.0 C24.8,174.4 25.8,175.6 26.8,177.0 C27.7,178.3 28.7,179.8 29.6,181.1 C30.6,182.4 31.6,183.8 32.5,185.0 C33.5,186.3 34.5,187.4 35.4,188.6 C36.4,189.7 37.3,190.9 38.3,191.9 C39.3,192.9 40.2,193.9 41.2,194.7 C42.2,195.4 43.1,196.0 44.1,196.4 C45.0,196.8 46.0,196.7 47.0,196.9 C47.9,197.0 48.9,197.3 49.8,197.2 C50.8,197.2 51.8,197.0 52.7,196.7 C53.7,196.5 54.7,196.1 55.6,195.7 C56.6,195.3 57.5,194.6 58.5,194.0 C59.5,193.5 60.4,193.1 61.4,192.5 C62.3,191.9 63.3,191.1 64.3,190.5 C65.2,189.9 66.2,189.1 67.2,188.8 C68.1,188.4 69.1,188.4 70.0,188.3 C71.0,188.2 72.0,188.3 72.9,188.1 C73.9,187.8 74.8,187.3 75.8,186.8 C76.8,186.3 77.7,185.7 78.7,185.0 C79.7,184.2 80.6,183.1 81.6,182.3 C82.5,181.6 83.5,181.1 84.5,180.6 C85.4,180.0 86.4,179.6 87.3,179.0 C88.3,178.3 89.3,177.4 90.2,176.8 C91.2,176.2 92.2,175.9 93.1,175.3 C94.1,174.7 95.0,174.0 96.0,173.3 C97.0,172.6 97.9,171.8 98.9,171.0 C99.9,170.2 100.8,169.4 101.8,168.3 C102.7,167.1 103.7,165.9 104.7,164.3 C105.6,162.8 106.6,160.9 107.5,159.2 C108.5,157.5 109.5,155.8 110.4,154.2 C111.4,152.6 112.4,150.9 113.3,149.4 C114.3,148.0 115.2,146.8 116.2,145.5 C117.2,144.3 118.1,143.1 119.1,141.9 C120.0,140.8 121.0,139.7 122.0,138.7 C122.9,137.7 123.9,136.7 124.9,135.9 C125.8,135.1 126.8,134.7 127.7,134.1 C128.7,133.5 129.7,132.7 130.6,132.1 C131.6,131.5 132.5,131.2 133.5,130.6 C134.5,130.0 135.4,129.0 136.4,128.7 C137.4,128.4 138.3,128.8 139.3,128.7 C140.2,128.7 141.2,128.5 142.2,128.4 C143.1,128.3 144.1,128.1 145.1,128.2 C146.0,128.2 147.0,128.6 147.9,128.8 C148.9,129.0 149.9,129.0 150.8,129.2 C151.8,129.4 152.7,129.8 153.7,130.2 C154.7,130.5 155.6,131.0 156.6,131.2 C157.6,131.5 158.5,131.5 159.5,131.7 C160.4,131.9 161.4,132.2 162.4,132.4 C163.3,132.6 164.3,132.9 165.2,133.2 C166.2,133.5 167.2,133.6 168.1,134.3 C169.1,134.9 170.1,136.0 171.0,137.0 C172.0,137.9 172.9,138.9 173.9,139.8 C174.9,140.8 175.8,141.6 176.8,142.5 C177.7,143.5 178.7,144.7 179.7,145.6 C180.6,146.4 181.6,147.0 182.6,147.7 C183.5,148.3 184.5,148.8 185.4,149.5 C186.4,150.2 187.4,150.9 188.3,151.8 C189.3,152.8 190.2,153.8 191.2,155.1 C192.2,156.4 193.1,158.2 194.1,159.6 C195.1,161.1 196.0,162.2 197.0,163.5 C197.9,164.8 198.9,166.3 199.9,167.4 C200.8,168.4 201.8,169.1 202.8,170.0 C203.7,170.9 204.7,171.7 205.6,172.8 C206.6,173.8 207.6,175.2 208.5,176.2 C209.5,177.1 210.4,177.8 211.4,178.2 C212.4,178.7 213.3,178.5 214.3,178.8 C215.3,179.2 216.2,179.7 217.2,180.4 C218.1,181.2 219.1,182.2 220.1,183.4 C221.0,184.5 222.0,186.0 222.9,187.5 C223.9,189.0 224.9,190.8 225.8,192.2 C226.8,193.6 227.8,194.6 228.7,195.8 C229.7,197.0 230.6,198.6 231.6,199.6 C232.6,200.6 233.5,201.0 234.5,201.8 C235.4,202.6 236.4,203.7 237.4,204.4 C238.3,205.1 239.3,205.7 240.3,206.1 C241.2,206.5 242.2,206.6 243.1,206.7 C244.1,206.8 245.1,206.7 246.0,206.7 C247.0,206.8 247.9,207.2 248.9,207.0 C249.9,206.8 250.8,206.2 251.8,205.6 C252.8,204.9 253.7,204.0 254.7,203.0 C255.6,202.1 256.6,200.8 257.6,199.9 C258.5,199.0 259.5,198.4 260.4,197.5 C261.4,196.6 262.4,195.7 263.3,194.4 C264.3,193.1 265.3,191.0 266.2,189.7 C267.2,188.4 268.1,187.3 269.1,186.4 C270.1,185.5 271.0,184.9 272.0,184.3 C273.0,183.6 273.9,183.1 274.9,182.5 C275.8,181.8 276.8,181.3 277.8,180.4 C278.7,179.4 279.7,178.1 280.6,176.8 C281.6,175.5 282.6,174.1 283.5,172.6 C284.5,171.1 285.5,169.2 286.4,167.7 C287.4,166.2 288.3,164.9 289.3,163.4 C290.3,161.9 291.2,160.4 292.2,158.6 C293.1,156.7 294.1,154.2 295.1,152.5 C296.0,150.8 297.0,149.5 298.0,148.2 C298.9,146.8 299.9,145.6 300.8,144.3 C301.8,143.0 302.8,141.8 303.7,140.4 C304.7,139.0 305.6,137.3 306.6,135.9 C307.6,134.5 308.5,133.2 309.5,132.0 C310.5,130.8 311.4,129.7 312.4,128.5 C313.3,127.4 314.3,126.3 315.3,125.1 C316.2,124.0 317.2,122.7 318.1,121.5 C319.1,120.4 320.1,119.0 321.0,118.2 C322.0,117.3 323.0,117.2 323.9,116.6 C324.9,116.0 325.8,115.2 326.8,114.3 C327.8,113.5 328.7,112.6 329.7,111.6 C330.7,110.7 331.6,109.7 332.6,108.6 C333.5,107.6 334.5,106.3 335.5,105.5 C336.4,104.8 337.4,104.6 338.3,104.3 C339.3,104.0 340.3,103.8 341.2,103.7 C342.2,103.5 343.2,103.4 344.1,103.1 C345.1,102.9 346.0,102.2 347.0,102.2 C348.0,102.3 348.9,103.1 349.9,103.5 C350.8,103.9 351.8,104.5 352.8,104.7 C353.7,105.0 354.7,104.8 355.7,105.1 C356.6,105.3 357.6,105.6 358.5,106.1 C359.5,106.5 360.5,107.1 361.4,107.7 C362.4,108.3 363.3,108.8 364.3,109.4 C365.3,110.0 366.2,110.8 367.2,111.5 C368.2,112.3 369.1,113.1 370.1,113.9 C371.0,114.6 372.0,115.2 373.0,116.0 C373.9,116.8 374.9,117.8 375.8,118.7 C376.8,119.6 377.8,120.6 378.7,121.3 C379.7,122.1 380.7,122.5 381.6,123.2 C382.6,123.9 383.5,124.8 384.5,125.6 C385.5,126.4 386.4,127.2 387.4,128.0 C388.4,128.8 389.3,129.6 390.3,130.3 C391.2,131.0 392.2,131.9 393.2,132.2 C394.1,132.6 395.1,132.3 396.0,132.4 C397.0,132.4 398.0,132.7 398.9,132.6 C399.9,132.5 400.9,132.2 401.8,132.0 C402.8,131.8 403.7,131.5 404.7,131.2 C405.7,130.9 406.6,130.5 407.6,130.1 C408.5,129.8 409.5,129.5 410.5,129.2 C411.4,128.9 412.4,128.7 413.4,128.2 C414.3,127.8 415.3,127.2 416.2,126.5 C417.2,125.8 418.2,124.9 419.1,124.2 C420.1,123.5 421.0,122.8 422.0,122.3 C423.0,121.7 423.9,121.4 424.9,120.8 C425.9,120.2 426.8,119.3 427.8,118.6 C428.7,117.9 429.7,117.3 430.7,116.5 C431.6,115.8 432.6,114.9 433.5,114.0 C434.5,113.2 435.5,112.4 436.4,111.5 C437.4,110.6 438.4,109.7 439.3,108.7 C440.3,107.8 441.2,106.8 442.2,105.9 C443.2,105.0 444.1,104.3 445.1,103.4 C446.1,102.5 447.0,101.5 448.0,100.6 C448.9,99.7 449.9,98.7 450.9,97.9 C451.8,97.1 452.8,96.5 453.7,95.7 C454.7,94.8 455.7,93.6 456.6,92.9 C457.6,92.2 458.6,92.0 459.5,91.4 C460.5,90.8 461.4,90.0 462.4,89.3 C463.4,88.6 464.3,87.8 465.3,87.3 C466.2,86.9 467.2,86.8 468.2,86.6 C469.1,86.3 470.1,86.2 471.1,85.9 C472.0,85.6 473.0,85.2 473.9,84.9 C474.9,84.5 475.9,84.3 476.8,83.9 C477.8,83.4 478.7,82.7 479.7,82.0 C480.7,81.4 481.6,80.6 482.6,80.0 C483.6,79.4 484.5,78.9 485.5,78.7 C486.4,78.5 487.4,78.8 488.4,78.9 C489.3,79.0 490.3,79.1 491.2,79.2 C492.2,79.4 493.2,79.5 494.1,79.7 C495.1,79.9 496.1,80.1 497.0,80.3 C498.0,80.6 498.9,80.8 499.9,81.0 C500.9,81.3 501.8,81.5 502.8,81.8 C503.8,82.1 504.7,82.5 505.7,82.9 C506.6,83.3 507.6,83.9 508.6,84.3 C509.5,84.7 510.5,84.9 511.4,85.2 C512.4,85.4 513.4,85.6 514.3,86.0 C515.3,86.4 516.3,87.1 517.2,87.8 C518.2,88.5 519.1,89.2 520.1,90.3 C521.1,91.4 522.0,93.2 523.0,94.6 C523.9,96.0 524.9,97.1 525.9,98.7 C526.8,100.4 527.8,102.7 528.8,104.6 C529.7,106.5 530.7,108.2 531.6,110.2 C532.6,112.2 533.6,114.5 534.5,116.5 C535.5,118.5 536.4,120.2 537.4,122.3 C538.4,124.4 539.8,127.9 540.3,129.0" fill="none" stroke="#f04c28" stroke-width="1.9" stroke-linejoin="round" stroke-linecap="round" /><path d="M0.0,152.7 C0.1,153.0 0.2,153.2 0.8,154.8 C1.4,156.4 2.7,159.6 3.7,162.0 C4.6,164.4 5.6,166.8 6.6,169.2 C7.5,171.6 8.5,174.5 9.5,176.5 C10.4,178.6 11.4,179.8 12.3,181.5 C13.3,183.3 14.3,185.1 15.2,186.9 C16.2,188.7 17.1,190.7 18.1,192.3 C19.1,193.9 20.0,195.4 21.0,196.6 C22.0,197.8 22.9,199.0 23.9,199.5 C24.8,199.9 25.8,199.5 26.8,199.2 C27.7,199.0 28.7,198.4 29.6,198.0 C30.6,197.5 31.6,197.2 32.5,196.6 C33.5,195.9 34.5,194.7 35.4,194.0 C36.4,193.4 37.3,192.9 38.3,192.5 C39.3,192.1 40.2,191.9 41.2,191.7 C42.2,191.5 43.1,191.3 44.1,191.1 C45.0,191.0 46.0,190.3 47.0,190.8 C47.9,191.2 48.9,193.0 49.8,193.8 C50.8,194.5 51.8,194.9 52.7,195.3 C53.7,195.6 54.7,195.9 55.6,195.7 C56.6,195.5 57.5,194.7 58.5,194.1 C59.5,193.5 60.4,192.7 61.4,192.0 C62.3,191.3 63.3,190.7 64.3,190.0 C65.2,189.4 66.2,188.9 67.2,188.3 C68.1,187.7 69.1,186.9 70.0,186.6 C71.0,186.2 72.0,186.4 72.9,186.1 C73.9,185.7 74.8,185.1 75.8,184.4 C76.8,183.7 77.7,182.8 78.7,181.7 C79.7,180.6 80.6,179.0 81.6,177.8 C82.5,176.5 83.5,175.5 84.5,174.2 C85.4,172.9 86.4,171.3 87.3,169.9 C88.3,168.5 89.3,167.1 90.2,165.9 C91.2,164.7 92.2,163.5 93.1,162.6 C94.1,161.7 95.0,161.2 96.0,160.5 C97.0,159.9 97.9,159.3 98.9,158.7 C99.9,158.1 100.8,157.8 101.8,156.9 C102.7,156.0 103.7,154.5 104.7,153.2 C105.6,151.9 106.6,150.6 107.5,148.9 C108.5,147.3 109.5,144.9 110.4,143.2 C111.4,141.4 112.4,139.8 113.3,138.2 C114.3,136.6 115.2,134.9 116.2,133.5 C117.2,132.1 118.1,131.2 119.1,129.9 C120.0,128.6 121.0,126.9 122.0,125.6 C122.9,124.3 123.9,122.8 124.9,122.0 C125.8,121.2 126.8,121.2 127.7,120.8 C128.7,120.4 129.7,120.0 130.6,119.7 C131.6,119.3 132.5,119.2 133.5,118.7 C134.5,118.2 135.4,117.0 136.4,116.7 C137.4,116.4 138.3,116.6 139.3,117.0 C140.2,117.4 141.2,118.0 142.2,118.8 C143.1,119.7 144.1,120.8 145.1,122.2 C146.0,123.5 147.0,125.3 147.9,126.9 C148.9,128.4 149.9,129.8 150.8,131.5 C151.8,133.1 152.7,135.1 153.7,136.9 C154.7,138.7 155.6,140.6 156.6,142.2 C157.6,143.7 158.5,145.2 159.5,146.1 C160.4,147.1 161.4,147.6 162.4,147.8 C163.3,148.1 164.3,147.8 165.2,147.6 C166.2,147.3 167.2,146.4 168.1,146.4 C169.1,146.5 170.1,147.4 171.0,148.0 C172.0,148.7 172.9,150.1 173.9,150.6 C174.9,151.1 175.8,150.9 176.8,151.1 C177.7,151.4 178.7,151.9 179.7,152.1 C180.6,152.2 181.6,152.0 182.6,152.1 C183.5,152.2 184.5,152.2 185.4,152.6 C186.4,153.0 187.4,153.8 188.3,154.5 C189.3,155.3 190.2,156.1 191.2,157.1 C192.2,158.0 193.1,158.9 194.1,160.4 C195.1,161.9 196.0,163.9 197.0,165.9 C197.9,168.0 198.9,170.5 199.9,172.6 C200.8,174.8 201.8,176.6 202.8,178.8 C203.7,181.1 204.7,184.0 205.6,186.1 C206.6,188.3 207.6,190.1 208.5,191.8 C209.5,193.4 210.4,194.9 211.4,195.9 C212.4,197.0 213.3,197.3 214.3,198.0 C215.3,198.6 216.2,199.0 217.2,199.7 C218.1,200.5 219.1,201.7 220.1,202.7 C221.0,203.8 222.0,205.1 222.9,206.1 C223.9,207.0 224.9,207.7 225.8,208.5 C226.8,209.3 227.8,210.1 228.7,210.7 C229.7,211.3 230.6,212.1 231.6,212.0 C232.6,211.9 233.5,210.5 234.5,210.0 C235.4,209.5 236.4,209.4 237.4,209.0 C238.3,208.6 239.3,208.3 240.3,207.6 C241.2,206.9 242.2,205.8 243.1,204.7 C244.1,203.7 245.1,202.1 246.0,201.6 C247.0,201.0 247.9,201.3 248.9,201.3 C249.9,201.3 250.8,201.7 251.8,201.6 C252.8,201.5 253.7,201.3 254.7,200.7 C255.6,200.1 256.6,199.2 257.6,198.1 C258.5,197.0 259.5,195.7 260.4,194.2 C261.4,192.8 262.4,191.4 263.3,189.5 C264.3,187.5 265.3,184.7 266.2,182.4 C267.2,180.1 268.1,177.5 269.1,175.6 C270.1,173.7 271.0,172.6 272.0,171.0 C273.0,169.4 273.9,167.4 274.9,166.1 C275.8,164.7 276.8,164.2 277.8,163.2 C278.7,162.2 279.7,161.3 280.6,160.1 C281.6,159.0 282.6,157.7 283.5,156.1 C284.5,154.4 285.5,151.7 286.4,150.2 C287.4,148.7 288.3,148.6 289.3,147.1 C290.3,145.7 291.2,143.4 292.2,141.6 C293.1,139.8 294.1,137.7 295.1,136.1 C296.0,134.4 297.0,133.1 298.0,131.7 C298.9,130.3 299.9,128.8 300.8,127.8 C301.8,126.8 302.8,126.4 303.7,125.7 C304.7,125.0 305.6,124.4 306.6,123.6 C307.6,122.8 308.5,122.1 309.5,121.1 C310.5,120.2 311.4,119.0 312.4,117.7 C313.3,116.4 314.3,114.5 315.3,113.1 C316.2,111.7 317.2,110.4 318.1,109.2 C319.1,107.9 320.1,106.5 321.0,105.6 C322.0,104.7 323.0,104.7 323.9,103.8 C324.9,102.8 325.8,101.0 326.8,100.1 C327.8,99.3 328.7,99.1 329.7,98.8 C330.7,98.5 331.6,98.8 332.6,98.6 C333.5,98.4 334.5,97.6 335.5,97.6 C336.4,97.6 337.4,98.2 338.3,98.5 C339.3,98.9 340.3,99.3 341.2,99.5 C342.2,99.7 343.2,99.5 344.1,99.8 C345.1,100.1 346.0,100.8 347.0,101.3 C348.0,101.8 348.9,102.5 349.9,103.1 C350.8,103.7 351.8,104.1 352.8,104.7 C353.7,105.2 354.7,105.7 355.7,106.4 C356.6,107.2 357.6,108.2 358.5,109.2 C359.5,110.1 360.5,110.9 361.4,112.1 C362.4,113.2 363.3,114.5 364.3,116.0 C365.3,117.5 366.2,119.3 367.2,121.0 C368.2,122.6 369.1,124.4 370.1,125.8 C371.0,127.1 372.0,128.2 373.0,129.2 C373.9,130.1 374.9,130.8 375.8,131.4 C376.8,132.0 377.8,132.3 378.7,132.8 C379.7,133.4 380.7,134.1 381.6,134.7 C382.6,135.2 383.5,135.8 384.5,136.1 C385.5,136.4 386.4,136.2 387.4,136.5 C388.4,136.8 389.3,137.5 390.3,138.0 C391.2,138.5 392.2,139.2 393.2,139.4 C394.1,139.6 395.1,139.3 396.0,139.0 C397.0,138.7 398.0,138.5 398.9,137.8 C399.9,137.1 400.9,135.6 401.8,134.6 C402.8,133.6 403.7,132.7 404.7,131.6 C405.7,130.5 406.6,129.2 407.6,128.1 C408.5,127.0 409.5,126.1 410.5,124.9 C411.4,123.8 412.4,122.4 413.4,121.1 C414.3,119.8 415.3,118.4 416.2,117.1 C417.2,115.8 418.2,114.6 419.1,113.5 C420.1,112.5 421.0,111.5 422.0,110.9 C423.0,110.3 423.9,110.3 424.9,109.8 C425.9,109.3 426.8,108.5 427.8,107.7 C428.7,106.9 429.7,105.7 430.7,105.0 C431.6,104.2 432.6,103.9 433.5,103.2 C434.5,102.4 435.5,101.1 436.4,100.4 C437.4,99.7 438.4,99.4 439.3,98.9 C440.3,98.3 441.2,97.6 442.2,97.1 C443.2,96.5 444.1,95.9 445.1,95.4 C446.1,94.9 447.0,94.5 448.0,94.0 C448.9,93.6 449.9,93.1 450.9,92.7 C451.8,92.3 452.8,92.1 453.7,91.6 C454.7,91.1 455.7,90.4 456.6,89.7 C457.6,88.9 458.6,88.2 459.5,87.2 C460.5,86.1 461.4,84.4 462.4,83.2 C463.4,82.0 464.3,80.7 465.3,79.9 C466.2,79.2 467.2,79.3 468.2,78.9 C469.1,78.5 470.1,78.2 471.1,77.7 C472.0,77.3 473.0,76.5 473.9,76.1 C474.9,75.7 475.9,75.6 476.8,75.3 C477.8,75.0 478.7,74.5 479.7,74.2 C480.7,74.0 481.6,73.8 482.6,73.8 C483.6,73.7 484.5,73.7 485.5,74.0 C486.4,74.3 487.4,75.1 488.4,75.7 C489.3,76.4 490.3,77.1 491.2,77.9 C492.2,78.6 493.2,79.5 494.1,80.2 C495.1,80.8 496.1,81.1 497.0,81.8 C498.0,82.5 498.9,83.5 499.9,84.3 C500.9,85.2 501.8,86.3 502.8,86.9 C503.8,87.6 504.7,87.8 505.7,88.4 C506.6,88.9 507.6,89.7 508.6,90.3 C509.5,90.9 510.5,91.6 511.4,92.0 C512.4,92.5 513.4,92.3 514.3,93.0 C515.3,93.6 516.3,95.0 517.2,96.1 C518.2,97.1 519.1,97.7 520.1,99.0 C521.1,100.4 522.0,102.7 523.0,104.4 C523.9,106.1 524.9,107.4 525.9,109.4 C526.8,111.5 527.8,114.4 528.8,116.7 C529.7,119.0 530.7,120.6 531.6,123.0 C532.6,125.3 533.6,128.5 534.5,130.9 C535.5,133.4 536.4,135.1 537.4,137.7 C538.4,140.3 539.8,145.0 540.3,146.5" fill="none" stroke="#a3101e" stroke-width="1.9" stroke-linejoin="round" stroke-linecap="round" /><line x1="0.8" y1="204.0" x2="0.8" y2="206.0" stroke="#111" stroke-width="1"/><line x1="0.8" y1="219.6" x2="0.8" y2="220.0" stroke="#111" stroke-width="1"/><rect x="-0.13" y="206.5" width="1.86" height="12.6" fill="none" stroke="#111" stroke-width="1"/><line x1="3.68" y1="197.8" x2="3.68" y2="200.2" stroke="#111" stroke-width="1"/><line x1="3.68" y1="202.2" x2="3.68" y2="206.0" stroke="#111" stroke-width="1"/><rect x="2.25" y="200.2" width="2.86" height="2.0" fill="#111"/><line x1="6.57" y1="197.3" x2="6.57" y2="204.1" stroke="#f2401d" stroke-width="1"/><line x1="6.57" y1="210.9" x2="6.57" y2="211.8" stroke="#f2401d" stroke-width="1"/><rect x="5.64" y="204.6" width="1.86" height="5.8" fill="none" stroke="#f2401d" stroke-width="1"/><line x1="9.46" y1="207.0" x2="9.46" y2="219.0" stroke="#f2401d" stroke-width="1"/><rect x="8.03" y="202.7" width="2.86" height="4.3" fill="#f2401d"/><line x1="12.34" y1="178.5" x2="12.34" y2="179.0" stroke="#111" stroke-width="1"/><line x1="12.34" y1="204.1" x2="12.34" y2="204.6" stroke="#111" stroke-width="1"/><rect x="11.41" y="179.5" width="1.86" height="24.1" fill="none" stroke="#111" stroke-width="1"/><line x1="15.22" y1="181.9" x2="15.22" y2="182.5" stroke="#f2401d" stroke-width="1"/><rect x="13.79" y="173.2" width="2.86" height="8.7" fill="#f2401d"/><line x1="18.11" y1="166.9" x2="18.11" y2="174.2" stroke="#f2401d" stroke-width="1"/><rect x="16.68" y="174.2" width="2.86" height="15.4" fill="#f2401d"/><line x1="21.0" y1="185.7" x2="21.0" y2="186.7" stroke="#f2401d" stroke-width="1"/><line x1="21.0" y1="193.5" x2="21.0" y2="195.4" stroke="#f2401d" stroke-width="1"/><rect x="19.57" y="186.7" width="2.86" height="6.8" fill="#f2401d"/><line x1="23.88" y1="197.3" x2="23.88" y2="198.3" stroke="#f2401d" stroke-width="1"/><line x1="23.88" y1="207.0" x2="23.88" y2="215.7" stroke="#f2401d" stroke-width="1"/><rect x="22.95" y="198.8" width="1.86" height="7.7" fill="none" stroke="#f2401d" stroke-width="1"/><line x1="26.76" y1="189.6" x2="26.76" y2="190.6" stroke="#111" stroke-width="1"/><line x1="26.76" y1="204.1" x2="26.76" y2="208.0" stroke="#111" stroke-width="1"/><rect x="25.83" y="191.1" width="1.86" height="12.5" fill="none" stroke="#111" stroke-width="1"/><line x1="29.65" y1="193.5" x2="29.65" y2="194.4" stroke="#f2401d" stroke-width="1"/><line x1="29.65" y1="202.2" x2="29.65" y2="211.4" stroke="#f2401d" stroke-width="1"/><rect x="28.72" y="194.9" width="1.86" height="6.8" fill="none" stroke="#f2401d" stroke-width="1"/><line x1="32.53" y1="191.5" x2="32.53" y2="192.5" stroke="#f2401d" stroke-width="1"/><line x1="32.53" y1="198.3" x2="32.53" y2="202.2" stroke="#f2401d" stroke-width="1"/><rect x="31.60" y="193.0" width="1.86" height="4.8" fill="none" stroke="#f2401d" stroke-width="1"/><line x1="35.42" y1="181.9" x2="35.42" y2="183.3" stroke="#111" stroke-width="1"/><line x1="35.42" y1="188.2" x2="35.42" y2="188.6" stroke="#111" stroke-width="1"/><rect x="34.49" y="183.8" width="1.86" height="3.9" fill="none" stroke="#111" stroke-width="1"/><line x1="38.3" y1="179.0" x2="38.3" y2="180.9" stroke="#f2401d" stroke-width="1"/><line x1="38.3" y1="185.7" x2="38.3" y2="186.7" stroke="#f2401d" stroke-width="1"/><rect x="36.87" y="180.9" width="2.86" height="4.8" fill="#f2401d"/><line x1="41.19" y1="185.7" x2="41.19" y2="188.6" stroke="#f2401d" stroke-width="1"/><line x1="41.19" y1="192.5" x2="41.19" y2="194.4" stroke="#f2401d" stroke-width="1"/><rect x="39.76" y="188.6" width="2.86" height="3.9" fill="#f2401d"/><line x1="44.07" y1="182.9" x2="44.07" y2="191.5" stroke="#f2401d" stroke-width="1"/><line x1="44.07" y1="196.4" x2="44.07" y2="198.3" stroke="#f2401d" stroke-width="1"/><rect x="42.64" y="191.5" width="2.86" height="4.9" fill="#f2401d"/><line x1="46.96" y1="197.6" x2="46.96" y2="202.5" stroke="#f2401d" stroke-width="1"/><line x1="46.96" y1="204.8" x2="46.96" y2="212.5" stroke="#f2401d" stroke-width="1"/><rect x="46.03" y="203.0" width="1.86" height="1.3" fill="none" stroke="#f2401d" stroke-width="1"/><line x1="49.84" y1="216.1" x2="49.84" y2="217.9" stroke="#f2401d" stroke-width="1"/><line x1="49.84" y1="219.2" x2="49.84" y2="226.9" stroke="#f2401d" stroke-width="1"/><rect x="48.91" y="218.4" width="1.86" height="0.6" fill="none" stroke="#f2401d" stroke-width="1"/><line x1="52.73" y1="189.0" x2="52.73" y2="201.2" stroke="#111" stroke-width="1"/><line x1="52.73" y1="207.5" x2="52.73" y2="209.3" stroke="#111" stroke-width="1"/><rect x="51.80" y="201.7" width="1.86" height="5.3" fill="none" stroke="#111" stroke-width="1"/><line x1="55.61" y1="176.1" x2="55.61" y2="181.9" stroke="#f2401d" stroke-width="1"/><line x1="55.61" y1="195.4" x2="55.61" y2="196.4" stroke="#f2401d" stroke-width="1"/><rect x="54.18" y="181.9" width="2.86" height="13.5" fill="#f2401d"/><line x1="58.5" y1="171.0" x2="58.5" y2="172.8" stroke="#111" stroke-width="1"/><line x1="58.5" y1="187.3" x2="58.5" y2="188.0" stroke="#111" stroke-width="1"/><rect x="57.57" y="173.3" width="1.86" height="13.5" fill="none" stroke="#111" stroke-width="1"/><line x1="61.38" y1="169.9" x2="61.38" y2="170.9" stroke="#111" stroke-width="1"/><line x1="61.38" y1="176.7" x2="61.38" y2="177.6" stroke="#111" stroke-width="1"/><rect x="60.45" y="171.4" width="1.86" height="4.8" fill="none" stroke="#111" stroke-width="1"/><line x1="64.27" y1="164.1" x2="64.27" y2="165.1" stroke="#111" stroke-width="1"/><line x1="64.27" y1="174.7" x2="64.27" y2="175.7" stroke="#111" stroke-width="1"/><rect x="63.34" y="165.6" width="1.86" height="8.6" fill="none" stroke="#111" stroke-width="1"/><line x1="67.15" y1="159.3" x2="67.15" y2="162.2" stroke="#f2401d" stroke-width="1"/><line x1="67.15" y1="171.8" x2="67.15" y2="174.7" stroke="#f2401d" stroke-width="1"/><rect x="65.72" y="162.2" width="2.86" height="9.6" fill="#f2401d"/><line x1="70.04" y1="161.2" x2="70.04" y2="164.1" stroke="#111" stroke-width="1"/><line x1="70.04" y1="169.9" x2="70.04" y2="173.8" stroke="#111" stroke-width="1"/><rect x="68.61" y="164.1" width="2.86" height="5.8" fill="#111"/><line x1="72.92" y1="163.1" x2="72.92" y2="164.1" stroke="#f2401d" stroke-width="1"/><rect x="71.49" y="164.1" width="2.86" height="12.6" fill="#f2401d"/><line x1="75.81" y1="162.2" x2="75.81" y2="164.1" stroke="#111" stroke-width="1"/><line x1="75.81" y1="172.8" x2="75.81" y2="173.8" stroke="#111" stroke-width="1"/><rect x="74.88" y="164.6" width="1.86" height="7.7" fill="none" stroke="#111" stroke-width="1"/><line x1="78.69" y1="156.9" x2="78.69" y2="157.3" stroke="#111" stroke-width="1"/><line x1="78.69" y1="165.1" x2="78.69" y2="174.7" stroke="#111" stroke-width="1"/><rect x="77.76" y="157.8" width="1.86" height="6.8" fill="none" stroke="#111" stroke-width="1"/><line x1="81.58" y1="143.3" x2="81.58" y2="145.7" stroke="#111" stroke-width="1"/><line x1="81.58" y1="155.4" x2="81.58" y2="155.9" stroke="#111" stroke-width="1"/><rect x="80.65" y="146.2" width="1.86" height="8.7" fill="none" stroke="#111" stroke-width="1"/><line x1="84.46" y1="148.2" x2="84.46" y2="150.6" stroke="#f2401d" stroke-width="1"/><line x1="84.46" y1="155.4" x2="84.46" y2="158.3" stroke="#f2401d" stroke-width="1"/><rect x="83.03" y="150.6" width="2.86" height="4.8" fill="#f2401d"/><line x1="87.35" y1="152.5" x2="87.35" y2="155.4" stroke="#f2401d" stroke-width="1"/><line x1="87.35" y1="162.2" x2="87.35" y2="162.7" stroke="#f2401d" stroke-width="1"/><rect x="85.92" y="155.4" width="2.86" height="6.8" fill="#f2401d"/><line x1="90.23" y1="148.2" x2="90.23" y2="149.6" stroke="#111" stroke-width="1"/><line x1="90.23" y1="155.4" x2="90.23" y2="159.8" stroke="#111" stroke-width="1"/><rect x="89.30" y="150.1" width="1.86" height="4.8" fill="none" stroke="#111" stroke-width="1"/><line x1="93.12" y1="148.2" x2="93.12" y2="150.6" stroke="#f2401d" stroke-width="1"/><line x1="93.12" y1="152.5" x2="93.12" y2="153.0" stroke="#f2401d" stroke-width="1"/><rect x="91.69" y="150.6" width="2.86" height="1.9" fill="#f2401d"/><line x1="96.0" y1="142.9" x2="96.0" y2="145.7" stroke="#111" stroke-width="1"/><line x1="96.0" y1="153.5" x2="96.0" y2="156.9" stroke="#111" stroke-width="1"/><rect x="95.07" y="146.2" width="1.86" height="6.8" fill="none" stroke="#111" stroke-width="1"/><line x1="98.89" y1="138.0" x2="98.89" y2="140.0" stroke="#f2401d" stroke-width="1"/><line x1="98.89" y1="146.7" x2="98.89" y2="147.2" stroke="#f2401d" stroke-width="1"/><rect x="97.46" y="140.0" width="2.86" height="6.7" fill="#f2401d"/><line x1="101.77" y1="140.8" x2="101.77" y2="141.7" stroke="#111" stroke-width="1"/><rect x="100.84" y="142.2" width="1.86" height="3.3" fill="none" stroke="#111" stroke-width="1"/><line x1="104.66" y1="122.2" x2="104.66" y2="124.3" stroke="#111" stroke-width="1"/><line x1="104.66" y1="128.4" x2="104.66" y2="129.6" stroke="#111" stroke-width="1"/><rect x="103.73" y="124.8" width="1.86" height="3.1" fill="none" stroke="#111" stroke-width="1"/><line x1="107.54" y1="109.3" x2="107.54" y2="114.4" stroke="#111" stroke-width="1"/><line x1="107.54" y1="116.9" x2="107.54" y2="117.3" stroke="#111" stroke-width="1"/><rect x="106.61" y="114.9" width="1.86" height="1.5" fill="none" stroke="#111" stroke-width="1"/><line x1="110.43" y1="101.0" x2="110.43" y2="101.4" stroke="#111" stroke-width="1"/><line x1="110.43" y1="109.8" x2="110.43" y2="114.4" stroke="#111" stroke-width="1"/><rect x="109.50" y="101.9" width="1.86" height="7.4" fill="none" stroke="#111" stroke-width="1"/><line x1="113.31" y1="99.3" x2="113.31" y2="100.1" stroke="#f2401d" stroke-width="1"/><line x1="113.31" y1="110.6" x2="113.31" y2="111.4" stroke="#f2401d" stroke-width="1"/><rect x="112.38" y="100.6" width="1.86" height="9.5" fill="none" stroke="#f2401d" stroke-width="1"/><line x1="116.2" y1="91.3" x2="116.2" y2="95.5" stroke="#111" stroke-width="1"/><line x1="116.2" y1="105.2" x2="116.2" y2="105.6" stroke="#111" stroke-width="1"/><rect x="115.27" y="96.0" width="1.86" height="8.7" fill="none" stroke="#111" stroke-width="1"/><line x1="119.08" y1="96.0" x2="119.08" y2="98.9" stroke="#f2401d" stroke-width="1"/><line x1="119.08" y1="105.6" x2="119.08" y2="106.0" stroke="#f2401d" stroke-width="1"/><rect x="118.15" y="99.4" width="1.86" height="5.7" fill="none" stroke="#f2401d" stroke-width="1"/><line x1="121.97" y1="97.5" x2="121.97" y2="98.0" stroke="#111" stroke-width="1"/><line x1="121.97" y1="100.1" x2="121.97" y2="104.3" stroke="#111" stroke-width="1"/><rect x="120.54" y="98.0" width="2.86" height="2.1" fill="#111"/><line x1="124.85" y1="102.2" x2="124.85" y2="103.5" stroke="#f2401d" stroke-width="1"/><line x1="124.85" y1="115.6" x2="124.85" y2="118.5" stroke="#f2401d" stroke-width="1"/><rect x="123.42" y="103.5" width="2.86" height="12.1" fill="#f2401d"/><line x1="127.74" y1="127.5" x2="127.74" y2="128.0" stroke="#f2401d" stroke-width="1"/><line x1="127.74" y1="133.8" x2="127.74" y2="135.0" stroke="#f2401d" stroke-width="1"/><rect x="126.31" y="128.0" width="2.86" height="5.8" fill="#f2401d"/><line x1="130.62" y1="130.0" x2="130.62" y2="131.8" stroke="#f2401d" stroke-width="1"/><line x1="130.62" y1="137.6" x2="130.62" y2="138.0" stroke="#f2401d" stroke-width="1"/><rect x="129.19" y="131.8" width="2.86" height="5.8" fill="#f2401d"/><line x1="133.51" y1="131.8" x2="133.51" y2="133.2" stroke="#111" stroke-width="1"/><line x1="133.51" y1="139.5" x2="133.51" y2="140.4" stroke="#111" stroke-width="1"/><rect x="132.58" y="133.7" width="1.86" height="5.3" fill="none" stroke="#111" stroke-width="1"/><line x1="136.4" y1="119.8" x2="136.4" y2="120.2" stroke="#111" stroke-width="1"/><line x1="136.4" y1="131.8" x2="136.4" y2="133.8" stroke="#111" stroke-width="1"/><rect x="135.47" y="120.7" width="1.86" height="10.6" fill="none" stroke="#111" stroke-width="1"/><line x1="139.28" y1="116.4" x2="139.28" y2="117.3" stroke="#f2401d" stroke-width="1"/><line x1="139.28" y1="145.8" x2="139.28" y2="146.3" stroke="#f2401d" stroke-width="1"/><rect x="137.85" y="117.3" width="2.86" height="28.5" fill="#f2401d"/><line x1="142.16" y1="146.7" x2="142.16" y2="148.2" stroke="#f2401d" stroke-width="1"/><line x1="142.16" y1="155.9" x2="142.16" y2="156.9" stroke="#f2401d" stroke-width="1"/><rect x="141.23" y="148.7" width="1.86" height="6.7" fill="none" stroke="#f2401d" stroke-width="1"/><line x1="145.05" y1="148.2" x2="145.05" y2="149.2" stroke="#f2401d" stroke-width="1"/><line x1="145.05" y1="157.9" x2="145.05" y2="159.8" stroke="#f2401d" stroke-width="1"/><rect x="143.62" y="149.2" width="2.86" height="8.7" fill="#f2401d"/><line x1="147.94" y1="150.1" x2="147.94" y2="151.1" stroke="#f2401d" stroke-width="1"/><line x1="147.94" y1="162.7" x2="147.94" y2="163.2" stroke="#f2401d" stroke-width="1"/><rect x="146.50" y="151.1" width="2.86" height="11.6" fill="#f2401d"/><line x1="150.82" y1="158.8" x2="150.82" y2="159.8" stroke="#111" stroke-width="1"/><line x1="150.82" y1="165.6" x2="150.82" y2="174.8" stroke="#111" stroke-width="1"/><rect x="149.89" y="160.3" width="1.86" height="4.8" fill="none" stroke="#111" stroke-width="1"/><line x1="153.71" y1="144.3" x2="153.71" y2="150.1" stroke="#f2401d" stroke-width="1"/><line x1="153.71" y1="165.6" x2="153.71" y2="169.4" stroke="#f2401d" stroke-width="1"/><rect x="152.28" y="150.1" width="2.86" height="15.5" fill="#f2401d"/><line x1="156.59" y1="159.8" x2="156.59" y2="160.7" stroke="#f2401d" stroke-width="1"/><line x1="156.59" y1="167.5" x2="156.59" y2="175.7" stroke="#f2401d" stroke-width="1"/><rect x="155.16" y="160.7" width="2.86" height="6.8" fill="#f2401d"/><line x1="159.47" y1="151.0" x2="159.47" y2="152.0" stroke="#111" stroke-width="1"/><line x1="159.47" y1="170.4" x2="159.47" y2="171.4" stroke="#111" stroke-width="1"/><rect x="158.54" y="152.5" width="1.86" height="17.4" fill="none" stroke="#111" stroke-width="1"/><line x1="162.36" y1="137.1" x2="162.36" y2="137.6" stroke="#111" stroke-width="1"/><line x1="162.36" y1="151.1" x2="162.36" y2="151.6" stroke="#111" stroke-width="1"/><rect x="161.43" y="138.1" width="1.86" height="12.5" fill="none" stroke="#111" stroke-width="1"/><line x1="165.25" y1="128.4" x2="165.25" y2="130.3" stroke="#111" stroke-width="1"/><line x1="165.25" y1="134.2" x2="165.25" y2="134.7" stroke="#111" stroke-width="1"/><rect x="164.31" y="130.8" width="1.86" height="2.9" fill="none" stroke="#111" stroke-width="1"/><line x1="168.13" y1="122.0" x2="168.13" y2="123.0" stroke="#111" stroke-width="1"/><line x1="168.13" y1="128.0" x2="168.13" y2="128.5" stroke="#111" stroke-width="1"/><rect x="167.20" y="123.5" width="1.86" height="4.0" fill="none" stroke="#111" stroke-width="1"/><line x1="171.01" y1="138.5" x2="171.01" y2="139.5" stroke="#f2401d" stroke-width="1"/><line x1="171.01" y1="154.0" x2="171.01" y2="157.4" stroke="#f2401d" stroke-width="1"/><rect x="169.58" y="139.5" width="2.86" height="14.5" fill="#f2401d"/><line x1="173.9" y1="152.0" x2="173.9" y2="153.0" stroke="#f2401d" stroke-width="1"/><line x1="173.9" y1="156.9" x2="173.9" y2="164.6" stroke="#f2401d" stroke-width="1"/><rect x="172.97" y="153.5" width="1.86" height="2.9" fill="none" stroke="#f2401d" stroke-width="1"/><line x1="176.78" y1="145.3" x2="176.78" y2="153.0" stroke="#111" stroke-width="1"/><line x1="176.78" y1="157.0" x2="176.78" y2="157.9" stroke="#111" stroke-width="1"/><rect x="175.85" y="153.5" width="1.86" height="3.0" fill="none" stroke="#111" stroke-width="1"/><line x1="179.67" y1="160.3" x2="179.67" y2="160.7" stroke="#f2401d" stroke-width="1"/><line x1="179.67" y1="165.6" x2="179.67" y2="170.4" stroke="#f2401d" stroke-width="1"/><rect x="178.74" y="161.2" width="1.86" height="3.9" fill="none" stroke="#f2401d" stroke-width="1"/><line x1="182.56" y1="152.0" x2="182.56" y2="157.9" stroke="#111" stroke-width="1"/><line x1="182.56" y1="175.2" x2="182.56" y2="175.7" stroke="#111" stroke-width="1"/><rect x="181.62" y="158.4" width="1.86" height="16.3" fill="none" stroke="#111" stroke-width="1"/><line x1="185.44" y1="159.8" x2="185.44" y2="162.7" stroke="#f2401d" stroke-width="1"/><line x1="185.44" y1="169.4" x2="185.44" y2="176.2" stroke="#f2401d" stroke-width="1"/><rect x="184.01" y="162.7" width="2.86" height="6.7" fill="#f2401d"/><line x1="188.32" y1="160.7" x2="188.32" y2="162.7" stroke="#f2401d" stroke-width="1"/><line x1="188.32" y1="185.0" x2="188.32" y2="187.0" stroke="#f2401d" stroke-width="1"/><rect x="186.89" y="162.7" width="2.86" height="22.3" fill="#f2401d"/><line x1="191.21" y1="182.0" x2="191.21" y2="183.0" stroke="#f2401d" stroke-width="1"/><line x1="191.21" y1="198.5" x2="191.21" y2="199.5" stroke="#f2401d" stroke-width="1"/><rect x="189.78" y="183.0" width="2.86" height="15.5" fill="#f2401d"/><line x1="194.09" y1="203.3" x2="194.09" y2="205.2" stroke="#f2401d" stroke-width="1"/><line x1="194.09" y1="211.0" x2="194.09" y2="221.7" stroke="#f2401d" stroke-width="1"/><rect x="192.66" y="205.2" width="2.86" height="5.8" fill="#f2401d"/><line x1="196.98" y1="212.0" x2="196.98" y2="213.0" stroke="#f2401d" stroke-width="1"/><line x1="196.98" y1="223.6" x2="196.98" y2="227.5" stroke="#f2401d" stroke-width="1"/><rect x="195.55" y="213.0" width="2.86" height="10.6" fill="#f2401d"/><line x1="199.87" y1="213.0" x2="199.87" y2="214.0" stroke="#f2401d" stroke-width="1"/><line x1="199.87" y1="224.6" x2="199.87" y2="232.3" stroke="#f2401d" stroke-width="1"/><rect x="198.44" y="214.0" width="2.86" height="10.6" fill="#f2401d"/><line x1="202.75" y1="207.2" x2="202.75" y2="211.0" stroke="#111" stroke-width="1"/><line x1="202.75" y1="223.6" x2="202.75" y2="224.6" stroke="#111" stroke-width="1"/><rect x="201.82" y="211.5" width="1.86" height="11.6" fill="none" stroke="#111" stroke-width="1"/><line x1="205.63" y1="216.8" x2="205.63" y2="217.8" stroke="#f2401d" stroke-width="1"/><line x1="205.63" y1="224.6" x2="205.63" y2="229.4" stroke="#f2401d" stroke-width="1"/><rect x="204.70" y="218.3" width="1.86" height="5.8" fill="none" stroke="#f2401d" stroke-width="1"/><line x1="208.52" y1="211.0" x2="208.52" y2="218.8" stroke="#f2401d" stroke-width="1"/><line x1="208.52" y1="227.5" x2="208.52" y2="229.4" stroke="#f2401d" stroke-width="1"/><rect x="207.09" y="218.8" width="2.86" height="8.7" fill="#f2401d"/><line x1="211.41" y1="203.3" x2="211.41" y2="207.2" stroke="#111" stroke-width="1"/><line x1="211.41" y1="219.7" x2="211.41" y2="228.4" stroke="#111" stroke-width="1"/><rect x="210.47" y="207.7" width="1.86" height="11.5" fill="none" stroke="#111" stroke-width="1"/><line x1="214.29" y1="178.7" x2="214.29" y2="179.2" stroke="#111" stroke-width="1"/><line x1="214.29" y1="195.6" x2="214.29" y2="196.1" stroke="#111" stroke-width="1"/><rect x="213.36" y="179.7" width="1.86" height="15.4" fill="none" stroke="#111" stroke-width="1"/><line x1="217.17" y1="181.1" x2="217.17" y2="184.0" stroke="#f2401d" stroke-width="1"/><line x1="217.17" y1="191.7" x2="217.17" y2="193.6" stroke="#f2401d" stroke-width="1"/><rect x="216.24" y="184.5" width="1.86" height="6.7" fill="none" stroke="#f2401d" stroke-width="1"/><line x1="220.06" y1="186.0" x2="220.06" y2="187.9" stroke="#f2401d" stroke-width="1"/><line x1="220.06" y1="196.5" x2="220.06" y2="197.5" stroke="#f2401d" stroke-width="1"/><rect x="218.63" y="187.9" width="2.86" height="8.6" fill="#f2401d"/><line x1="222.94" y1="200.4" x2="222.94" y2="202.3" stroke="#f2401d" stroke-width="1"/><line x1="222.94" y1="213.0" x2="222.94" y2="217.8" stroke="#f2401d" stroke-width="1"/><rect x="221.51" y="202.3" width="2.86" height="10.7" fill="#f2401d"/><line x1="225.83" y1="207.2" x2="225.83" y2="208.1" stroke="#f2401d" stroke-width="1"/><line x1="225.83" y1="216.8" x2="225.83" y2="221.7" stroke="#f2401d" stroke-width="1"/><rect x="224.40" y="208.1" width="2.86" height="8.7" fill="#f2401d"/><line x1="228.72" y1="214.9" x2="228.72" y2="220.7" stroke="#f2401d" stroke-width="1"/><line x1="228.72" y1="226.5" x2="228.72" y2="230.4" stroke="#f2401d" stroke-width="1"/><rect x="227.28" y="220.7" width="2.86" height="5.8" fill="#f2401d"/><line x1="231.6" y1="218.8" x2="231.6" y2="225.5" stroke="#f2401d" stroke-width="1"/><line x1="231.6" y1="228.4" x2="231.6" y2="231.3" stroke="#f2401d" stroke-width="1"/><rect x="230.17" y="225.5" width="2.86" height="2.9" fill="#f2401d"/><line x1="234.48" y1="196.5" x2="234.48" y2="197.5" stroke="#111" stroke-width="1"/><line x1="234.48" y1="243.9" x2="234.48" y2="248.7" stroke="#111" stroke-width="1"/><rect x="233.55" y="198.0" width="1.86" height="45.4" fill="none" stroke="#111" stroke-width="1"/><line x1="237.37" y1="183.0" x2="237.37" y2="191.7" stroke="#f2401d" stroke-width="1"/><line x1="237.37" y1="212.0" x2="237.37" y2="213.0" stroke="#f2401d" stroke-width="1"/><rect x="235.94" y="191.7" width="2.86" height="20.3" fill="#f2401d"/><line x1="240.25" y1="187.5" x2="240.25" y2="192.4" stroke="#111" stroke-width="1"/><line x1="240.25" y1="196.0" x2="240.25" y2="197.4" stroke="#111" stroke-width="1"/><rect x="239.32" y="192.9" width="1.86" height="2.6" fill="none" stroke="#111" stroke-width="1"/><line x1="243.14" y1="171.8" x2="243.14" y2="172.2" stroke="#111" stroke-width="1"/><line x1="243.14" y1="180.7" x2="243.14" y2="188.8" stroke="#111" stroke-width="1"/><rect x="241.71" y="172.2" width="2.86" height="8.5" fill="#111"/><line x1="246.03" y1="180.3" x2="246.03" y2="186.1" stroke="#f2401d" stroke-width="1"/><line x1="246.03" y1="193.3" x2="246.03" y2="195.6" stroke="#f2401d" stroke-width="1"/><rect x="245.09" y="186.6" width="1.86" height="6.2" fill="none" stroke="#f2401d" stroke-width="1"/><line x1="248.91" y1="193.3" x2="248.91" y2="193.8" stroke="#f2401d" stroke-width="1"/><line x1="248.91" y1="204.0" x2="248.91" y2="205.0" stroke="#f2401d" stroke-width="1"/><rect x="247.48" y="193.8" width="2.86" height="10.2" fill="#f2401d"/><line x1="251.79" y1="182.0" x2="251.79" y2="182.5" stroke="#111" stroke-width="1"/><line x1="251.79" y1="204.1" x2="251.79" y2="204.6" stroke="#111" stroke-width="1"/><rect x="250.86" y="183.0" width="1.86" height="20.6" fill="none" stroke="#111" stroke-width="1"/><line x1="254.68" y1="171.3" x2="254.68" y2="172.6" stroke="#111" stroke-width="1"/><line x1="254.68" y1="178.9" x2="254.68" y2="180.7" stroke="#111" stroke-width="1"/><rect x="253.75" y="173.1" width="1.86" height="5.3" fill="none" stroke="#111" stroke-width="1"/><line x1="257.56" y1="162.2" x2="257.56" y2="162.7" stroke="#111" stroke-width="1"/><line x1="257.56" y1="176.7" x2="257.56" y2="177.1" stroke="#111" stroke-width="1"/><rect x="256.63" y="163.2" width="1.86" height="13.0" fill="none" stroke="#111" stroke-width="1"/><line x1="260.45" y1="152.0" x2="260.45" y2="159.7" stroke="#111" stroke-width="1"/><rect x="259.02" y="159.7" width="2.86" height="2.9" fill="#111"/><line x1="263.33" y1="146.2" x2="263.33" y2="153.0" stroke="#111" stroke-width="1"/><line x1="263.33" y1="154.9" x2="263.33" y2="155.4" stroke="#111" stroke-width="1"/><rect x="261.90" y="153.0" width="2.86" height="1.9" fill="#111"/><line x1="266.22" y1="133.6" x2="266.22" y2="134.6" stroke="#111" stroke-width="1"/><line x1="266.22" y1="152.0" x2="266.22" y2="153.0" stroke="#111" stroke-width="1"/><rect x="265.29" y="135.1" width="1.86" height="16.4" fill="none" stroke="#111" stroke-width="1"/><line x1="269.11" y1="135.0" x2="269.11" y2="135.6" stroke="#f2401d" stroke-width="1"/><line x1="269.11" y1="140.4" x2="269.11" y2="141.0" stroke="#f2401d" stroke-width="1"/><rect x="267.68" y="135.6" width="2.86" height="4.8" fill="#f2401d"/><line x1="271.99" y1="131.7" x2="271.99" y2="132.7" stroke="#111" stroke-width="1"/><line x1="271.99" y1="137.5" x2="271.99" y2="138.5" stroke="#111" stroke-width="1"/><rect x="270.56" y="132.7" width="2.86" height="4.8" fill="#111"/><line x1="274.88" y1="125.0" x2="274.88" y2="139.0" stroke="#f2401d" stroke-width="1"/><line x1="274.88" y1="147.7" x2="274.88" y2="148.1" stroke="#f2401d" stroke-width="1"/><rect x="273.44" y="139.0" width="2.86" height="8.7" fill="#f2401d"/><line x1="277.76" y1="150.1" x2="277.76" y2="154.9" stroke="#f2401d" stroke-width="1"/><line x1="277.76" y1="157.8" x2="277.76" y2="161.2" stroke="#f2401d" stroke-width="1"/><rect x="276.83" y="155.4" width="1.86" height="1.9" fill="none" stroke="#f2401d" stroke-width="1"/><line x1="280.64" y1="137.5" x2="280.64" y2="141.4" stroke="#111" stroke-width="1"/><line x1="280.64" y1="144.3" x2="280.64" y2="153.0" stroke="#111" stroke-width="1"/><rect x="279.71" y="141.9" width="1.86" height="1.9" fill="none" stroke="#111" stroke-width="1"/><line x1="283.53" y1="132.7" x2="283.53" y2="133.2" stroke="#111" stroke-width="1"/><line x1="283.53" y1="135.6" x2="283.53" y2="140.4" stroke="#111" stroke-width="1"/><rect x="282.60" y="133.7" width="1.86" height="1.4" fill="none" stroke="#111" stroke-width="1"/><line x1="286.41" y1="124.0" x2="286.41" y2="127.9" stroke="#111" stroke-width="1"/><line x1="286.41" y1="133.6" x2="286.41" y2="136.5" stroke="#111" stroke-width="1"/><rect x="285.48" y="128.4" width="1.86" height="4.7" fill="none" stroke="#111" stroke-width="1"/><line x1="289.3" y1="132.3" x2="289.3" y2="133.6" stroke="#f2401d" stroke-width="1"/><line x1="289.3" y1="142.3" x2="289.3" y2="142.8" stroke="#f2401d" stroke-width="1"/><rect x="287.87" y="133.6" width="2.86" height="8.7" fill="#f2401d"/><line x1="292.19" y1="100.0" x2="292.19" y2="100.7" stroke="#111" stroke-width="1"/><line x1="292.19" y1="118.1" x2="292.19" y2="118.6" stroke="#111" stroke-width="1"/><rect x="291.25" y="101.2" width="1.86" height="16.4" fill="none" stroke="#111" stroke-width="1"/><line x1="295.07" y1="90.0" x2="295.07" y2="90.9" stroke="#111" stroke-width="1"/><line x1="295.07" y1="95.7" x2="295.07" y2="96.7" stroke="#111" stroke-width="1"/><rect x="294.14" y="91.4" width="1.86" height="3.8" fill="none" stroke="#111" stroke-width="1"/><line x1="297.95" y1="95.7" x2="297.95" y2="96.2" stroke="#f2401d" stroke-width="1"/><line x1="297.95" y1="105.9" x2="297.95" y2="106.4" stroke="#f2401d" stroke-width="1"/><rect x="296.52" y="96.2" width="2.86" height="9.7" fill="#f2401d"/><line x1="300.84" y1="93.8" x2="300.84" y2="97.2" stroke="#111" stroke-width="1"/><line x1="300.84" y1="103.5" x2="300.84" y2="112.2" stroke="#111" stroke-width="1"/><rect x="299.41" y="97.2" width="2.86" height="6.3" fill="#111"/><line x1="303.72" y1="102.5" x2="303.72" y2="103.5" stroke="#f2401d" stroke-width="1"/><line x1="303.72" y1="108.3" x2="303.72" y2="110.2" stroke="#f2401d" stroke-width="1"/><rect x="302.29" y="103.5" width="2.86" height="4.8" fill="#f2401d"/><line x1="306.61" y1="112.2" x2="306.61" y2="112.7" stroke="#f2401d" stroke-width="1"/><line x1="306.61" y1="118.0" x2="306.61" y2="120.9" stroke="#f2401d" stroke-width="1"/><rect x="305.68" y="113.2" width="1.86" height="4.3" fill="none" stroke="#f2401d" stroke-width="1"/><line x1="309.5" y1="100.6" x2="309.5" y2="101.5" stroke="#111" stroke-width="1"/><line x1="309.5" y1="105.4" x2="309.5" y2="112.7" stroke="#111" stroke-width="1"/><rect x="308.06" y="101.5" width="2.86" height="3.9" fill="#111"/><line x1="312.38" y1="102.0" x2="312.38" y2="103.0" stroke="#111" stroke-width="1"/><line x1="312.38" y1="106.4" x2="312.38" y2="106.9" stroke="#111" stroke-width="1"/><rect x="311.45" y="103.5" width="1.86" height="2.4" fill="none" stroke="#111" stroke-width="1"/><line x1="315.26" y1="93.8" x2="315.26" y2="94.8" stroke="#111" stroke-width="1"/><line x1="315.26" y1="98.2" x2="315.26" y2="98.7" stroke="#111" stroke-width="1"/><rect x="314.33" y="95.3" width="1.86" height="2.4" fill="none" stroke="#111" stroke-width="1"/><line x1="318.15" y1="89.0" x2="318.15" y2="90.4" stroke="#111" stroke-width="1"/><line x1="318.15" y1="94.8" x2="318.15" y2="95.3" stroke="#111" stroke-width="1"/><rect x="317.22" y="90.9" width="1.86" height="3.4" fill="none" stroke="#111" stroke-width="1"/><line x1="321.03" y1="87.0" x2="321.03" y2="87.5" stroke="#111" stroke-width="1"/><line x1="321.03" y1="90.9" x2="321.03" y2="91.4" stroke="#111" stroke-width="1"/><rect x="320.10" y="88.0" width="1.86" height="2.4" fill="none" stroke="#111" stroke-width="1"/><line x1="323.92" y1="89.0" x2="323.92" y2="91.9" stroke="#f2401d" stroke-width="1"/><line x1="323.92" y1="103.5" x2="323.92" y2="104.0" stroke="#f2401d" stroke-width="1"/><rect x="322.49" y="91.9" width="2.86" height="11.6" fill="#f2401d"/><line x1="326.81" y1="94.3" x2="326.81" y2="95.3" stroke="#111" stroke-width="1"/><line x1="326.81" y1="104.4" x2="326.81" y2="104.9" stroke="#111" stroke-width="1"/><rect x="325.88" y="95.8" width="1.86" height="8.1" fill="none" stroke="#111" stroke-width="1"/><line x1="329.69" y1="82.7" x2="329.69" y2="83.2" stroke="#111" stroke-width="1"/><line x1="329.69" y1="100.6" x2="329.69" y2="111.2" stroke="#111" stroke-width="1"/><rect x="328.76" y="83.7" width="1.86" height="16.4" fill="none" stroke="#111" stroke-width="1"/><line x1="332.57" y1="78.4" x2="332.57" y2="78.8" stroke="#f2401d" stroke-width="1"/><line x1="332.57" y1="88.0" x2="332.57" y2="93.3" stroke="#f2401d" stroke-width="1"/><rect x="331.14" y="78.8" width="2.86" height="9.2" fill="#f2401d"/><line x1="335.46" y1="91.9" x2="335.46" y2="92.9" stroke="#f2401d" stroke-width="1"/><line x1="335.46" y1="97.7" x2="335.46" y2="98.2" stroke="#f2401d" stroke-width="1"/><rect x="334.53" y="93.4" width="1.86" height="3.8" fill="none" stroke="#f2401d" stroke-width="1"/><line x1="338.34" y1="98.2" x2="338.34" y2="98.6" stroke="#f2401d" stroke-width="1"/><line x1="338.34" y1="116.0" x2="338.34" y2="117.0" stroke="#f2401d" stroke-width="1"/><rect x="336.91" y="98.6" width="2.86" height="17.4" fill="#f2401d"/><line x1="341.23" y1="114.1" x2="341.23" y2="115.1" stroke="#f2401d" stroke-width="1"/><line x1="341.23" y1="120.9" x2="341.23" y2="126.7" stroke="#f2401d" stroke-width="1"/><rect x="339.80" y="115.1" width="2.86" height="5.8" fill="#f2401d"/><line x1="344.12" y1="116.0" x2="344.12" y2="117.0" stroke="#f2401d" stroke-width="1"/><line x1="344.12" y1="125.7" x2="344.12" y2="126.7" stroke="#f2401d" stroke-width="1"/><rect x="343.19" y="117.5" width="1.86" height="7.7" fill="none" stroke="#f2401d" stroke-width="1"/><line x1="347.0" y1="120.9" x2="347.0" y2="121.5" stroke="#111" stroke-width="1"/><line x1="347.0" y1="124.4" x2="347.0" y2="126.7" stroke="#111" stroke-width="1"/><rect x="345.57" y="121.5" width="2.86" height="2.9" fill="#111"/><line x1="349.88" y1="122.5" x2="349.88" y2="123.5" stroke="#f2401d" stroke-width="1"/><line x1="349.88" y1="126.4" x2="349.88" y2="127.3" stroke="#f2401d" stroke-width="1"/><rect x="348.45" y="123.5" width="2.86" height="2.9" fill="#f2401d"/><line x1="352.77" y1="114.3" x2="352.77" y2="115.3" stroke="#111" stroke-width="1"/><line x1="352.77" y1="125.4" x2="352.77" y2="129.3" stroke="#111" stroke-width="1"/><rect x="351.84" y="115.8" width="1.86" height="9.1" fill="none" stroke="#111" stroke-width="1"/><line x1="355.65" y1="92.5" x2="355.65" y2="93.0" stroke="#111" stroke-width="1"/><line x1="355.65" y1="112.9" x2="355.65" y2="113.4" stroke="#111" stroke-width="1"/><rect x="354.22" y="93.0" width="2.86" height="19.9" fill="#111"/><line x1="358.54" y1="111.9" x2="358.54" y2="114.8" stroke="#f2401d" stroke-width="1"/><line x1="358.54" y1="123.5" x2="358.54" y2="127.3" stroke="#f2401d" stroke-width="1"/><rect x="357.11" y="114.8" width="2.86" height="8.7" fill="#f2401d"/><line x1="361.43" y1="133.6" x2="361.43" y2="136.0" stroke="#f2401d" stroke-width="1"/><line x1="361.43" y1="140.9" x2="361.43" y2="143.8" stroke="#f2401d" stroke-width="1"/><rect x="360.00" y="136.0" width="2.86" height="4.9" fill="#f2401d"/><line x1="364.31" y1="144.7" x2="364.31" y2="146.7" stroke="#f2401d" stroke-width="1"/><line x1="364.31" y1="149.6" x2="364.31" y2="153.4" stroke="#f2401d" stroke-width="1"/><rect x="363.38" y="147.2" width="1.86" height="1.9" fill="none" stroke="#f2401d" stroke-width="1"/><line x1="367.19" y1="145.7" x2="367.19" y2="147.6" stroke="#f2401d" stroke-width="1"/><line x1="367.19" y1="156.3" x2="367.19" y2="158.3" stroke="#f2401d" stroke-width="1"/><rect x="366.26" y="148.1" width="1.86" height="7.7" fill="none" stroke="#f2401d" stroke-width="1"/><line x1="370.08" y1="145.7" x2="370.08" y2="147.6" stroke="#111" stroke-width="1"/><line x1="370.08" y1="150.5" x2="370.08" y2="153.4" stroke="#111" stroke-width="1"/><rect x="368.65" y="147.6" width="2.86" height="2.9" fill="#111"/><line x1="372.96" y1="135.6" x2="372.96" y2="137.0" stroke="#111" stroke-width="1"/><line x1="372.96" y1="141.8" x2="372.96" y2="142.8" stroke="#111" stroke-width="1"/><rect x="372.03" y="137.5" width="1.86" height="3.8" fill="none" stroke="#111" stroke-width="1"/><line x1="375.85" y1="141.8" x2="375.85" y2="142.8" stroke="#f2401d" stroke-width="1"/><line x1="375.85" y1="144.7" x2="375.85" y2="157.3" stroke="#f2401d" stroke-width="1"/><rect x="374.42" y="142.8" width="2.86" height="1.9" fill="#f2401d"/><line x1="378.73" y1="138.9" x2="378.73" y2="139.9" stroke="#111" stroke-width="1"/><line x1="378.73" y1="145.7" x2="378.73" y2="149.1" stroke="#111" stroke-width="1"/><rect x="377.80" y="140.4" width="1.86" height="4.8" fill="none" stroke="#111" stroke-width="1"/><line x1="381.62" y1="136.0" x2="381.62" y2="137.0" stroke="#f2401d" stroke-width="1"/><line x1="381.62" y1="140.9" x2="381.62" y2="141.8" stroke="#f2401d" stroke-width="1"/><rect x="380.19" y="137.0" width="2.86" height="3.9" fill="#f2401d"/><line x1="384.5" y1="137.0" x2="384.5" y2="138.0" stroke="#f2401d" stroke-width="1"/><line x1="384.5" y1="142.8" x2="384.5" y2="143.8" stroke="#f2401d" stroke-width="1"/><rect x="383.07" y="138.0" width="2.86" height="4.8" fill="#f2401d"/><line x1="387.39" y1="131.2" x2="387.39" y2="132.2" stroke="#111" stroke-width="1"/><line x1="387.39" y1="137.0" x2="387.39" y2="138.0" stroke="#111" stroke-width="1"/><rect x="386.46" y="132.7" width="1.86" height="3.8" fill="none" stroke="#111" stroke-width="1"/><line x1="390.27" y1="133.1" x2="390.27" y2="134.1" stroke="#f2401d" stroke-width="1"/><line x1="390.27" y1="138.0" x2="390.27" y2="138.9" stroke="#f2401d" stroke-width="1"/><rect x="389.34" y="134.6" width="1.86" height="2.9" fill="none" stroke="#f2401d" stroke-width="1"/><line x1="393.16" y1="122.5" x2="393.16" y2="128.3" stroke="#111" stroke-width="1"/><line x1="393.16" y1="131.2" x2="393.16" y2="134.1" stroke="#111" stroke-width="1"/><rect x="391.73" y="128.3" width="2.86" height="2.9" fill="#111"/><line x1="396.04" y1="111.9" x2="396.04" y2="118.6" stroke="#111" stroke-width="1"/><line x1="396.04" y1="121.5" x2="396.04" y2="122.5" stroke="#111" stroke-width="1"/><rect x="395.11" y="119.1" width="1.86" height="1.9" fill="none" stroke="#111" stroke-width="1"/><line x1="398.93" y1="120.6" x2="398.93" y2="121.5" stroke="#f2401d" stroke-width="1"/><line x1="398.93" y1="125.4" x2="398.93" y2="128.3" stroke="#f2401d" stroke-width="1"/><rect x="397.50" y="121.5" width="2.86" height="3.9" fill="#f2401d"/><line x1="401.81" y1="103.2" x2="401.81" y2="105.1" stroke="#111" stroke-width="1"/><line x1="401.81" y1="118.6" x2="401.81" y2="119.6" stroke="#111" stroke-width="1"/><rect x="400.88" y="105.6" width="1.86" height="12.5" fill="none" stroke="#111" stroke-width="1"/><line x1="404.7" y1="97.8" x2="404.7" y2="102.2" stroke="#f2401d" stroke-width="1"/><line x1="404.7" y1="108.9" x2="404.7" y2="110.4" stroke="#f2401d" stroke-width="1"/><rect x="403.27" y="102.2" width="2.86" height="6.7" fill="#f2401d"/><line x1="407.58" y1="103.1" x2="407.58" y2="104.1" stroke="#111" stroke-width="1"/><line x1="407.58" y1="109.9" x2="407.58" y2="110.4" stroke="#111" stroke-width="1"/><rect x="406.65" y="104.6" width="1.86" height="4.8" fill="none" stroke="#111" stroke-width="1"/><line x1="410.47" y1="95.4" x2="410.47" y2="96.4" stroke="#111" stroke-width="1"/><line x1="410.47" y1="101.2" x2="410.47" y2="102.2" stroke="#111" stroke-width="1"/><rect x="409.54" y="96.9" width="1.86" height="3.8" fill="none" stroke="#111" stroke-width="1"/><line x1="413.35" y1="89.1" x2="413.35" y2="92.5" stroke="#111" stroke-width="1"/><line x1="413.35" y1="94.4" x2="413.35" y2="95.4" stroke="#111" stroke-width="1"/><rect x="411.92" y="92.5" width="2.86" height="1.9" fill="#111"/><line x1="416.24" y1="87.2" x2="416.24" y2="88.2" stroke="#111" stroke-width="1"/><line x1="416.24" y1="105.6" x2="416.24" y2="108.0" stroke="#111" stroke-width="1"/><rect x="415.31" y="88.7" width="1.86" height="16.4" fill="none" stroke="#111" stroke-width="1"/><line x1="419.12" y1="89.1" x2="419.12" y2="90.6" stroke="#f2401d" stroke-width="1"/><line x1="419.12" y1="94.4" x2="419.12" y2="95.4" stroke="#f2401d" stroke-width="1"/><rect x="417.69" y="90.6" width="2.86" height="3.8" fill="#f2401d"/><line x1="422.01" y1="94.0" x2="422.01" y2="96.4" stroke="#f2401d" stroke-width="1"/><line x1="422.01" y1="108.9" x2="422.01" y2="109.4" stroke="#f2401d" stroke-width="1"/><rect x="420.58" y="96.4" width="2.86" height="12.5" fill="#f2401d"/><line x1="424.89" y1="116.7" x2="424.89" y2="117.6" stroke="#f2401d" stroke-width="1"/><line x1="424.89" y1="121.5" x2="424.89" y2="125.4" stroke="#f2401d" stroke-width="1"/><rect x="423.96" y="118.1" width="1.86" height="2.9" fill="none" stroke="#f2401d" stroke-width="1"/><line x1="427.78" y1="106.0" x2="427.78" y2="107.0" stroke="#111" stroke-width="1"/><line x1="427.78" y1="116.7" x2="427.78" y2="120.5" stroke="#111" stroke-width="1"/><rect x="426.85" y="107.5" width="1.86" height="8.7" fill="none" stroke="#111" stroke-width="1"/><line x1="430.66" y1="93.5" x2="430.66" y2="95.4" stroke="#111" stroke-width="1"/><line x1="430.66" y1="102.2" x2="430.66" y2="108.0" stroke="#111" stroke-width="1"/><rect x="429.73" y="95.9" width="1.86" height="5.8" fill="none" stroke="#111" stroke-width="1"/><line x1="433.55" y1="92.5" x2="433.55" y2="95.4" stroke="#111" stroke-width="1"/><line x1="433.55" y1="104.1" x2="433.55" y2="106.0" stroke="#111" stroke-width="1"/><rect x="432.62" y="95.9" width="1.86" height="7.7" fill="none" stroke="#111" stroke-width="1"/><line x1="436.44" y1="88.6" x2="436.44" y2="89.6" stroke="#111" stroke-width="1"/><line x1="436.44" y1="103.1" x2="436.44" y2="104.1" stroke="#111" stroke-width="1"/><rect x="435.50" y="90.1" width="1.86" height="12.5" fill="none" stroke="#111" stroke-width="1"/><line x1="439.32" y1="83.8" x2="439.32" y2="84.8" stroke="#111" stroke-width="1"/><line x1="439.32" y1="86.7" x2="439.32" y2="90.6" stroke="#111" stroke-width="1"/><rect x="438.39" y="85.3" width="1.86" height="0.9" fill="none" stroke="#111" stroke-width="1"/><line x1="442.2" y1="80.0" x2="442.2" y2="83.8" stroke="#111" stroke-width="1"/><line x1="442.2" y1="85.7" x2="442.2" y2="86.7" stroke="#111" stroke-width="1"/><rect x="440.77" y="83.8" width="2.86" height="1.9" fill="#111"/><line x1="445.09" y1="82.4" x2="445.09" y2="82.9" stroke="#f2401d" stroke-width="1"/><line x1="445.09" y1="89.6" x2="445.09" y2="90.1" stroke="#f2401d" stroke-width="1"/><rect x="444.16" y="83.4" width="1.86" height="5.7" fill="none" stroke="#f2401d" stroke-width="1"/><line x1="447.97" y1="77.0" x2="447.97" y2="78.0" stroke="#111" stroke-width="1"/><line x1="447.97" y1="87.7" x2="447.97" y2="90.6" stroke="#111" stroke-width="1"/><rect x="447.04" y="78.5" width="1.86" height="8.7" fill="none" stroke="#111" stroke-width="1"/><line x1="450.86" y1="69.3" x2="450.86" y2="77.0" stroke="#111" stroke-width="1"/><line x1="450.86" y1="85.7" x2="450.86" y2="86.7" stroke="#111" stroke-width="1"/><rect x="449.93" y="77.5" width="1.86" height="7.7" fill="none" stroke="#111" stroke-width="1"/><line x1="453.75" y1="71.2" x2="453.75" y2="72.2" stroke="#111" stroke-width="1"/><line x1="453.75" y1="74.2" x2="453.75" y2="75.2" stroke="#111" stroke-width="1"/><rect x="452.31" y="72.2" width="2.86" height="2.0" fill="#111"/><line x1="456.63" y1="68.8" x2="456.63" y2="69.3" stroke="#f2401d" stroke-width="1"/><line x1="456.63" y1="81.9" x2="456.63" y2="82.4" stroke="#f2401d" stroke-width="1"/><rect x="455.70" y="69.8" width="1.86" height="11.6" fill="none" stroke="#f2401d" stroke-width="1"/><line x1="459.51" y1="75.1" x2="459.51" y2="76.1" stroke="#f2401d" stroke-width="1"/><line x1="459.51" y1="80.9" x2="459.51" y2="82.7" stroke="#f2401d" stroke-width="1"/><rect x="458.58" y="76.6" width="1.86" height="3.8" fill="none" stroke="#f2401d" stroke-width="1"/><line x1="462.4" y1="60.6" x2="462.4" y2="66.4" stroke="#111" stroke-width="1"/><line x1="462.4" y1="81.9" x2="462.4" y2="82.4" stroke="#111" stroke-width="1"/><rect x="461.47" y="66.9" width="1.86" height="14.5" fill="none" stroke="#111" stroke-width="1"/><line x1="465.28" y1="64.0" x2="465.28" y2="64.5" stroke="#f2401d" stroke-width="1"/><line x1="465.28" y1="73.2" x2="465.28" y2="74.2" stroke="#f2401d" stroke-width="1"/><rect x="464.35" y="65.0" width="1.86" height="7.7" fill="none" stroke="#f2401d" stroke-width="1"/><line x1="468.17" y1="64.5" x2="468.17" y2="65.5" stroke="#f2401d" stroke-width="1"/><line x1="468.17" y1="81.9" x2="468.17" y2="82.9" stroke="#f2401d" stroke-width="1"/><rect x="466.74" y="65.5" width="2.86" height="16.4" fill="#f2401d"/><line x1="471.05" y1="79.0" x2="471.05" y2="80.0" stroke="#111" stroke-width="1"/><line x1="471.05" y1="87.7" x2="471.05" y2="88.2" stroke="#111" stroke-width="1"/><rect x="470.12" y="80.5" width="1.86" height="6.7" fill="none" stroke="#111" stroke-width="1"/><line x1="473.94" y1="67.9" x2="473.94" y2="68.4" stroke="#111" stroke-width="1"/><line x1="473.94" y1="79.0" x2="473.94" y2="79.5" stroke="#111" stroke-width="1"/><rect x="473.01" y="68.9" width="1.86" height="9.6" fill="none" stroke="#111" stroke-width="1"/><line x1="476.82" y1="64.5" x2="476.82" y2="70.3" stroke="#f2401d" stroke-width="1"/><line x1="476.82" y1="74.2" x2="476.82" y2="76.1" stroke="#f2401d" stroke-width="1"/><rect x="475.39" y="70.3" width="2.86" height="3.9" fill="#f2401d"/><line x1="479.71" y1="71.7" x2="479.71" y2="72.2" stroke="#111" stroke-width="1"/><line x1="479.71" y1="80.9" x2="479.71" y2="81.4" stroke="#111" stroke-width="1"/><rect x="478.78" y="72.7" width="1.86" height="7.7" fill="none" stroke="#111" stroke-width="1"/><line x1="482.59" y1="76.0" x2="482.59" y2="77.0" stroke="#f2401d" stroke-width="1"/><line x1="482.59" y1="80.9" x2="482.59" y2="81.9" stroke="#f2401d" stroke-width="1"/><rect x="481.66" y="77.5" width="1.86" height="2.9" fill="none" stroke="#f2401d" stroke-width="1"/><line x1="485.48" y1="79.9" x2="485.48" y2="80.9" stroke="#111" stroke-width="1"/><line x1="485.48" y1="86.7" x2="485.48" y2="87.2" stroke="#111" stroke-width="1"/><rect x="484.55" y="81.4" width="1.86" height="4.8" fill="none" stroke="#111" stroke-width="1"/><line x1="488.36" y1="87.7" x2="488.36" y2="88.2" stroke="#f2401d" stroke-width="1"/><line x1="488.36" y1="99.3" x2="488.36" y2="102.2" stroke="#f2401d" stroke-width="1"/><rect x="486.93" y="88.2" width="2.86" height="11.1" fill="#f2401d"/><line x1="491.25" y1="96.4" x2="491.25" y2="97.3" stroke="#f2401d" stroke-width="1"/><line x1="491.25" y1="102.2" x2="491.25" y2="104.1" stroke="#f2401d" stroke-width="1"/><rect x="489.82" y="97.3" width="2.86" height="4.9" fill="#f2401d"/><line x1="494.13" y1="92.5" x2="494.13" y2="96.4" stroke="#111" stroke-width="1"/><line x1="494.13" y1="99.3" x2="494.13" y2="106.0" stroke="#111" stroke-width="1"/><rect x="492.70" y="96.4" width="2.86" height="2.9" fill="#111"/><line x1="497.02" y1="94.4" x2="497.02" y2="97.3" stroke="#111" stroke-width="1"/><line x1="497.02" y1="108.0" x2="497.02" y2="108.5" stroke="#111" stroke-width="1"/><rect x="496.09" y="97.8" width="1.86" height="9.7" fill="none" stroke="#111" stroke-width="1"/><line x1="499.9" y1="89.6" x2="499.9" y2="90.1" stroke="#f2401d" stroke-width="1"/><line x1="499.9" y1="99.3" x2="499.9" y2="99.8" stroke="#f2401d" stroke-width="1"/><rect x="498.47" y="90.1" width="2.86" height="9.2" fill="#f2401d"/><line x1="502.79" y1="93.5" x2="502.79" y2="96.4" stroke="#111" stroke-width="1"/><line x1="502.79" y1="98.3" x2="502.79" y2="99.3" stroke="#111" stroke-width="1"/><rect x="501.36" y="96.4" width="2.86" height="1.9" fill="#111"/><line x1="505.67" y1="96.4" x2="505.67" y2="99.8" stroke="#f2401d" stroke-width="1"/><line x1="505.67" y1="100.7" x2="505.67" y2="103.1" stroke="#f2401d" stroke-width="1"/><rect x="504.24" y="99.8" width="2.86" height="1.0" fill="#f2401d"/><line x1="508.56" y1="103.5" x2="508.56" y2="104.4" stroke="#f2401d" stroke-width="1"/><line x1="508.56" y1="105.8" x2="508.56" y2="114.8" stroke="#f2401d" stroke-width="1"/><rect x="507.63" y="104.9" width="1.86" height="0.6" fill="none" stroke="#f2401d" stroke-width="1"/><line x1="511.44" y1="90.5" x2="511.44" y2="91.5" stroke="#111" stroke-width="1"/><line x1="511.44" y1="99.3" x2="511.44" y2="100.3" stroke="#111" stroke-width="1"/><rect x="510.51" y="92.0" width="1.86" height="6.8" fill="none" stroke="#111" stroke-width="1"/><line x1="514.33" y1="84.8" x2="514.33" y2="86.0" stroke="#111" stroke-width="1"/><line x1="514.33" y1="96.0" x2="514.33" y2="97.0" stroke="#111" stroke-width="1"/><rect x="513.40" y="86.5" width="1.86" height="9.0" fill="none" stroke="#111" stroke-width="1"/><line x1="517.21" y1="92.5" x2="517.21" y2="93.0" stroke="#f2401d" stroke-width="1"/><line x1="517.21" y1="112.5" x2="517.21" y2="113.0" stroke="#f2401d" stroke-width="1"/><rect x="515.78" y="93.0" width="2.86" height="19.5" fill="#f2401d"/><line x1="520.1" y1="109.5" x2="520.1" y2="112.5" stroke="#f2401d" stroke-width="1"/><line x1="520.1" y1="115.9" x2="520.1" y2="116.3" stroke="#f2401d" stroke-width="1"/><rect x="518.67" y="112.5" width="2.86" height="3.4" fill="#f2401d"/><line x1="522.98" y1="118.8" x2="522.98" y2="119.3" stroke="#f2401d" stroke-width="1"/><line x1="522.98" y1="150.4" x2="522.98" y2="154.0" stroke="#f2401d" stroke-width="1"/><rect x="521.55" y="119.3" width="2.86" height="31.1" fill="#f2401d"/><line x1="525.87" y1="156.0" x2="525.87" y2="159.2" stroke="#f2401d" stroke-width="1"/><line x1="525.87" y1="164.8" x2="525.87" y2="174.4" stroke="#f2401d" stroke-width="1"/><rect x="524.44" y="159.2" width="2.86" height="5.6" fill="#f2401d"/><line x1="528.75" y1="180.0" x2="528.75" y2="193.2" stroke="#f2401d" stroke-width="1"/><line x1="528.75" y1="196.8" x2="528.75" y2="202.8" stroke="#f2401d" stroke-width="1"/><rect x="527.32" y="193.2" width="2.86" height="3.6" fill="#f2401d"/><line x1="531.64" y1="166.4" x2="531.64" y2="167.2" stroke="#111" stroke-width="1"/><line x1="531.64" y1="180.8" x2="531.64" y2="190.4" stroke="#111" stroke-width="1"/><rect x="530.21" y="167.2" width="2.86" height="13.6" fill="#111"/><line x1="534.52" y1="199.2" x2="534.52" y2="200.8" stroke="#f2401d" stroke-width="1"/><line x1="534.52" y1="203.2" x2="534.52" y2="212.8" stroke="#f2401d" stroke-width="1"/><rect x="533.59" y="201.3" width="1.86" height="1.4" fill="none" stroke="#f2401d" stroke-width="1"/><line x1="537.41" y1="179.2" x2="537.41" y2="187.2" stroke="#111" stroke-width="1"/><line x1="537.41" y1="207.2" x2="537.41" y2="213.6" stroke="#111" stroke-width="1"/><rect x="536.48" y="187.7" width="1.86" height="19.0" fill="none" stroke="#111" stroke-width="1"/><line x1="540.29" y1="193.9" x2="540.29" y2="194.4" stroke="#f2401d" stroke-width="1"/><line x1="540.29" y1="212.5" x2="540.29" y2="215.0" stroke="#f2401d" stroke-width="1"/><rect x="538.87" y="194.4" width="2.86" height="18.1" fill="#f2401d"/><path d="M0.0,205.0 C0.1,205.4 0.2,206.8 0.8,207.5 C1.4,208.2 2.7,209.1 3.7,209.2 C4.6,209.2 5.6,208.3 6.6,207.9 C7.5,207.6 8.5,208.4 9.5,207.1 C10.4,205.7 11.4,201.7 12.3,199.7 C13.3,197.6 14.3,196.1 15.2,194.8 C16.2,193.6 17.1,193.1 18.1,192.3 C19.1,191.5 20.0,190.8 21.0,190.2 C22.0,189.6 22.9,188.4 23.9,188.5 C24.8,188.6 25.8,190.0 26.8,190.8 C27.7,191.6 28.7,192.8 29.6,193.3 C30.6,193.8 31.6,194.1 32.5,193.9 C33.5,193.6 34.5,192.6 35.4,191.8 C36.4,191.1 37.3,189.7 38.3,189.3 C39.3,188.9 40.2,189.6 41.2,189.7 C42.2,189.8 43.1,189.7 44.1,190.1 C45.0,190.5 46.0,190.6 47.0,192.1 C47.9,193.6 48.9,197.3 49.8,199.0 C50.8,200.7 51.8,201.5 52.7,202.1 C53.7,202.7 54.7,203.4 55.6,202.7 C56.6,202.0 57.5,199.8 58.5,198.0 C59.5,196.1 60.4,194.5 61.4,191.6 C62.3,188.8 63.3,183.8 64.3,181.1 C65.2,178.3 66.2,177.0 67.2,175.2 C68.1,173.4 69.1,170.8 70.0,170.1 C71.0,169.4 72.0,171.0 72.9,170.9 C73.9,170.8 74.8,170.0 75.8,169.5 C76.8,169.0 77.7,169.1 78.7,168.0 C79.7,166.8 80.6,164.1 81.6,162.7 C82.5,161.4 83.5,160.8 84.5,159.8 C85.4,158.9 86.4,157.9 87.3,156.9 C88.3,156.0 89.3,154.7 90.2,154.0 C91.2,153.4 92.2,153.2 93.1,153.1 C94.1,152.9 95.0,153.4 96.0,153.1 C97.0,152.8 97.9,152.3 98.9,151.3 C99.9,150.4 100.8,148.8 101.8,147.2 C102.7,145.7 103.7,144.3 104.7,142.2 C105.6,140.1 106.6,137.3 107.5,134.6 C108.5,131.8 109.5,128.7 110.4,125.7 C111.4,122.7 112.4,119.5 113.3,116.4 C114.3,113.3 115.2,109.5 116.2,107.1 C117.2,104.8 118.1,103.4 119.1,102.1 C120.0,100.7 121.0,99.2 122.0,99.2 C122.9,99.2 123.9,100.4 124.9,102.0 C125.8,103.6 126.8,106.3 127.7,108.8 C128.7,111.3 129.7,114.7 130.6,117.2 C131.6,119.7 132.5,122.2 133.5,124.1 C134.5,125.9 135.4,126.4 136.4,128.1 C137.4,129.8 138.3,132.6 139.3,134.1 C140.2,135.6 141.2,135.8 142.2,137.0 C143.1,138.2 144.1,139.4 145.1,141.1 C146.0,142.7 147.0,144.7 147.9,147.0 C148.9,149.3 149.9,152.9 150.8,154.9 C151.8,156.9 152.7,157.5 153.7,158.8 C154.7,160.1 155.6,162.3 156.6,162.7 C157.6,163.1 158.5,162.6 159.5,161.5 C160.4,160.5 161.4,158.3 162.4,156.5 C163.3,154.7 164.3,153.0 165.2,150.6 C166.2,148.2 167.2,144.0 168.1,142.1 C169.1,140.2 170.1,139.8 171.0,139.4 C172.0,139.0 172.9,139.0 173.9,139.6 C174.9,140.1 175.8,141.1 176.8,142.7 C177.7,144.2 178.7,146.6 179.7,148.7 C180.6,150.9 181.6,154.0 182.6,155.7 C183.5,157.4 184.5,157.2 185.4,158.8 C186.4,160.4 187.4,162.6 188.3,165.2 C189.3,167.8 190.2,171.1 191.2,174.3 C192.2,177.5 193.1,180.5 194.1,184.4 C195.1,188.2 196.0,193.5 197.0,197.5 C197.9,201.5 198.9,205.8 199.9,208.5 C200.8,211.2 201.8,212.2 202.8,213.7 C203.7,215.2 204.7,216.4 205.6,217.6 C206.6,218.8 207.6,220.9 208.5,220.9 C209.5,220.9 210.4,219.7 211.4,217.6 C212.4,215.6 213.3,211.0 214.3,208.5 C215.3,206.1 216.2,204.8 217.2,203.1 C218.1,201.5 219.1,200.1 220.1,198.9 C221.0,197.7 222.0,196.1 222.9,196.0 C223.9,195.8 224.9,196.0 225.8,197.9 C226.8,199.8 227.8,204.3 228.7,207.4 C229.7,210.4 230.6,214.7 231.6,216.2 C232.6,217.8 233.5,216.4 234.5,216.4 C235.4,216.4 236.4,217.1 237.4,216.2 C238.3,215.4 239.3,213.7 240.3,211.4 C241.2,209.0 242.2,205.1 243.1,202.2 C244.1,199.3 245.1,194.9 246.0,193.7 C247.0,192.5 247.9,195.8 248.9,195.0 C249.9,194.3 250.8,190.8 251.8,189.1 C252.8,187.5 253.7,186.4 254.7,185.2 C255.6,183.9 256.6,183.0 257.6,181.6 C258.5,180.2 259.5,179.3 260.4,176.9 C261.4,174.5 262.4,170.3 263.3,167.1 C264.3,163.8 265.3,160.1 266.2,157.5 C267.2,154.8 268.1,153.0 269.1,151.0 C270.1,149.1 271.0,147.3 272.0,146.0 C273.0,144.7 273.9,143.5 274.9,143.0 C275.8,142.5 276.8,142.8 277.8,143.0 C278.7,143.2 279.7,144.4 280.6,144.4 C281.6,144.4 282.6,143.5 283.5,142.9 C284.5,142.4 285.5,141.5 286.4,141.0 C287.4,140.5 288.3,141.9 289.3,139.9 C290.3,138.0 291.2,132.6 292.2,129.1 C293.1,125.6 294.1,121.6 295.1,119.0 C296.0,116.4 297.0,115.3 298.0,113.5 C298.9,111.8 299.9,110.6 300.8,108.7 C301.8,106.7 302.8,102.6 303.7,101.9 C304.7,101.1 305.6,103.4 306.6,104.3 C307.6,105.1 308.5,106.8 309.5,107.2 C310.5,107.5 311.4,107.0 312.4,106.6 C313.3,106.2 314.3,105.7 315.3,104.8 C316.2,104.0 317.2,102.7 318.1,101.3 C319.1,99.8 320.1,97.1 321.0,96.2 C322.0,95.3 323.0,96.2 323.9,95.8 C324.9,95.5 325.8,94.9 326.8,94.3 C327.8,93.7 328.7,92.4 329.7,92.0 C330.7,91.5 331.6,91.4 332.6,91.5 C333.5,91.6 334.5,92.0 335.5,92.6 C336.4,93.2 337.4,93.8 338.3,95.1 C339.3,96.3 340.3,98.2 341.2,100.2 C342.2,102.2 343.2,104.6 344.1,107.0 C345.1,109.3 346.0,111.9 347.0,114.2 C348.0,116.6 348.9,119.8 349.9,120.9 C350.8,122.0 351.8,121.1 352.8,120.8 C353.7,120.5 354.7,119.2 355.7,119.2 C356.6,119.2 357.6,119.7 358.5,120.5 C359.5,121.3 360.5,122.6 361.4,123.8 C362.4,125.0 363.3,126.1 364.3,127.9 C365.3,129.6 366.2,132.0 367.2,134.3 C368.2,136.6 369.1,140.1 370.1,141.8 C371.0,143.5 372.0,144.0 373.0,144.5 C373.9,145.1 374.9,145.4 375.8,145.3 C376.8,145.2 377.8,144.4 378.7,143.9 C379.7,143.5 380.7,143.1 381.6,142.6 C382.6,142.1 383.5,141.5 384.5,141.1 C385.5,140.6 386.4,140.6 387.4,140.1 C388.4,139.6 389.3,138.6 390.3,138.0 C391.2,137.3 392.2,137.3 393.2,136.2 C394.1,135.2 395.1,133.1 396.0,131.8 C397.0,130.5 398.0,129.8 398.9,128.3 C399.9,126.8 400.9,124.6 401.8,122.9 C402.8,121.1 403.7,119.6 404.7,117.8 C405.7,116.1 406.6,114.1 407.6,112.4 C408.5,110.8 409.5,109.8 410.5,108.0 C411.4,106.2 412.4,103.4 413.4,101.8 C414.3,100.2 415.3,99.4 416.2,98.4 C417.2,97.4 418.2,95.8 419.1,95.5 C420.1,95.2 421.0,95.6 422.0,96.5 C423.0,97.3 423.9,99.6 424.9,100.7 C425.9,101.8 426.8,102.6 427.8,103.2 C428.7,103.9 429.7,104.4 430.7,104.7 C431.6,104.9 432.6,105.5 433.5,104.9 C434.5,104.2 435.5,102.7 436.4,101.0 C437.4,99.3 438.4,96.2 439.3,94.4 C440.3,92.6 441.2,91.3 442.2,90.2 C443.2,89.1 444.1,88.7 445.1,87.7 C446.1,86.7 447.0,85.2 448.0,84.2 C448.9,83.2 449.9,82.5 450.9,81.7 C451.8,80.9 452.8,80.5 453.7,79.6 C454.7,78.7 455.7,77.1 456.6,76.3 C457.6,75.5 458.6,75.5 459.5,74.9 C460.5,74.3 461.4,73.4 462.4,72.6 C463.4,71.8 464.3,70.3 465.3,70.1 C466.2,69.9 467.2,71.0 468.2,71.6 C469.1,72.3 470.1,73.7 471.1,73.8 C472.0,73.9 473.0,72.2 473.9,72.2 C474.9,72.2 475.9,73.3 476.8,73.8 C477.8,74.3 478.7,75.2 479.7,75.3 C480.7,75.4 481.6,74.5 482.6,74.4 C483.6,74.2 484.5,73.5 485.5,74.5 C486.4,75.6 487.4,78.8 488.4,80.7 C489.3,82.7 490.3,84.5 491.2,86.3 C492.2,88.2 493.2,90.2 494.1,91.7 C495.1,93.3 496.1,94.5 497.0,95.8 C498.0,97.1 498.9,98.9 499.9,99.5 C500.9,100.1 501.8,99.4 502.8,99.3 C503.8,99.2 504.7,98.9 505.7,99.0 C506.6,99.1 507.6,100.0 508.6,100.0 C509.5,100.0 510.5,99.5 511.4,98.8 C512.4,98.2 513.4,96.1 514.3,96.2 C515.3,96.2 516.3,98.0 517.2,99.0 C518.2,100.0 519.1,100.0 520.1,102.1 C521.1,104.1 522.0,107.3 523.0,111.3 C523.9,115.2 524.9,119.8 525.9,125.9 C526.8,132.1 527.8,142.1 528.8,148.1 C529.7,154.1 530.7,156.6 531.6,161.7 C532.6,166.8 533.6,174.7 534.5,178.7 C535.5,182.8 536.4,183.3 537.4,186.1 C538.4,188.9 539.8,194.0 540.3,195.6" fill="none" stroke="#1a1a1a" stroke-width="1.6" stroke-linejoin="round" stroke-linecap="round" /><rect x="-0.20" y="329.1" width="2.0" height="77.7" fill="#0fb257"/><rect x="2.68" y="368.3" width="2.0" height="38.5" fill="#0fb257"/><rect x="5.57" y="375.2" width="2.0" height="31.6" fill="#ef4a2b"/><rect x="8.46" y="361.0" width="2.0" height="45.8" fill="#ef4a2b"/><rect x="11.34" y="363.6" width="2.0" height="43.2" fill="#0fb257"/><rect x="14.22" y="375.8" width="2.0" height="31.0" fill="#ef4a2b"/><rect x="17.11" y="378.8" width="2.0" height="28.0" fill="#ef4a2b"/><rect x="20.00" y="364.2" width="2.0" height="42.6" fill="#ef4a2b"/><rect x="22.88" y="357.0" width="2.0" height="49.8" fill="#ef4a2b"/><rect x="25.76" y="356.0" width="2.0" height="50.8" fill="#0fb257"/><rect x="28.65" y="372.9" width="2.0" height="33.9" fill="#ef4a2b"/><rect x="31.53" y="375.2" width="2.0" height="31.6" fill="#ef4a2b"/><rect x="34.42" y="385.1" width="2.0" height="21.7" fill="#0fb257"/><rect x="37.30" y="388.0" width="2.0" height="18.8" fill="#ef4a2b"/><rect x="40.19" y="386.8" width="2.0" height="20.0" fill="#ef4a2b"/><rect x="43.07" y="381.7" width="2.0" height="25.1" fill="#ef4a2b"/><rect x="45.96" y="372.9" width="2.0" height="33.9" fill="#ef4a2b"/><rect x="48.84" y="368.7" width="2.0" height="38.1" fill="#ef4a2b"/><rect x="51.73" y="367.5" width="2.0" height="39.3" fill="#0fb257"/><rect x="54.61" y="381.3" width="2.0" height="25.5" fill="#ef4a2b"/><rect x="57.50" y="380.1" width="2.0" height="26.7" fill="#0fb257"/><rect x="60.38" y="381.3" width="2.0" height="25.5" fill="#0fb257"/><rect x="63.27" y="380.1" width="2.0" height="26.7" fill="#0fb257"/><rect x="66.15" y="390.0" width="2.0" height="16.8" fill="#ef4a2b"/><rect x="69.04" y="390.7" width="2.0" height="16.1" fill="#0fb257"/><rect x="71.92" y="389.7" width="2.0" height="17.1" fill="#ef4a2b"/><rect x="74.81" y="377.2" width="2.0" height="29.6" fill="#0fb257"/><rect x="77.69" y="379.9" width="2.0" height="26.9" fill="#0fb257"/><rect x="80.58" y="381.3" width="2.0" height="25.5" fill="#0fb257"/><rect x="83.46" y="383.9" width="2.0" height="22.9" fill="#ef4a2b"/><rect x="86.35" y="382.5" width="2.0" height="24.3" fill="#ef4a2b"/><rect x="89.23" y="389.1" width="2.0" height="17.7" fill="#0fb257"/><rect x="92.12" y="390.9" width="2.0" height="15.9" fill="#ef4a2b"/><rect x="95.00" y="384.3" width="2.0" height="22.5" fill="#0fb257"/><rect x="97.89" y="391.2" width="2.0" height="15.6" fill="#ef4a2b"/><rect x="100.77" y="389.4" width="2.0" height="17.4" fill="#0fb257"/><rect x="103.66" y="377.1" width="2.0" height="29.7" fill="#0fb257"/><rect x="106.54" y="376.1" width="2.0" height="30.7" fill="#0fb257"/><rect x="109.43" y="382.9" width="2.0" height="23.9" fill="#0fb257"/><rect x="112.31" y="390.1" width="2.0" height="16.7" fill="#ef4a2b"/><rect x="115.20" y="379.7" width="2.0" height="27.1" fill="#0fb257"/><rect x="118.08" y="385.1" width="2.0" height="21.7" fill="#ef4a2b"/><rect x="120.97" y="396.4" width="2.0" height="10.4" fill="#0fb257"/><rect x="123.85" y="384.8" width="2.0" height="22.0" fill="#ef4a2b"/><rect x="126.74" y="382.9" width="2.0" height="23.9" fill="#ef4a2b"/><rect x="129.62" y="391.6" width="2.0" height="15.2" fill="#ef4a2b"/><rect x="132.51" y="393.3" width="2.0" height="13.5" fill="#0fb257"/><rect x="135.40" y="389.4" width="2.0" height="17.4" fill="#0fb257"/><rect x="138.28" y="381.4" width="2.0" height="25.4" fill="#ef4a2b"/><rect x="141.16" y="383.9" width="2.0" height="22.9" fill="#ef4a2b"/><rect x="144.05" y="379.3" width="2.0" height="27.5" fill="#ef4a2b"/><rect x="146.94" y="380.7" width="2.0" height="26.1" fill="#ef4a2b"/><rect x="149.82" y="380.0" width="2.0" height="26.8" fill="#0fb257"/><rect x="152.71" y="378.6" width="2.0" height="28.2" fill="#ef4a2b"/><rect x="155.59" y="376.7" width="2.0" height="30.1" fill="#ef4a2b"/><rect x="158.47" y="383.9" width="2.0" height="22.9" fill="#0fb257"/><rect x="161.36" y="373.2" width="2.0" height="33.6" fill="#0fb257"/><rect x="164.25" y="379.7" width="2.0" height="27.1" fill="#0fb257"/><rect x="167.13" y="379.3" width="2.0" height="27.5" fill="#0fb257"/><rect x="170.01" y="367.0" width="2.0" height="39.8" fill="#ef4a2b"/><rect x="172.90" y="381.0" width="2.0" height="25.8" fill="#ef4a2b"/><rect x="175.78" y="375.2" width="2.0" height="31.6" fill="#0fb257"/><rect x="178.67" y="371.3" width="2.0" height="35.5" fill="#ef4a2b"/><rect x="181.56" y="382.9" width="2.0" height="23.9" fill="#0fb257"/><rect x="184.44" y="379.0" width="2.0" height="27.8" fill="#ef4a2b"/><rect x="187.32" y="373.8" width="2.0" height="33.0" fill="#ef4a2b"/><rect x="190.21" y="372.3" width="2.0" height="34.5" fill="#ef4a2b"/><rect x="193.09" y="369.1" width="2.0" height="37.7" fill="#ef4a2b"/><rect x="195.98" y="373.8" width="2.0" height="33.0" fill="#ef4a2b"/><rect x="198.87" y="367.0" width="2.0" height="39.8" fill="#ef4a2b"/><rect x="201.75" y="376.4" width="2.0" height="30.4" fill="#0fb257"/><rect x="204.63" y="379.3" width="2.0" height="27.5" fill="#ef4a2b"/><rect x="207.52" y="381.9" width="2.0" height="24.9" fill="#ef4a2b"/><rect x="210.41" y="376.1" width="2.0" height="30.7" fill="#0fb257"/><rect x="213.29" y="371.7" width="2.0" height="35.1" fill="#0fb257"/><rect x="216.17" y="379.3" width="2.0" height="27.5" fill="#ef4a2b"/><rect x="219.06" y="383.9" width="2.0" height="22.9" fill="#ef4a2b"/><rect x="221.94" y="383.2" width="2.0" height="23.6" fill="#ef4a2b"/><rect x="224.83" y="386.5" width="2.0" height="20.3" fill="#ef4a2b"/><rect x="227.72" y="373.5" width="2.0" height="33.3" fill="#ef4a2b"/><rect x="230.60" y="374.9" width="2.0" height="31.9" fill="#ef4a2b"/><rect x="233.48" y="352.0" width="2.0" height="54.8" fill="#0fb257"/><rect x="236.37" y="367.0" width="2.0" height="39.8" fill="#ef4a2b"/><rect x="239.25" y="376.1" width="2.0" height="30.7" fill="#0fb257"/><rect x="242.14" y="375.2" width="2.0" height="31.6" fill="#0fb257"/><rect x="245.03" y="383.9" width="2.0" height="22.9" fill="#ef4a2b"/><rect x="247.91" y="378.6" width="2.0" height="28.2" fill="#ef4a2b"/><rect x="250.79" y="371.0" width="2.0" height="35.8" fill="#0fb257"/><rect x="253.68" y="380.4" width="2.0" height="26.4" fill="#0fb257"/><rect x="256.56" y="384.8" width="2.0" height="22.0" fill="#0fb257"/><rect x="259.45" y="381.9" width="2.0" height="24.9" fill="#0fb257"/><rect x="262.33" y="379.7" width="2.0" height="27.1" fill="#0fb257"/><rect x="265.22" y="382.9" width="2.0" height="23.9" fill="#0fb257"/><rect x="268.11" y="380.4" width="2.0" height="26.4" fill="#ef4a2b"/><rect x="270.99" y="381.0" width="2.0" height="25.8" fill="#0fb257"/><rect x="273.88" y="368.4" width="2.0" height="38.4" fill="#ef4a2b"/><rect x="276.76" y="380.0" width="2.0" height="26.8" fill="#ef4a2b"/><rect x="279.64" y="379.3" width="2.0" height="27.5" fill="#0fb257"/><rect x="282.53" y="387.2" width="2.0" height="19.6" fill="#0fb257"/><rect x="285.41" y="383.9" width="2.0" height="22.9" fill="#0fb257"/><rect x="288.30" y="379.0" width="2.0" height="27.8" fill="#ef4a2b"/><rect x="291.19" y="361.9" width="2.0" height="44.9" fill="#0fb257"/><rect x="294.07" y="376.4" width="2.0" height="30.4" fill="#0fb257"/><rect x="296.95" y="381.9" width="2.0" height="24.9" fill="#ef4a2b"/><rect x="299.84" y="368.7" width="2.0" height="38.1" fill="#0fb257"/><rect x="302.72" y="385.1" width="2.0" height="21.7" fill="#ef4a2b"/><rect x="305.61" y="383.3" width="2.0" height="23.5" fill="#ef4a2b"/><rect x="308.50" y="380.7" width="2.0" height="26.1" fill="#0fb257"/><rect x="311.38" y="390.9" width="2.0" height="15.9" fill="#0fb257"/><rect x="314.26" y="387.2" width="2.0" height="19.6" fill="#0fb257"/><rect x="317.15" y="388.4" width="2.0" height="18.4" fill="#0fb257"/><rect x="320.03" y="399.6" width="2.0" height="7.2" fill="#0fb257"/><rect x="322.92" y="384.3" width="2.0" height="22.5" fill="#ef4a2b"/><rect x="325.81" y="386.1" width="2.0" height="20.7" fill="#0fb257"/><rect x="328.69" y="368.0" width="2.0" height="38.8" fill="#0fb257"/><rect x="331.57" y="368.4" width="2.0" height="38.4" fill="#ef4a2b"/><rect x="334.46" y="380.0" width="2.0" height="26.8" fill="#ef4a2b"/><rect x="337.34" y="371.7" width="2.0" height="35.1" fill="#ef4a2b"/><rect x="340.23" y="376.8" width="2.0" height="30.0" fill="#ef4a2b"/><rect x="343.12" y="381.7" width="2.0" height="25.1" fill="#ef4a2b"/><rect x="346.00" y="376.1" width="2.0" height="30.7" fill="#0fb257"/><rect x="348.88" y="379.7" width="2.0" height="27.1" fill="#ef4a2b"/><rect x="351.77" y="359.0" width="2.0" height="47.8" fill="#0fb257"/><rect x="354.65" y="370.1" width="2.0" height="36.7" fill="#0fb257"/><rect x="357.54" y="371.0" width="2.0" height="35.8" fill="#ef4a2b"/><rect x="360.43" y="360.1" width="2.0" height="46.7" fill="#ef4a2b"/><rect x="363.31" y="367.4" width="2.0" height="39.4" fill="#ef4a2b"/><rect x="366.19" y="382.2" width="2.0" height="24.6" fill="#ef4a2b"/><rect x="369.08" y="376.8" width="2.0" height="30.0" fill="#0fb257"/><rect x="371.96" y="386.1" width="2.0" height="20.7" fill="#0fb257"/><rect x="374.85" y="389.9" width="2.0" height="16.9" fill="#ef4a2b"/><rect x="377.73" y="395.9" width="2.0" height="10.9" fill="#0fb257"/><rect x="380.62" y="389.9" width="2.0" height="16.9" fill="#ef4a2b"/><rect x="383.50" y="391.2" width="2.0" height="15.6" fill="#ef4a2b"/><rect x="386.39" y="389.1" width="2.0" height="17.7" fill="#0fb257"/><rect x="389.27" y="390.9" width="2.0" height="15.9" fill="#ef4a2b"/><rect x="392.16" y="382.2" width="2.0" height="24.6" fill="#0fb257"/><rect x="395.04" y="377.4" width="2.0" height="29.4" fill="#0fb257"/><rect x="397.93" y="376.8" width="2.0" height="30.0" fill="#ef4a2b"/><rect x="400.81" y="379.7" width="2.0" height="27.1" fill="#0fb257"/><rect x="403.70" y="374.9" width="2.0" height="31.9" fill="#ef4a2b"/><rect x="406.58" y="384.1" width="2.0" height="22.7" fill="#0fb257"/><rect x="409.47" y="385.8" width="2.0" height="21.0" fill="#0fb257"/><rect x="412.35" y="369.1" width="2.0" height="37.7" fill="#0fb257"/><rect x="415.24" y="363.3" width="2.0" height="43.5" fill="#0fb257"/><rect x="418.12" y="363.8" width="2.0" height="43.0" fill="#ef4a2b"/><rect x="421.01" y="371.3" width="2.0" height="35.5" fill="#ef4a2b"/><rect x="423.89" y="366.5" width="2.0" height="40.3" fill="#ef4a2b"/><rect x="426.78" y="379.3" width="2.0" height="27.5" fill="#0fb257"/><rect x="429.66" y="377.1" width="2.0" height="29.7" fill="#0fb257"/><rect x="432.55" y="384.1" width="2.0" height="22.7" fill="#0fb257"/><rect x="435.44" y="381.4" width="2.0" height="25.4" fill="#0fb257"/><rect x="438.32" y="387.1" width="2.0" height="19.7" fill="#0fb257"/><rect x="441.20" y="386.4" width="2.0" height="20.4" fill="#2b54c8"/><rect x="444.09" y="385.9" width="2.0" height="20.9" fill="#ef4a2b"/><rect x="446.97" y="387.1" width="2.0" height="19.7" fill="#0fb257"/><rect x="449.86" y="372.9" width="2.0" height="33.9" fill="#2b54c8"/><rect x="452.75" y="379.1" width="2.0" height="27.7" fill="#0fb257"/><rect x="455.63" y="378.1" width="2.0" height="28.7" fill="#ef4a2b"/><rect x="458.51" y="385.7" width="2.0" height="21.1" fill="#ef4a2b"/><rect x="461.40" y="384.9" width="2.0" height="21.9" fill="#0fb257"/><rect x="464.28" y="384.2" width="2.0" height="22.6" fill="#ef4a2b"/><rect x="467.17" y="377.7" width="2.0" height="29.1" fill="#ef4a2b"/><rect x="470.05" y="388.3" width="2.0" height="18.5" fill="#0fb257"/><rect x="472.94" y="385.7" width="2.0" height="21.1" fill="#0fb257"/><rect x="475.82" y="384.9" width="2.0" height="21.9" fill="#ef4a2b"/><rect x="478.71" y="388.1" width="2.0" height="18.7" fill="#0fb257"/><rect x="481.59" y="384.2" width="2.0" height="22.6" fill="#ef4a2b"/><rect x="484.48" y="383.0" width="2.0" height="23.8" fill="#0fb257"/><rect x="487.36" y="383.0" width="2.0" height="23.8" fill="#ef4a2b"/><rect x="490.25" y="386.4" width="2.0" height="20.4" fill="#ef4a2b"/><rect x="493.13" y="378.8" width="2.0" height="28.0" fill="#0fb257"/><rect x="496.02" y="374.8" width="2.0" height="32.0" fill="#0fb257"/><rect x="498.90" y="386.1" width="2.0" height="20.7" fill="#ef4a2b"/><rect x="501.79" y="385.2" width="2.0" height="21.6" fill="#0fb257"/><rect x="504.67" y="385.2" width="2.0" height="21.6" fill="#ef4a2b"/><rect x="507.56" y="381.6" width="2.0" height="25.2" fill="#ef4a2b"/><rect x="510.44" y="385.2" width="2.0" height="21.6" fill="#0fb257"/><rect x="513.33" y="387.1" width="2.0" height="19.7" fill="#0fb257"/><rect x="516.21" y="371.2" width="2.0" height="35.6" fill="#ef4a2b"/><rect x="519.10" y="373.3" width="2.0" height="33.5" fill="#ef4a2b"/><rect x="521.98" y="336.1" width="2.0" height="70.7" fill="#ef4a2b"/><rect x="524.87" y="296.6" width="2.0" height="110.2" fill="#ef4a2b"/><rect x="527.75" y="296.9" width="2.0" height="109.9" fill="#ef4a2b"/><rect x="530.64" y="321.9" width="2.0" height="84.9" fill="#0fb257"/><rect x="533.52" y="319.2" width="2.0" height="87.6" fill="#ef4a2b"/><rect x="536.41" y="318.1" width="2.0" height="88.7" fill="#0fb257"/><rect x="539.29" y="316.4" width="2.0" height="90.4" fill="#ef4a2b"/><rect x="-0.20" y="480.4" width="2.0" height="16.4" fill="#7d1212"/><rect x="2.68" y="480.4" width="2.0" height="11.9" fill="#7d1212"/><rect x="5.57" y="480.4" width="2.0" height="8.6" fill="#7d1212"/><rect x="8.46" y="480.4" width="2.0" height="5.1" fill="#7d1212"/><rect x="11.34" y="480.4" width="2.0" height="0.4" fill="#7d1212"/><rect x="14.22" y="477.6" width="2.0" height="2.8" fill="#1fb5bd"/><rect x="17.11" y="476.2" width="2.0" height="4.2" fill="#1fb5bd"/><rect x="20.00" y="475.8" width="2.0" height="4.6" fill="#1fb5bd"/><rect x="22.88" y="476.6" width="2.0" height="3.8" fill="#1fb5bd"/><rect x="25.76" y="475.4" width="2.0" height="5.0" fill="#1fb5bd"/><rect x="28.65" y="475.7" width="2.0" height="4.7" fill="#1fb5bd"/><rect x="31.53" y="475.7" width="2.0" height="4.7" fill="#1fb5bd"/><rect x="34.42" y="474.9" width="2.0" height="5.5" fill="#1fb5bd"/><rect x="37.30" y="474.2" width="2.0" height="6.2" fill="#1fb5bd"/><rect x="40.19" y="474.8" width="2.0" height="5.6" fill="#1fb5bd"/><rect x="43.07" y="475.9" width="2.0" height="4.5" fill="#1fb5bd"/><rect x="45.96" y="478.3" width="2.0" height="2.1" fill="#1fb5bd"/><rect x="48.84" y="480.4" width="2.0" height="0.7" fill="#7d1212"/><rect x="51.73" y="480.4" width="2.0" height="0.6" fill="#7d1212"/><rect x="54.61" y="479.5" width="2.0" height="0.9" fill="#1fb5bd"/><rect x="57.50" y="475.6" width="2.0" height="4.8" fill="#1fb5bd"/><rect x="60.38" y="472.4" width="2.0" height="8.0" fill="#1fb5bd"/><rect x="63.27" y="470.8" width="2.0" height="9.6" fill="#1fb5bd"/><rect x="66.15" y="471.1" width="2.0" height="9.3" fill="#1fb5bd"/><rect x="69.04" y="472.0" width="2.0" height="8.4" fill="#1fb5bd"/><rect x="71.92" y="473.8" width="2.0" height="6.6" fill="#1fb5bd"/><rect x="74.81" y="474.3" width="2.0" height="6.1" fill="#1fb5bd"/><rect x="77.69" y="473.5" width="2.0" height="6.9" fill="#1fb5bd"/><rect x="80.58" y="472.6" width="2.0" height="7.8" fill="#1fb5bd"/><rect x="83.46" y="472.6" width="2.0" height="7.8" fill="#1fb5bd"/><rect x="86.35" y="474.4" width="2.0" height="6.0" fill="#1fb5bd"/><rect x="89.23" y="475.2" width="2.0" height="5.2" fill="#1fb5bd"/><rect x="92.12" y="475.6" width="2.0" height="4.8" fill="#1fb5bd"/><rect x="95.00" y="476.2" width="2.0" height="4.2" fill="#1fb5bd"/><rect x="97.89" y="476.7" width="2.0" height="3.7" fill="#1fb5bd"/><rect x="100.77" y="476.9" width="2.0" height="3.5" fill="#1fb5bd"/><rect x="103.66" y="475.9" width="2.0" height="4.5" fill="#1fb5bd"/><rect x="106.54" y="474.4" width="2.0" height="6.0" fill="#1fb5bd"/><rect x="109.43" y="472.6" width="2.0" height="7.8" fill="#1fb5bd"/><rect x="112.31" y="471.9" width="2.0" height="8.5" fill="#1fb5bd"/><rect x="115.20" y="472.2" width="2.0" height="8.2" fill="#1fb5bd"/><rect x="118.08" y="472.9" width="2.0" height="7.5" fill="#1fb5bd"/><rect x="120.97" y="474.7" width="2.0" height="5.7" fill="#1fb5bd"/><rect x="123.85" y="479.5" width="2.0" height="0.9" fill="#1fb5bd"/><rect x="126.74" y="480.4" width="2.0" height="3.9" fill="#7d1212"/><rect x="129.62" y="480.4" width="2.0" height="7.9" fill="#7d1212"/><rect x="132.51" y="480.4" width="2.0" height="9.3" fill="#7d1212"/><rect x="135.40" y="480.4" width="2.0" height="9.1" fill="#7d1212"/><rect x="138.28" y="480.4" width="2.0" height="8.1" fill="#7d1212"/><rect x="141.16" y="480.4" width="2.0" height="8.9" fill="#7d1212"/><rect x="144.05" y="480.4" width="2.0" height="8.4" fill="#7d1212"/><rect x="146.94" y="480.4" width="2.0" height="7.9" fill="#7d1212"/><rect x="149.82" y="480.4" width="2.0" height="7.8" fill="#7d1212"/><rect x="152.71" y="480.4" width="2.0" height="7.7" fill="#7d1212"/><rect x="155.59" y="480.4" width="2.0" height="9.4" fill="#7d1212"/><rect x="158.47" y="480.4" width="2.0" height="6.4" fill="#7d1212"/><rect x="161.36" y="480.4" width="2.0" height="3.2" fill="#7d1212"/><rect x="164.25" y="480.4" width="2.0" height="0.4" fill="#7d1212"/><rect x="167.13" y="476.9" width="2.0" height="3.5" fill="#1fb5bd"/><rect x="170.01" y="477.6" width="2.0" height="2.8" fill="#1fb5bd"/><rect x="172.90" y="479.4" width="2.0" height="1.0" fill="#1fb5bd"/><rect x="175.78" y="480.1" width="2.0" height="0.4" fill="#1fb5bd"/><rect x="178.67" y="480.4" width="2.0" height="0.4" fill="#7d1212"/><rect x="181.56" y="480.4" width="2.0" height="0.9" fill="#7d1212"/><rect x="184.44" y="480.4" width="2.0" height="2.0" fill="#7d1212"/><rect x="187.32" y="480.4" width="2.0" height="4.0" fill="#7d1212"/><rect x="190.21" y="480.4" width="2.0" height="6.5" fill="#7d1212"/><rect x="193.09" y="480.4" width="2.0" height="9.1" fill="#7d1212"/><rect x="195.98" y="480.4" width="2.0" height="11.6" fill="#7d1212"/><rect x="198.87" y="480.4" width="2.0" height="13.0" fill="#7d1212"/><rect x="201.75" y="480.4" width="2.0" height="10.7" fill="#7d1212"/><rect x="204.63" y="480.4" width="2.0" height="8.6" fill="#7d1212"/><rect x="207.52" y="480.4" width="2.0" height="7.4" fill="#7d1212"/><rect x="210.41" y="480.4" width="2.0" height="1.5" fill="#7d1212"/><rect x="213.29" y="475.1" width="2.0" height="5.3" fill="#1fb5bd"/><rect x="216.17" y="472.1" width="2.0" height="8.3" fill="#1fb5bd"/><rect x="219.06" y="471.7" width="2.0" height="8.7" fill="#1fb5bd"/><rect x="221.94" y="473.9" width="2.0" height="6.5" fill="#1fb5bd"/><rect x="224.83" y="476.9" width="2.0" height="3.5" fill="#1fb5bd"/><rect x="227.72" y="479.6" width="2.0" height="0.8" fill="#1fb5bd"/><rect x="230.60" y="480.4" width="2.0" height="1.6" fill="#7d1212"/><rect x="233.48" y="479.5" width="2.0" height="0.9" fill="#1fb5bd"/><rect x="236.37" y="477.7" width="2.0" height="2.7" fill="#1fb5bd"/><rect x="239.25" y="476.0" width="2.0" height="4.4" fill="#1fb5bd"/><rect x="242.14" y="473.7" width="2.0" height="6.7" fill="#1fb5bd"/><rect x="245.03" y="471.8" width="2.0" height="8.6" fill="#1fb5bd"/><rect x="247.91" y="473.7" width="2.0" height="6.7" fill="#1fb5bd"/><rect x="250.79" y="473.6" width="2.0" height="6.8" fill="#1fb5bd"/><rect x="253.68" y="472.6" width="2.0" height="7.8" fill="#1fb5bd"/><rect x="256.56" y="471.5" width="2.0" height="8.9" fill="#1fb5bd"/><rect x="259.45" y="470.6" width="2.0" height="9.8" fill="#1fb5bd"/><rect x="262.33" y="469.9" width="2.0" height="10.5" fill="#1fb5bd"/><rect x="265.22" y="468.6" width="2.0" height="11.8" fill="#1fb5bd"/><rect x="268.11" y="467.5" width="2.0" height="12.9" fill="#1fb5bd"/><rect x="270.99" y="468.3" width="2.0" height="12.1" fill="#1fb5bd"/><rect x="273.88" y="472.6" width="2.0" height="7.8" fill="#1fb5bd"/><rect x="276.76" y="475.6" width="2.0" height="4.8" fill="#1fb5bd"/><rect x="279.64" y="476.2" width="2.0" height="4.2" fill="#1fb5bd"/><rect x="282.53" y="476.6" width="2.0" height="3.8" fill="#1fb5bd"/><rect x="285.41" y="477.1" width="2.0" height="3.3" fill="#1fb5bd"/><rect x="288.30" y="479.5" width="2.0" height="0.9" fill="#1fb5bd"/><rect x="291.19" y="478.1" width="2.0" height="2.3" fill="#1fb5bd"/><rect x="294.07" y="474.3" width="2.0" height="6.1" fill="#1fb5bd"/><rect x="296.95" y="474.5" width="2.0" height="5.9" fill="#1fb5bd"/><rect x="299.84" y="475.4" width="2.0" height="5.0" fill="#1fb5bd"/><rect x="302.72" y="476.7" width="2.0" height="3.7" fill="#1fb5bd"/><rect x="305.61" y="479.2" width="2.0" height="1.2" fill="#1fb5bd"/><rect x="308.50" y="480.4" width="2.0" height="0.4" fill="#7d1212"/><rect x="311.38" y="480.4" width="2.0" height="1.1" fill="#7d1212"/><rect x="314.26" y="480.4" width="2.0" height="0.4" fill="#7d1212"/><rect x="317.15" y="480.4" width="2.0" height="0.4" fill="#7d1212"/><rect x="320.03" y="480.3" width="2.0" height="0.4" fill="#1fb5bd"/><rect x="322.92" y="480.4" width="2.0" height="1.8" fill="#7d1212"/><rect x="325.81" y="480.4" width="2.0" height="3.5" fill="#7d1212"/><rect x="328.69" y="480.4" width="2.0" height="3.6" fill="#7d1212"/><rect x="331.57" y="480.4" width="2.0" height="2.6" fill="#7d1212"/><rect x="334.46" y="480.4" width="2.0" height="4.0" fill="#7d1212"/><rect x="337.34" y="480.4" width="2.0" height="5.6" fill="#7d1212"/><rect x="340.23" y="480.4" width="2.0" height="8.0" fill="#7d1212"/><rect x="343.12" y="480.4" width="2.0" height="9.1" fill="#7d1212"/><rect x="346.00" y="480.4" width="2.0" height="8.9" fill="#7d1212"/><rect x="348.88" y="480.4" width="2.0" height="9.5" fill="#7d1212"/><rect x="351.77" y="480.4" width="2.0" height="8.4" fill="#7d1212"/><rect x="354.65" y="480.4" width="2.0" height="6.7" fill="#7d1212"/><rect x="357.54" y="480.4" width="2.0" height="5.3" fill="#7d1212"/><rect x="360.43" y="480.4" width="2.0" height="5.4" fill="#7d1212"/><rect x="363.31" y="480.4" width="2.0" height="6.8" fill="#7d1212"/><rect x="366.19" y="480.4" width="2.0" height="8.3" fill="#7d1212"/><rect x="369.08" y="480.4" width="2.0" height="8.7" fill="#7d1212"/><rect x="371.96" y="480.4" width="2.0" height="7.7" fill="#7d1212"/><rect x="374.85" y="480.4" width="2.0" height="5.0" fill="#7d1212"/><rect x="377.73" y="480.4" width="2.0" height="3.6" fill="#7d1212"/><rect x="380.62" y="480.4" width="2.0" height="2.2" fill="#7d1212"/><rect x="383.50" y="480.4" width="2.0" height="1.5" fill="#7d1212"/><rect x="386.39" y="480.4" width="2.0" height="0.4" fill="#7d1212"/><rect x="389.27" y="479.2" width="2.0" height="1.2" fill="#1fb5bd"/><rect x="392.16" y="479.0" width="2.0" height="1.4" fill="#1fb5bd"/><rect x="395.04" y="478.3" width="2.0" height="2.1" fill="#1fb5bd"/><rect x="397.93" y="477.6" width="2.0" height="2.8" fill="#1fb5bd"/><rect x="400.81" y="476.4" width="2.0" height="4.0" fill="#1fb5bd"/><rect x="403.70" y="472.5" width="2.0" height="7.9" fill="#1fb5bd"/><rect x="406.58" y="472.2" width="2.0" height="8.2" fill="#1fb5bd"/><rect x="409.47" y="472.3" width="2.0" height="8.1" fill="#1fb5bd"/><rect x="412.35" y="471.7" width="2.0" height="8.7" fill="#1fb5bd"/><rect x="415.24" y="471.8" width="2.0" height="8.6" fill="#1fb5bd"/><rect x="418.12" y="473.2" width="2.0" height="7.2" fill="#1fb5bd"/><rect x="421.01" y="476.4" width="2.0" height="4.0" fill="#1fb5bd"/><rect x="423.89" y="479.9" width="2.0" height="0.5" fill="#1fb5bd"/><rect x="426.78" y="480.4" width="2.0" height="1.5" fill="#7d1212"/><rect x="429.66" y="480.4" width="2.0" height="0.8" fill="#7d1212"/><rect x="432.55" y="480.3" width="2.0" height="0.4" fill="#1fb5bd"/><rect x="435.44" y="479.7" width="2.0" height="0.7" fill="#1fb5bd"/><rect x="438.32" y="478.9" width="2.0" height="1.5" fill="#1fb5bd"/><rect x="441.20" y="478.7" width="2.0" height="1.7" fill="#1fb5bd"/><rect x="444.09" y="479.3" width="2.0" height="1.1" fill="#1fb5bd"/><rect x="446.97" y="479.3" width="2.0" height="1.1" fill="#1fb5bd"/><rect x="449.86" y="479.1" width="2.0" height="1.3" fill="#1fb5bd"/><rect x="452.75" y="478.6" width="2.0" height="1.8" fill="#1fb5bd"/><rect x="455.63" y="478.9" width="2.0" height="1.5" fill="#1fb5bd"/><rect x="458.51" y="479.3" width="2.0" height="1.1" fill="#1fb5bd"/><rect x="461.40" y="478.7" width="2.0" height="1.7" fill="#1fb5bd"/><rect x="464.28" y="479.4" width="2.0" height="1.0" fill="#1fb5bd"/><rect x="467.17" y="480.4" width="2.0" height="0.5" fill="#7d1212"/><rect x="470.05" y="480.4" width="2.0" height="2.2" fill="#7d1212"/><rect x="472.94" y="480.4" width="2.0" height="2.4" fill="#7d1212"/><rect x="475.82" y="480.4" width="2.0" height="2.5" fill="#7d1212"/><rect x="478.71" y="480.4" width="2.0" height="3.5" fill="#7d1212"/><rect x="481.59" y="480.4" width="2.0" height="4.7" fill="#7d1212"/><rect x="484.48" y="480.4" width="2.0" height="6.3" fill="#7d1212"/><rect x="487.36" y="480.4" width="2.0" height="7.8" fill="#7d1212"/><rect x="490.25" y="480.4" width="2.0" height="9.4" fill="#7d1212"/><rect x="493.13" y="480.4" width="2.0" height="8.7" fill="#7d1212"/><rect x="496.02" y="480.4" width="2.0" height="7.3" fill="#7d1212"/><rect x="498.90" y="480.4" width="2.0" height="5.9" fill="#7d1212"/><rect x="501.79" y="480.4" width="2.0" height="5.2" fill="#7d1212"/><rect x="504.67" y="480.4" width="2.0" height="5.0" fill="#7d1212"/><rect x="507.56" y="480.4" width="2.0" height="5.2" fill="#7d1212"/><rect x="510.44" y="480.4" width="2.0" height="2.3" fill="#7d1212"/><rect x="513.33" y="480.4" width="2.0" height="1.5" fill="#7d1212"/><rect x="516.21" y="480.4" width="2.0" height="2.9" fill="#7d1212"/><rect x="519.10" y="480.4" width="2.0" height="6.2" fill="#7d1212"/><rect x="521.98" y="480.4" width="2.0" height="11.7" fill="#7d1212"/><rect x="524.87" y="480.4" width="2.0" height="17.6" fill="#7d1212"/><rect x="527.75" y="480.4" width="2.0" height="22.1" fill="#7d1212"/><rect x="530.64" y="480.4" width="2.0" height="21.7" fill="#7d1212"/><rect x="533.52" y="480.4" width="2.0" height="20.3" fill="#7d1212"/><rect x="536.41" y="480.4" width="2.0" height="16.4" fill="#7d1212"/><rect x="539.29" y="480.4" width="2.0" height="16.2" fill="#7d1212"/><polyline points="0.0,512.4 4.5,519.2 10.1,522.6 15.8,519.2 22.5,514.7 31.6,509.0 40.6,502.3 47.3,498.9 54.1,496.6 60.9,492.1 67.6,484.2 74.4,477.5 81.2,471.8 90.2,467.3 101.4,462.8 110.5,454.9 117.2,447.1 124.0,443.7 128.5,445.9 135.3,452.7 139.5,459.4 144.0,468.5 148.5,476.4 153.0,483.1 159.8,486.5 166.6,484.2 173.3,483.8 182.3,486.5 189.1,492.1 195.9,501.2 202.6,510.2 208.3,515.8 212.8,516.5 218.4,512.4 225.2,508.6 231.9,506.8 238.7,504.5 245.5,497.8 252.2,489.9 259.0,480.9 265.7,469.6 270.0,464.0 274.5,458.3 281.3,454.9 288.0,451.6 293.7,446.6 299.3,443.2 306.1,442.1 312.8,442.5 320.7,442.5 328.6,444.3 335.4,447.5 341.0,454.9 346.6,464.0 353.4,470.0 360.2,475.2 364.7,479.7 370.3,487.6 376.0,491.7 382.7,493.3 389.5,492.1 396.2,487.6 403.0,482.0 409.5,473.0 415.1,468.5 420.8,466.2 427.5,466.2 434.3,465.5 441.1,463.3 450.1,460.6 459.1,459.0 465.9,458.3 472.6,459.4 479.4,461.0 485.0,464.0 490.7,469.6 497.4,476.4 504.2,480.9 510.9,483.8 516.6,485.4 522.2,489.9 527.9,498.9 532.4,509.0 536.9,519.2 540.0,526.8" fill="none" stroke="#c040d8" stroke-width="1.5" stroke-linejoin="round" stroke-linecap="round" /><polyline points="0.0,530.0 4.5,529.8 9.0,528.2 12.4,521.4 15.8,515.8 20.3,511.3 23.7,510.2 27.0,506.8 31.6,504.5 34.9,501.2 38.3,497.8 41.7,496.2 45.1,496.0 48.5,497.8 50.7,499.4 55.2,495.5 59.7,486.5 64.2,478.6 68.8,473.7 72.1,473.0 76.6,469.6 81.2,464.0 84.5,462.4 87.9,462.8 91.3,461.7 96.9,460.6 101.4,459.4 106.0,453.8 110.5,447.1 115.0,440.7 119.5,438.5 122.9,439.2 126.2,445.9 130.7,456.1 135.0,462.4 138.4,465.1 141.8,473.0 146.3,480.9 150.8,487.6 156.4,494.4 159.8,492.6 163.2,487.6 168.8,479.7 173.3,482.7 179.0,485.8 183.5,488.1 189.1,496.6 193.6,506.8 199.2,519.2 202.6,521.0 206.0,521.9 209.4,523.7 212.8,513.6 216.2,505.7 220.7,502.3 225.2,504.5 229.7,507.5 231.9,508.6 235.3,503.9 238.7,501.2 242.1,495.5 245.5,488.8 250.0,486.5 254.5,479.1 259.0,471.4 263.5,462.8 268.0,453.4 272.5,448.9 277.9,452.0 282.4,450.4 286.9,448.9 290.3,449.8 294.8,439.8 298.2,438.0 302.7,438.0 307.2,441.4 311.7,443.7 317.3,442.5 321.8,442.5 325.2,446.6 328.6,448.2 333.1,448.9 336.5,452.7 339.9,460.6 344.4,469.6 348.9,475.9 353.4,478.2 357.9,478.6 362.4,482.7 365.8,488.8 369.2,495.5 372.6,497.3 376.0,496.6 380.5,495.5 385.0,494.4 389.5,491.0 394.0,487.6 398.5,483.1 403.0,477.5 405.0,470.7 409.5,465.1 414.0,460.6 417.4,458.8 420.8,460.6 424.2,465.1 427.5,467.8 432.1,466.2 436.6,464.0 441.1,461.3 445.6,461.0 450.1,459.4 454.6,457.9 460.2,457.9 463.6,456.5 467.0,458.3 471.5,461.7 476.0,462.4 480.5,465.1 485.0,470.0 488.4,475.2 491.8,480.4 496.3,483.1 500.8,484.2 504.2,485.8 508.7,488.1 512.1,485.8 515.5,486.5 518.8,491.0 522.2,500.0 525.6,512.4 529.0,523.7 532.4,530.5 535.3,535.4 538.0,537.2 540.0,543.0" fill="none" stroke="#111" stroke-width="1.6" stroke-linejoin="round" stroke-linecap="round" /><line x1="0" y1="599.1" x2="570.5" y2="599.1" stroke="#6f78d0" stroke-width="1.1" /><line x1="0" y1="666.5" x2="570.5" y2="666.5" stroke="#6f78d0" stroke-width="1.1" /><line x1="0" y1="632.9" x2="570.5" y2="632.9" stroke="#7d85d6" stroke-width="1.3" stroke-dasharray="3.5,2.3,1.1,2.3"/><polyline points="0.0,678.8 4.5,675.5 9.0,668.7 12.4,639.4 15.8,612.3 18.0,600.0 20.3,610.1 23.7,634.9 28.2,636.7 32.7,632.6 37.2,626.3 40.6,624.1 44.0,628.1 47.3,639.4 50.0,649.5 53.0,642.8 56.4,630.4 59.1,603.3 62.0,592.1 64.7,579.7 67.6,581.9 73.3,593.2 77.8,589.8 81.6,582.6 85.2,588.7 87.9,606.7 91.3,612.8 93.6,612.3 96.5,598.4 99.2,600.0 102.6,594.3 106.0,593.2 110.5,584.2 116.1,580.8 119.5,584.2 122.9,588.7 126.2,604.5 128.5,628.1 130.7,665.3 134.1,681.1 137.3,667.6 140.6,669.8 145.1,682.2 148.5,682.2 151.9,675.5 156.4,669.8 159.8,663.7 162.1,646.2 165.4,611.2 168.4,594.8 171.1,604.5 174.5,630.4 176.7,648.4 180.1,652.9 183.5,654.0 188.0,665.3 192.5,683.4 195.9,683.4 200.4,678.8 204.9,669.8 208.3,668.7 211.6,665.3 215.0,632.6 217.3,606.7 220.2,594.3 222.9,612.3 226.3,639.4 229.2,664.2 231.5,675.5 234.2,659.7 237.6,632.6 240.5,612.3 243.2,605.6 245.9,598.8 248.8,609.0 251.8,610.1 254.5,601.1 257.9,584.8 261.2,584.8 264.6,587.5 268.0,586.4 272.3,583.5 274.5,594.3 277.9,612.3 280.8,619.1 283.5,617.3 286.2,601.5 289.2,605.6 292.5,598.8 294.8,596.6 297.5,588.0 300.4,594.3 303.8,604.5 307.2,611.2 310.6,613.5 314.0,609.0 317.3,595.4 320.7,586.9 324.1,596.6 327.5,607.4 330.9,605.6 333.1,600.6 335.4,602.2 337.6,623.6 339.9,648.4 343.3,675.5 346.6,677.7 349.4,681.1 352.3,671.0 355.2,664.2 357.9,660.8 360.6,665.3 363.6,673.2 366.9,677.3 370.3,675.5 373.7,667.6 377.1,660.8 380.5,657.4 382.7,649.5 385.0,632.6 387.2,610.1 390.2,596.6 392.9,593.2 395.8,596.6 398.5,600.6 401.9,593.9 405.0,595.4 408.4,591.6 411.8,588.7 415.8,581.2 418.5,584.2 420.8,594.3 423.0,619.1 425.3,637.1 427.5,647.3 430.2,637.1 432.5,623.6 435.4,605.6 438.4,592.1 442.2,584.6 445.1,588.7 449.0,588.7 452.8,587.5 456.4,594.3 459.6,596.6 463.2,596.6 465.9,602.2 468.8,616.8 471.5,631.5 473.8,629.2 476.7,618.0 479.4,611.2 481.6,627.0 485.0,641.6 488.4,661.9 491.8,669.8 494.7,673.7 497.4,669.1 500.8,664.2 504.2,661.5 507.6,658.6 510.5,646.2 512.8,628.1 514.8,615.0 517.0,621.4 519.3,637.1 521.1,657.4 522.7,678.8 525.6,678.8 528.5,680.4 531.2,676.6 534.6,676.6 537.6,672.1 539.8,676.6" fill="none" stroke="#7d7d7d" stroke-width="1.5" stroke-linejoin="round" stroke-linecap="round" /><polyline points="0.0,680.0 5.6,676.6 10.1,668.7 13.5,650.7 16.9,623.6 20.3,611.2 22.5,613.5 25.9,625.9 29.3,634.9 34.9,632.6 40.6,628.1 44.0,626.3 47.3,631.5 51.4,641.6 55.2,641.6 58.6,621.4 62.0,601.1 65.4,586.4 69.9,582.6 74.4,587.5 77.8,590.9 82.3,587.5 85.7,590.9 89.0,602.2 92.4,611.2 96.9,604.5 101.4,597.7 106.0,594.3 111.6,586.4 116.1,581.5 120.6,584.2 125.1,592.1 128.5,610.1 131.2,639.4 134.1,661.9 135.0,666.4 137.3,671.0 141.8,668.7 146.3,676.6 149.7,680.4 154.2,675.5 159.8,666.4 163.2,652.9 166.6,625.9 170.0,605.6 173.3,609.0 176.7,630.4 180.1,645.0 183.5,654.0 188.0,663.1 192.5,675.5 197.0,682.2 201.5,680.0 206.0,674.3 210.5,668.7 213.9,657.4 217.3,630.4 220.2,611.2 222.9,606.7 225.6,618.0 228.6,639.4 231.5,659.7 234.2,665.3 237.6,655.2 241.0,628.1 244.3,610.1 247.7,604.5 251.1,605.6 254.5,604.5 257.9,595.4 262.4,586.4 266.9,587.1 270.0,585.7 273.4,587.5 276.8,599.9 280.1,610.1 283.1,615.7 286.9,609.0 291.4,602.2 294.8,599.9 298.2,594.8 301.6,594.3 304.9,601.1 308.3,609.0 311.7,612.8 315.1,609.0 319.6,597.7 323.0,593.2 326.4,596.6 329.7,603.3 333.1,604.0 336.1,605.6 338.8,615.7 341.7,634.9 344.4,659.7 347.8,675.5 350.7,678.8 353.9,673.2 357.5,666.4 360.6,664.2 364.2,668.7 367.4,674.3 370.3,676.6 373.7,673.2 377.1,667.6 380.5,660.8 383.8,651.8 386.8,632.6 389.5,614.6 392.4,601.1 395.8,595.4 399.6,596.6 404.1,597.0 409.5,593.9 414.0,587.5 418.1,584.8 420.8,589.8 424.2,610.1 427.5,630.4 430.2,638.9 433.2,629.2 436.6,604.5 440.0,593.2 443.3,588.2 447.8,587.5 452.3,589.3 456.8,591.6 461.4,595.4 465.4,598.4 468.6,610.1 472.0,621.8 474.9,625.9 478.3,620.2 481.6,620.9 485.0,632.6 488.4,650.7 492.5,664.2 495.2,670.5 498.6,669.1 501.9,664.2 506.4,659.7 509.8,652.9 512.8,638.3 515.5,627.0 518.2,628.1 520.4,639.4 523.3,659.7 526.1,673.2 529.0,678.8 532.4,677.7 535.7,676.6 538.0,674.3 539.8,675.5" fill="none" stroke="#f39207" stroke-width="1.6" stroke-linejoin="round" stroke-linecap="round" /><line x1="0" y1="728.1" x2="570.5" y2="728.1" stroke="#4a5ee8" stroke-width="1.2" /><line x1="0" y1="801.0" x2="570.5" y2="801.0" stroke="#f0404a" stroke-width="1.2" /><line x1="0" y1="764.6" x2="570.5" y2="764.6" stroke="#666" stroke-width="1.3" stroke-dasharray="3.5,2.3,1.1,2.3"/><defs><clipPath id="abv70"><rect x="0" y="690" width="571" height="38.1"/></clipPath><clipPath id="blw30"><rect x="0" y="801" width="571" height="40"/></clipPath><clipPath id="mid"><rect x="0" y="728.1" width="571" height="72.9"/></clipPath></defs><polygon points="0,728.1 0.0,801.4 1.8,797.4 4.1,792.4 6.3,792.4 9.0,794.2 12.4,775.5 14.7,774.8 17.6,777.8 20.3,780.7 23.7,785.2 27.0,777.8 30.4,778.9 33.4,780.0 36.1,771.7 38.8,772.6 41.7,776.6 45.1,780.7 47.8,785.2 50.0,792.4 53.0,771.7 55.2,772.6 58.2,758.2 60.9,756.4 64.2,753.0 67.2,755.9 69.9,753.7 72.6,760.9 75.5,753.7 78.4,750.0 81.6,743.5 84.5,748.5 87.5,756.4 90.2,749.1 92.9,750.7 95.8,747.3 99.2,747.8 101.9,745.1 104.8,733.8 107.8,728.2 110.5,723.0 112.7,722.5 116.1,720.7 118.4,724.8 121.7,725.9 125.1,742.8 128.0,761.3 130.7,764.2 133.5,760.9 136.8,752.3 139.1,771.0 142.9,775.5 147.4,781.2 150.8,779.4 154.2,783.9 156.9,784.5 159.8,769.9 163.2,758.6 168.4,749.1 171.1,772.1 174.5,773.3 176.7,771.7 179.6,776.2 182.3,772.6 185.7,781.2 189.1,791.3 193.2,799.2 195.9,804.8 199.2,807.1 202.6,793.6 206.0,797.4 208.7,800.3 211.6,781.2 214.4,764.7 217.3,767.6 220.2,774.4 222.9,783.0 226.3,785.2 229.2,789.0 231.9,789.7 234.6,768.8 237.6,774.4 239.8,764.2 243.2,758.2 246.6,765.4 248.8,771.0 251.8,759.7 254.5,755.9 257.9,750.0 261.2,748.5 263.5,746.2 266.2,737.9 269.1,740.6 272.3,741.0 275.0,749.1 277.9,753.7 280.8,746.2 283.5,742.8 286.2,740.6 289.2,750.0 292.1,732.7 294.8,730.4 298.2,739.5 301.1,738.8 303.8,742.4 306.5,745.1 309.5,741.7 312.4,740.6 315.1,736.5 318.0,734.9 320.7,733.4 323.7,747.3 326.4,745.1 329.7,736.5 332.7,740.6 335.4,745.1 337.2,756.4 338.8,763.1 341.7,767.6 344.8,769.9 347.8,769.9 350.0,771.0 352.3,762.0 355.2,760.4 357.9,769.9 361.3,781.2 364.2,784.5 367.4,789.0 370.3,785.2 373.2,774.4 376.0,778.9 379.3,774.8 382.3,774.8 385.0,777.1 387.7,766.5 390.6,767.2 392.9,764.2 395.8,753.7 398.9,759.1 401.9,746.2 404.8,747.8 407.7,742.8 410.6,739.5 413.6,738.3 415.8,734.3 418.5,740.6 421.2,756.4 424.6,767.2 427.5,755.9 430.2,749.6 433.2,749.1 436.6,744.0 439.3,741.3 442.2,741.7 444.9,746.2 447.8,737.9 451.2,737.2 454.1,735.6 457.3,738.3 459.8,738.3 462.0,731.1 464.7,738.3 468.1,752.3 470.8,750.0 473.8,741.0 476.7,746.9 479.4,746.9 482.1,757.5 485.0,758.2 488.0,777.8 491.8,778.4 494.7,777.8 497.4,776.6 499.7,777.1 502.4,774.4 505.3,778.4 508.0,782.3 511.0,762.7 514.3,762.0 517.0,785.7 520.0,789.0 522.2,802.6 524.5,810.5 528.3,824.0 531.2,809.3 533.9,814.5 537.6,802.6 540.3,810.0 540.3,728.1" fill="#a9b0ff" clip-path="url(#abv70)"/><polygon points="0,801 0.0,801.4 1.8,797.4 4.1,792.4 6.3,792.4 9.0,794.2 12.4,775.5 14.7,774.8 17.6,777.8 20.3,780.7 23.7,785.2 27.0,777.8 30.4,778.9 33.4,780.0 36.1,771.7 38.8,772.6 41.7,776.6 45.1,780.7 47.8,785.2 50.0,792.4 53.0,771.7 55.2,772.6 58.2,758.2 60.9,756.4 64.2,753.0 67.2,755.9 69.9,753.7 72.6,760.9 75.5,753.7 78.4,750.0 81.6,743.5 84.5,748.5 87.5,756.4 90.2,749.1 92.9,750.7 95.8,747.3 99.2,747.8 101.9,745.1 104.8,733.8 107.8,728.2 110.5,723.0 112.7,722.5 116.1,720.7 118.4,724.8 121.7,725.9 125.1,742.8 128.0,761.3 130.7,764.2 133.5,760.9 136.8,752.3 139.1,771.0 142.9,775.5 147.4,781.2 150.8,779.4 154.2,783.9 156.9,784.5 159.8,769.9 163.2,758.6 168.4,749.1 171.1,772.1 174.5,773.3 176.7,771.7 179.6,776.2 182.3,772.6 185.7,781.2 189.1,791.3 193.2,799.2 195.9,804.8 199.2,807.1 202.6,793.6 206.0,797.4 208.7,800.3 211.6,781.2 214.4,764.7 217.3,767.6 220.2,774.4 222.9,783.0 226.3,785.2 229.2,789.0 231.9,789.7 234.6,768.8 237.6,774.4 239.8,764.2 243.2,758.2 246.6,765.4 248.8,771.0 251.8,759.7 254.5,755.9 257.9,750.0 261.2,748.5 263.5,746.2 266.2,737.9 269.1,740.6 272.3,741.0 275.0,749.1 277.9,753.7 280.8,746.2 283.5,742.8 286.2,740.6 289.2,750.0 292.1,732.7 294.8,730.4 298.2,739.5 301.1,738.8 303.8,742.4 306.5,745.1 309.5,741.7 312.4,740.6 315.1,736.5 318.0,734.9 320.7,733.4 323.7,747.3 326.4,745.1 329.7,736.5 332.7,740.6 335.4,745.1 337.2,756.4 338.8,763.1 341.7,767.6 344.8,769.9 347.8,769.9 350.0,771.0 352.3,762.0 355.2,760.4 357.9,769.9 361.3,781.2 364.2,784.5 367.4,789.0 370.3,785.2 373.2,774.4 376.0,778.9 379.3,774.8 382.3,774.8 385.0,777.1 387.7,766.5 390.6,767.2 392.9,764.2 395.8,753.7 398.9,759.1 401.9,746.2 404.8,747.8 407.7,742.8 410.6,739.5 413.6,738.3 415.8,734.3 418.5,740.6 421.2,756.4 424.6,767.2 427.5,755.9 430.2,749.6 433.2,749.1 436.6,744.0 439.3,741.3 442.2,741.7 444.9,746.2 447.8,737.9 451.2,737.2 454.1,735.6 457.3,738.3 459.8,738.3 462.0,731.1 464.7,738.3 468.1,752.3 470.8,750.0 473.8,741.0 476.7,746.9 479.4,746.9 482.1,757.5 485.0,758.2 488.0,777.8 491.8,778.4 494.7,777.8 497.4,776.6 499.7,777.1 502.4,774.4 505.3,778.4 508.0,782.3 511.0,762.7 514.3,762.0 517.0,785.7 520.0,789.0 522.2,802.6 524.5,810.5 528.3,824.0 531.2,809.3 533.9,814.5 537.6,802.6 540.3,810.0 540.3,801" fill="#ffb3b8" clip-path="url(#blw30)"/><polyline points="0.0,801.4 1.8,797.4 4.1,792.4 6.3,792.4 9.0,794.2 12.4,775.5 14.7,774.8 17.6,777.8 20.3,780.7 23.7,785.2 27.0,777.8 30.4,778.9 33.4,780.0 36.1,771.7 38.8,772.6 41.7,776.6 45.1,780.7 47.8,785.2 50.0,792.4 53.0,771.7 55.2,772.6 58.2,758.2 60.9,756.4 64.2,753.0 67.2,755.9 69.9,753.7 72.6,760.9 75.5,753.7 78.4,750.0 81.6,743.5 84.5,748.5 87.5,756.4 90.2,749.1 92.9,750.7 95.8,747.3 99.2,747.8 101.9,745.1 104.8,733.8 107.8,728.2 110.5,723.0 112.7,722.5 116.1,720.7 118.4,724.8 121.7,725.9 125.1,742.8 128.0,761.3 130.7,764.2 133.5,760.9 136.8,752.3 139.1,771.0 142.9,775.5 147.4,781.2 150.8,779.4 154.2,783.9 156.9,784.5 159.8,769.9 163.2,758.6 168.4,749.1 171.1,772.1 174.5,773.3 176.7,771.7 179.6,776.2 182.3,772.6 185.7,781.2 189.1,791.3 193.2,799.2 195.9,804.8 199.2,807.1 202.6,793.6 206.0,797.4 208.7,800.3 211.6,781.2 214.4,764.7 217.3,767.6 220.2,774.4 222.9,783.0 226.3,785.2 229.2,789.0 231.9,789.7 234.6,768.8 237.6,774.4 239.8,764.2 243.2,758.2 246.6,765.4 248.8,771.0 251.8,759.7 254.5,755.9 257.9,750.0 261.2,748.5 263.5,746.2 266.2,737.9 269.1,740.6 272.3,741.0 275.0,749.1 277.9,753.7 280.8,746.2 283.5,742.8 286.2,740.6 289.2,750.0 292.1,732.7 294.8,730.4 298.2,739.5 301.1,738.8 303.8,742.4 306.5,745.1 309.5,741.7 312.4,740.6 315.1,736.5 318.0,734.9 320.7,733.4 323.7,747.3 326.4,745.1 329.7,736.5 332.7,740.6 335.4,745.1 337.2,756.4 338.8,763.1 341.7,767.6 344.8,769.9 347.8,769.9 350.0,771.0 352.3,762.0 355.2,760.4 357.9,769.9 361.3,781.2 364.2,784.5 367.4,789.0 370.3,785.2 373.2,774.4 376.0,778.9 379.3,774.8 382.3,774.8 385.0,777.1 387.7,766.5 390.6,767.2 392.9,764.2 395.8,753.7 398.9,759.1 401.9,746.2 404.8,747.8 407.7,742.8 410.6,739.5 413.6,738.3 415.8,734.3 418.5,740.6 421.2,756.4 424.6,767.2 427.5,755.9 430.2,749.6 433.2,749.1 436.6,744.0 439.3,741.3 442.2,741.7 444.9,746.2 447.8,737.9 451.2,737.2 454.1,735.6 457.3,738.3 459.8,738.3 462.0,731.1 464.7,738.3 468.1,752.3 470.8,750.0 473.8,741.0 476.7,746.9 479.4,746.9 482.1,757.5 485.0,758.2 488.0,777.8 491.8,778.4 494.7,777.8 497.4,776.6 499.7,777.1 502.4,774.4 505.3,778.4 508.0,782.3 511.0,762.7 514.3,762.0 517.0,785.7 520.0,789.0 522.2,802.6 524.5,810.5 528.3,824.0 531.2,809.3 533.9,814.5 537.6,802.6 540.3,810.0" fill="none" stroke="#12a84a" stroke-width="1.6" stroke-linejoin="round" stroke-linecap="round" clip-path="url(#mid)"/><polyline points="0.0,801.4 1.8,797.4 4.1,792.4 6.3,792.4 9.0,794.2 12.4,775.5 14.7,774.8 17.6,777.8 20.3,780.7 23.7,785.2 27.0,777.8 30.4,778.9 33.4,780.0 36.1,771.7 38.8,772.6 41.7,776.6 45.1,780.7 47.8,785.2 50.0,792.4 53.0,771.7 55.2,772.6 58.2,758.2 60.9,756.4 64.2,753.0 67.2,755.9 69.9,753.7 72.6,760.9 75.5,753.7 78.4,750.0 81.6,743.5 84.5,748.5 87.5,756.4 90.2,749.1 92.9,750.7 95.8,747.3 99.2,747.8 101.9,745.1 104.8,733.8 107.8,728.2 110.5,723.0 112.7,722.5 116.1,720.7 118.4,724.8 121.7,725.9 125.1,742.8 128.0,761.3 130.7,764.2 133.5,760.9 136.8,752.3 139.1,771.0 142.9,775.5 147.4,781.2 150.8,779.4 154.2,783.9 156.9,784.5 159.8,769.9 163.2,758.6 168.4,749.1 171.1,772.1 174.5,773.3 176.7,771.7 179.6,776.2 182.3,772.6 185.7,781.2 189.1,791.3 193.2,799.2 195.9,804.8 199.2,807.1 202.6,793.6 206.0,797.4 208.7,800.3 211.6,781.2 214.4,764.7 217.3,767.6 220.2,774.4 222.9,783.0 226.3,785.2 229.2,789.0 231.9,789.7 234.6,768.8 237.6,774.4 239.8,764.2 243.2,758.2 246.6,765.4 248.8,771.0 251.8,759.7 254.5,755.9 257.9,750.0 261.2,748.5 263.5,746.2 266.2,737.9 269.1,740.6 272.3,741.0 275.0,749.1 277.9,753.7 280.8,746.2 283.5,742.8 286.2,740.6 289.2,750.0 292.1,732.7 294.8,730.4 298.2,739.5 301.1,738.8 303.8,742.4 306.5,745.1 309.5,741.7 312.4,740.6 315.1,736.5 318.0,734.9 320.7,733.4 323.7,747.3 326.4,745.1 329.7,736.5 332.7,740.6 335.4,745.1 337.2,756.4 338.8,763.1 341.7,767.6 344.8,769.9 347.8,769.9 350.0,771.0 352.3,762.0 355.2,760.4 357.9,769.9 361.3,781.2 364.2,784.5 367.4,789.0 370.3,785.2 373.2,774.4 376.0,778.9 379.3,774.8 382.3,774.8 385.0,777.1 387.7,766.5 390.6,767.2 392.9,764.2 395.8,753.7 398.9,759.1 401.9,746.2 404.8,747.8 407.7,742.8 410.6,739.5 413.6,738.3 415.8,734.3 418.5,740.6 421.2,756.4 424.6,767.2 427.5,755.9 430.2,749.6 433.2,749.1 436.6,744.0 439.3,741.3 442.2,741.7 444.9,746.2 447.8,737.9 451.2,737.2 454.1,735.6 457.3,738.3 459.8,738.3 462.0,731.1 464.7,738.3 468.1,752.3 470.8,750.0 473.8,741.0 476.7,746.9 479.4,746.9 482.1,757.5 485.0,758.2 488.0,777.8 491.8,778.4 494.7,777.8 497.4,776.6 499.7,777.1 502.4,774.4 505.3,778.4 508.0,782.3 511.0,762.7 514.3,762.0 517.0,785.7 520.0,789.0 522.2,802.6 524.5,810.5 528.3,824.0 531.2,809.3 533.9,814.5 537.6,802.6 540.3,810.0" fill="none" stroke="#2a3ee8" stroke-width="1.6" stroke-linejoin="round" stroke-linecap="round" clip-path="url(#abv70)"/><polyline points="0.0,801.4 1.8,797.4 4.1,792.4 6.3,792.4 9.0,794.2 12.4,775.5 14.7,774.8 17.6,777.8 20.3,780.7 23.7,785.2 27.0,777.8 30.4,778.9 33.4,780.0 36.1,771.7 38.8,772.6 41.7,776.6 45.1,780.7 47.8,785.2 50.0,792.4 53.0,771.7 55.2,772.6 58.2,758.2 60.9,756.4 64.2,753.0 67.2,755.9 69.9,753.7 72.6,760.9 75.5,753.7 78.4,750.0 81.6,743.5 84.5,748.5 87.5,756.4 90.2,749.1 92.9,750.7 95.8,747.3 99.2,747.8 101.9,745.1 104.8,733.8 107.8,728.2 110.5,723.0 112.7,722.5 116.1,720.7 118.4,724.8 121.7,725.9 125.1,742.8 128.0,761.3 130.7,764.2 133.5,760.9 136.8,752.3 139.1,771.0 142.9,775.5 147.4,781.2 150.8,779.4 154.2,783.9 156.9,784.5 159.8,769.9 163.2,758.6 168.4,749.1 171.1,772.1 174.5,773.3 176.7,771.7 179.6,776.2 182.3,772.6 185.7,781.2 189.1,791.3 193.2,799.2 195.9,804.8 199.2,807.1 202.6,793.6 206.0,797.4 208.7,800.3 211.6,781.2 214.4,764.7 217.3,767.6 220.2,774.4 222.9,783.0 226.3,785.2 229.2,789.0 231.9,789.7 234.6,768.8 237.6,774.4 239.8,764.2 243.2,758.2 246.6,765.4 248.8,771.0 251.8,759.7 254.5,755.9 257.9,750.0 261.2,748.5 263.5,746.2 266.2,737.9 269.1,740.6 272.3,741.0 275.0,749.1 277.9,753.7 280.8,746.2 283.5,742.8 286.2,740.6 289.2,750.0 292.1,732.7 294.8,730.4 298.2,739.5 301.1,738.8 303.8,742.4 306.5,745.1 309.5,741.7 312.4,740.6 315.1,736.5 318.0,734.9 320.7,733.4 323.7,747.3 326.4,745.1 329.7,736.5 332.7,740.6 335.4,745.1 337.2,756.4 338.8,763.1 341.7,767.6 344.8,769.9 347.8,769.9 350.0,771.0 352.3,762.0 355.2,760.4 357.9,769.9 361.3,781.2 364.2,784.5 367.4,789.0 370.3,785.2 373.2,774.4 376.0,778.9 379.3,774.8 382.3,774.8 385.0,777.1 387.7,766.5 390.6,767.2 392.9,764.2 395.8,753.7 398.9,759.1 401.9,746.2 404.8,747.8 407.7,742.8 410.6,739.5 413.6,738.3 415.8,734.3 418.5,740.6 421.2,756.4 424.6,767.2 427.5,755.9 430.2,749.6 433.2,749.1 436.6,744.0 439.3,741.3 442.2,741.7 444.9,746.2 447.8,737.9 451.2,737.2 454.1,735.6 457.3,738.3 459.8,738.3 462.0,731.1 464.7,738.3 468.1,752.3 470.8,750.0 473.8,741.0 476.7,746.9 479.4,746.9 482.1,757.5 485.0,758.2 488.0,777.8 491.8,778.4 494.7,777.8 497.4,776.6 499.7,777.1 502.4,774.4 505.3,778.4 508.0,782.3 511.0,762.7 514.3,762.0 517.0,785.7 520.0,789.0 522.2,802.6 524.5,810.5 528.3,824.0 531.2,809.3 533.9,814.5 537.6,802.6 540.3,810.0" fill="none" stroke="#ee1c2c" stroke-width="1.6" stroke-linejoin="round" stroke-linecap="round" clip-path="url(#blw30)"/><polyline points="0.0,861.9 6.8,863.0 14.7,865.7 22.5,870.9 31.6,876.6 40.6,883.3 49.6,890.1 58.6,895.0 67.6,900.2 75.5,904.1 84.5,905.2 94.7,905.9 102.6,904.7 110.5,901.4 119.5,897.3 128.5,894.1 135.0,892.8 144.0,893.0 153.0,893.5 162.1,895.0 171.1,896.8 180.1,899.1 189.1,902.5 198.1,907.0 207.1,911.5 213.9,914.2 220.7,917.1 227.4,921.6 234.2,927.3 241.0,931.8 247.7,935.8 254.5,938.6 261.2,938.6 268.0,937.4 275.0,937.0 279.0,937.0 288.0,934.0 297.0,929.5 306.1,925.7 315.1,921.2 324.1,917.8 333.1,914.9 339.9,913.1 348.9,912.6 357.9,912.6 366.9,914.4 376.0,917.1 385.0,920.5 394.0,923.9 403.0,925.0 410.0,925.0 414.0,925.0 423.0,924.4 432.1,922.8 441.1,920.1 450.1,916.7 459.1,913.8 468.1,912.0 477.1,910.8 486.2,910.4 495.2,909.9 504.2,909.9 513.2,910.4 520.0,911.5 526.7,915.3 533.5,920.5 539.8,925.0" fill="none" stroke="#9166c4" stroke-width="1.6" stroke-linejoin="round" stroke-linecap="round" /><polyline points="0.0,874.8 1.8,871.6 4.1,869.3 6.8,873.2 9.5,880.6 12.4,874.8 15.3,880.0 18.0,885.6 21.4,892.3 23.7,898.7 27.0,891.2 29.8,895.0 32.7,900.9 35.6,898.0 38.3,900.9 41.7,904.7 45.1,910.4 47.8,914.9 50.0,919.4 53.0,913.8 55.9,917.1 59.1,912.6 62.0,908.1 64.9,904.7 67.6,907.0 70.3,904.7 73.3,907.7 76.6,902.5 79.4,898.7 81.6,894.6 84.5,898.0 87.5,901.8 90.2,899.1 92.9,901.4 95.8,898.4 99.2,900.2 102.6,896.4 106.0,890.1 110.5,884.5 113.2,886.3 116.1,882.9 119.0,886.0 122.2,884.5 125.8,889.0 128.9,893.5 131.9,891.9 136.8,889.6 139.5,894.1 143.6,900.2 147.4,905.4 150.3,901.8 153.5,907.0 156.4,910.4 159.8,904.7 163.9,898.0 167.7,893.5 171.1,899.1 173.8,903.2 176.7,898.7 179.6,903.6 182.8,900.2 185.7,905.4 189.1,912.6 192.5,919.4 196.3,927.3 199.7,932.9 202.6,928.9 205.3,932.5 208.3,936.3 211.2,931.8 214.4,927.3 217.3,930.7 220.7,935.2 224.0,939.2 227.0,943.1 229.7,948.7 231.5,951.4 234.2,944.2 237.6,949.1 241.0,944.2 243.7,940.1 246.6,944.2 248.8,947.6 252.2,941.9 256.7,936.3 261.2,929.5 265.7,922.8 269.1,925.7 272.3,922.8 275.0,928.0 277.9,931.8 281.3,927.3 284.0,924.4 286.2,921.6 289.2,925.0 292.1,918.3 294.8,914.4 297.5,917.6 300.4,912.2 303.4,915.3 306.1,918.3 308.8,914.4 311.7,911.5 315.1,908.1 318.5,905.4 321.2,904.7 324.1,908.1 326.8,905.9 329.7,899.6 332.7,905.4 335.8,911.5 338.8,917.1 341.7,921.6 344.4,923.4 347.1,919.4 350.0,922.8 353.0,916.0 355.7,910.4 357.9,913.8 360.6,920.5 363.6,927.3 366.9,932.5 369.6,928.4 372.6,925.0 375.5,928.0 378.7,926.2 381.6,928.4 384.5,931.1 387.2,928.9 389.5,930.7 392.9,926.2 395.8,922.8 398.5,926.6 401.2,923.4 404.1,927.3 407.7,922.8 410.6,918.3 413.6,912.6 415.8,908.6 418.5,913.8 421.9,920.5 424.8,926.2 427.5,922.1 430.9,917.1 434.3,912.2 437.7,907.7 440.6,906.3 442.9,906.5 445.1,909.7 447.8,907.0 450.1,907.7 453.5,903.2 456.4,906.3 459.1,910.4 462.0,907.7 464.7,910.8 467.7,914.9 470.4,912.6 473.8,909.9 476.7,912.2 479.4,909.9 482.3,913.1 485.0,909.9 488.0,913.1 490.7,916.0 493.6,911.5 496.3,907.7 499.2,910.4 502.4,907.4 505.3,910.8 508.2,913.8 511.0,910.8 514.3,908.1 517.3,913.8 520.0,918.3 522.2,926.2 524.5,937.4 526.7,951.0 528.5,964.5 530.8,953.2 533.0,964.5 536.2,952.1 539.8,965.6" fill="none" stroke="#2584dc" stroke-width="1.6" stroke-linejoin="round" stroke-linecap="round" /><text x="580.3" y="45.2" class="ax">38.00</text><text x="580.3" y="93.2" class="ax">36.00</text><text x="580.3" y="142.0" class="ax">34.00</text><text x="580.3" y="190.4" class="ax">32.00</text><text x="580.3" y="239.2" class="ax">30.00</text><text x="580.3" y="310.4" class="ax">150.00M</text><text x="580.3" y="343.2" class="ax">100.00M</text><text x="580.3" y="375.8" class="ax">50.00M</text><text x="580.3" y="409.6" class="ax">0.00M</text><text x="580.3" y="438.1" class="ax">1.00</text><text x="580.3" y="483.2" class="ax">0.00</text><text x="580.3" y="527.4" class="ax">-1.00</text><text x="580.3" y="579.7" class="ax">100.00</text><text x="580.3" y="635.7" class="ax">50.00</text><text x="580.3" y="691.4" class="ax">0.00</text><text x="580.3" y="712.6" class="ax">80.00</text><text x="580.3" y="749.6" class="ax">60.00</text><text x="580.3" y="785.9" class="ax">40.00</text><text x="580.3" y="823.2" class="ax">20.00</text><text x="580.3" y="897.3" class="ax">0.000B</text><text x="580.3" y="950.4" class="ax">-0.500B</text><text x="26.8" y="990.8" class="mo" text-anchor="middle">Jul '22</text><text x="84.5" y="990.8" class="mo" text-anchor="middle">Aug '22</text><text x="150.8" y="990.8" class="mo" text-anchor="middle">Sep '22</text><text x="211.3" y="990.8" class="mo" text-anchor="middle">Oct '22</text><text x="271.6" y="990.8" class="mo" text-anchor="middle">Nov '22</text><text x="332.5" y="990.8" class="mo" text-anchor="middle">Dec '22</text><text x="393.0" y="990.8" class="mo" text-anchor="middle">Jan '23</text><text x="450.3" y="990.8" class="mo" text-anchor="middle">Feb '23</text><text x="505.3" y="990.8" class="mo" text-anchor="middle">Mar '23</text><polygon points="570.6,42.9 576,34.9 607,34.9 607,50.9 576,50.9" fill="#c80018" /><text x="591.3" y="45.4" class="tg" text-anchor="middle" fill="#fff">37.96</text><polygon points="570.6,92.4 576,84.4 607,84.4 607,100.4 576,100.4" fill="#a50a17" /><text x="591.3" y="94.9" class="tg" text-anchor="middle" fill="#fff">35.93</text><polygon points="570.6,104.9 576,96.9 607,96.9 607,112.9 576,112.9" fill="#0a0a0a" /><text x="591.3" y="107.4" class="tg" text-anchor="middle" fill="#fff">35.42</text><polygon points="570.6,106.9 576,98.9 607,98.9 607,114.9 576,114.9" fill="#a50a17" /><text x="591.3" y="109.4" class="tg" text-anchor="middle" fill="#fff">35.31</text><polygon points="570.6,115.0 576,107.0 607,107.0 607,123.0 576,123.0" fill="#0a0a0a" /><text x="591.3" y="117.5" class="tg" text-anchor="middle" fill="#fff">34.99</text><polygon points="570.6,128.7 576,120.7 607,120.7 607,136.7 576,136.7" fill="#ef4a22" /><text x="591.3" y="131.2" class="tg" text-anchor="middle" fill="#fff">34.41</text><polygon points="570.6,133.5 576,125.5 607,125.5 607,141.5 576,141.5" fill="#cc0a1a" /><text x="591.3" y="136.0" class="tg" text-anchor="middle" fill="#fff">34.21</text><polygon points="570.6,138.7 576,130.7 607,130.7 607,146.7 576,146.7" fill="#a50a17" /><text x="591.3" y="141.2" class="tg" text-anchor="middle" fill="#fff">34.06</text><polygon points="570.6,142.7 576,134.7 607,134.7 607,150.7 576,150.7" fill="#0a0a0a" /><text x="591.3" y="145.2" class="tg" text-anchor="middle" fill="#fff">33.87</text><polygon points="570.6,146.8 576,138.8 607,138.8 607,154.8 576,154.8" fill="#a50a17" /><text x="591.3" y="149.3" class="tg" text-anchor="middle" fill="#fff">33.68</text><polygon points="570.6,195.6 576,187.6 607,187.6 607,203.6 576,203.6" fill="#0a0a0a" /><text x="591.3" y="198.1" class="tg" text-anchor="middle" fill="#fff">31.66</text><polygon points="570.6,215.1 576,207.1 607,207.1 607,223.1 576,223.1" fill="#c80018" /><text x="591.3" y="217.6" class="tg" text-anchor="middle" fill="#fff">30.86</text><polygon points="570.6,212.0 576,204.0 607,204.0 607,220.0 576,220.0" fill="#ef4a2b" /><text x="591.3" y="214.5" class="tg" text-anchor="middle" fill="#fff">30.98</text><polygon points="570.6,316.4 576,308.4 620,308.4 620,324.4 576,324.4" fill="#ef4a2b" /><text x="597.8" y="318.9" class="tg" text-anchor="middle" fill="#fff">136.76M</text><polygon points="570.6,496.2 576,488.2 604,488.2 604,504.2 576,504.2" fill="#7d1212" /><text x="589.8" y="498.7" class="tg" text-anchor="middle" fill="#fff">-0.36</text><polygon points="570.6,525.8 576,517.8 604,517.8 604,533.8 576,533.8" fill="#c040d8" /><text x="589.8" y="528.3" class="tg" text-anchor="middle" fill="#fff">-1.03</text><polygon points="570.6,542.0 576,534.0 604,534.0 604,550.0 576,550.0" fill="#0a0a0a" /><text x="589.8" y="544.5" class="tg" text-anchor="middle" fill="#fff">-1.40</text><polygon points="570.6,675.6 576,667.6 606.4,667.6 606.4,683.6 576,683.6" fill="#f39207" /><polygon points="570.6,677.2 576,669.2 606.4,669.2 606.4,685.2 576,685.2" fill="#808080" /><text x="591.0" y="679.7" class="tg" text-anchor="middle" fill="#fff">10.32</text><polygon points="570.6,809.8 576,801.8 606.7,801.8 606.7,817.8 576,817.8" fill="#ee1c2c" /><text x="591.1" y="812.3" class="tg" text-anchor="middle" fill="#fff">25.35</text><polygon points="570.6,925.9 576,917.9 615.5,917.9 615.5,933.9 576,933.9" fill="#9166c4" /><text x="595.5" y="928.4" class="tg" text-anchor="middle" fill="#fff">-0.294B</text><polygon points="570.6,965.9 576,957.9 615.5,957.9 615.5,973.9 576,973.9" fill="#2584dc" /><text x="595.5" y="968.4" class="tg" text-anchor="middle" fill="#fff">-0.674B</text><text x="11" y="23.2" class="ti">S&amp;P 500 Financials Sector SPDR (XLF.BZ) - Barchart.com</text><text x="324" y="43.9" class="cn">xlf创最低价，cs事件继续发酵</text></svg>
</body></html>
